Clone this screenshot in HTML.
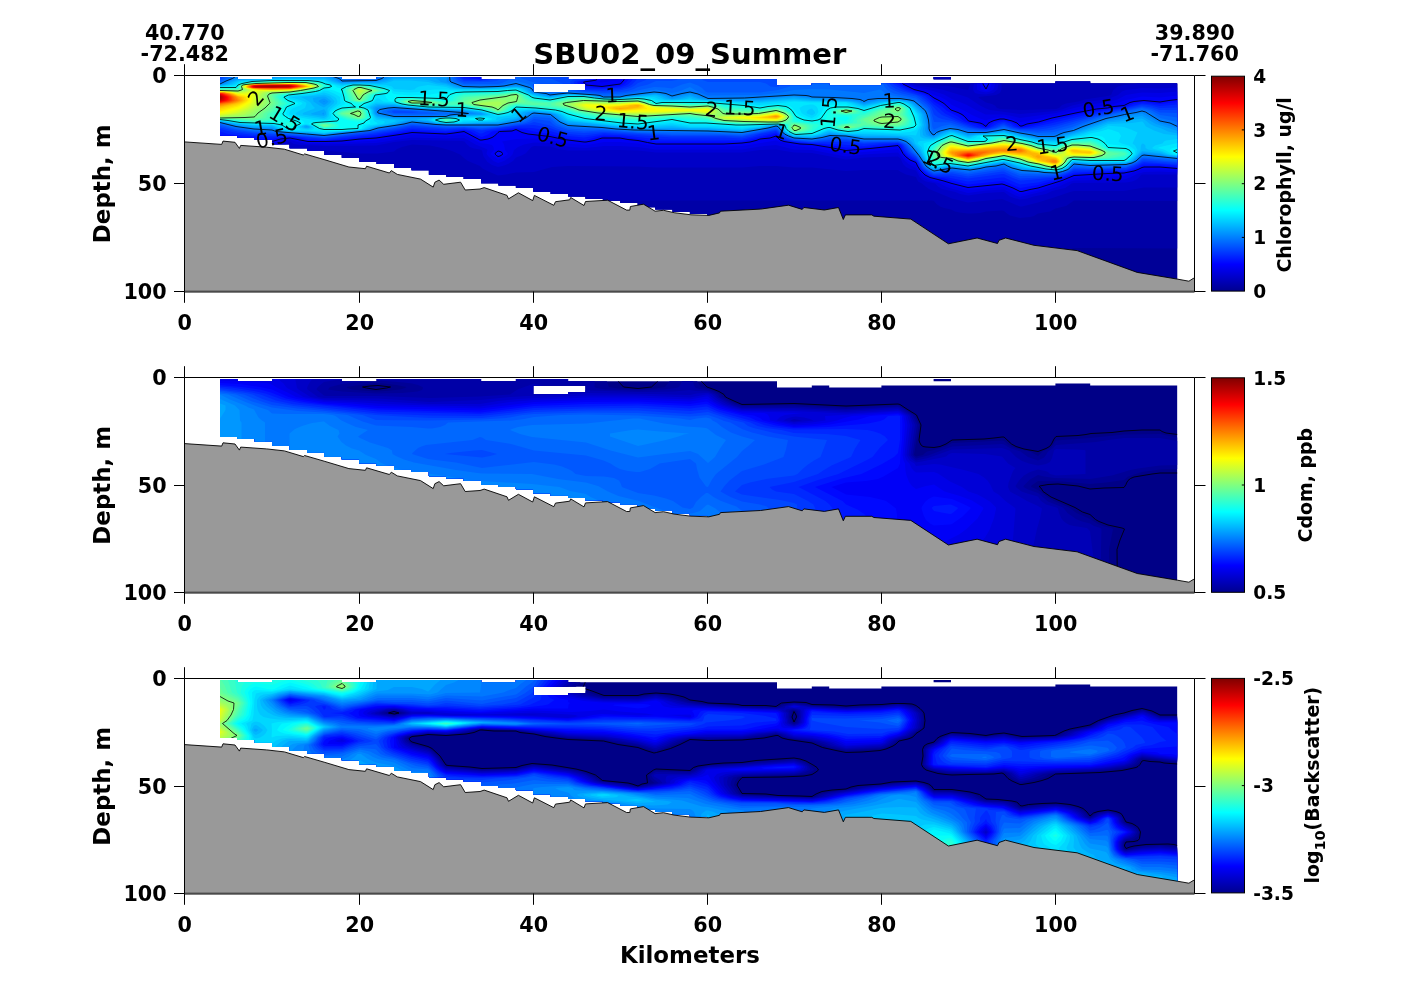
<!DOCTYPE html>
<html><head><meta charset="utf-8"><title>SBU02_09_Summer</title>
<style>
html,body{margin:0;padding:0;background:#fff}
svg{display:block}
text{font-family:'DejaVu Sans','Liberation Sans',sans-serif;font-weight:bold;fill:#000}
.t{font-size:20.7px}
.c{font-size:18.6px}
.cl{font-size:18.9px}
.l{font-size:22.9px}
.k{font-size:20px;font-weight:normal}
.ax{stroke:#000;stroke-width:1;fill:none}
</style></head><body>
<svg width="1422" height="1005" viewBox="0 0 1422 1005">
<defs>
<filter id="nf" filterUnits="userSpaceOnUse" x="0" y="0" width="1422" height="1005"><feOffset dx="0" dy="0"/></filter>
<linearGradient id="jet" x1="0" y1="1" x2="0" y2="0">
<stop offset="0" stop-color="rgb(0,0,143)"/>
<stop offset="0.125" stop-color="rgb(0,0,255)"/>
<stop offset="0.375" stop-color="rgb(0,255,255)"/>
<stop offset="0.625" stop-color="rgb(255,255,0)"/>
<stop offset="0.875" stop-color="rgb(255,0,0)"/>
<stop offset="1" stop-color="rgb(128,0,0)"/>
</linearGradient>
<clipPath id="cp0"><path clip-rule="evenodd" d="M220.0,77.0L237.4,77.0L237.4,79.3L254.8,79.3L254.8,79.3L272.2,79.3L272.2,77.0L289.6,77.0L289.6,77.0L307.0,77.0L307.0,77.0L324.4,77.0L324.4,77.0L341.8,77.0L341.8,79.3L359.2,79.3L359.2,79.3L376.6,79.3L376.6,77.0L394.1,77.0L394.1,77.0L411.5,77.0L411.5,77.0L428.9,77.0L428.9,77.0L446.3,77.0L446.3,77.0L463.7,77.0L463.7,77.0L481.1,77.0L481.1,79.3L498.5,79.3L498.5,79.3L515.9,79.3L515.9,77.0L533.3,77.0L533.3,77.0L550.7,77.0L550.7,77.0L568.1,77.0L568.1,79.3L585.5,79.3L585.5,79.3L602.9,79.3L602.9,79.3L620.3,79.3L620.3,79.3L637.7,79.3L637.7,79.3L655.1,79.3L655.1,79.3L672.5,79.3L672.5,79.3L689.9,79.3L689.9,79.3L707.3,79.3L707.3,79.3L724.7,79.3L724.7,79.3L742.2,79.3L742.2,79.3L759.6,79.3L759.6,79.3L777.0,79.3L777.0,85.6L794.4,85.6L794.4,85.6L811.8,85.6L811.8,83.6L829.2,83.6L829.2,85.6L846.6,85.6L846.6,85.6L864.0,85.6L864.0,85.6L881.4,85.6L881.4,83.6L898.8,83.6L898.8,83.6L916.2,83.6L916.2,83.6L933.6,83.6L933.6,83.6L951.0,83.6L951.0,83.6L968.4,83.6L968.4,83.6L985.8,83.6L985.8,83.6L1003.2,83.6L1003.2,83.6L1020.6,83.6L1020.6,83.6L1038.0,83.6L1038.0,83.6L1055.4,83.6L1055.4,81.4L1072.8,81.4L1072.8,81.4L1090.2,81.4L1090.2,83.6L1107.7,83.6L1107.7,83.6L1125.1,83.6L1125.1,83.6L1142.5,83.6L1142.5,83.6L1159.9,83.6L1159.9,83.6L1177.3,83.6L1177.3,279.7L1137.2,273.0L1077.1,251.2L1034.0,245.9L1005.6,238.6L999.0,240.9L997.5,244.1L977.1,238.6L948.4,244.4L910.8,219.7L873.9,216.8L871.8,215.5L845.4,215.5L843.3,220.1L838.5,208.1L824.3,210.6L803.9,208.1L802.2,210.0L788.5,205.8L760.6,209.7L720.5,211.8L719.5,213.5L708.9,216.0L707.3,216.0L707.3,214.0L689.9,214.0L689.9,212.0L672.5,212.0L672.5,209.4L655.1,209.4L655.1,207.3L637.7,207.3L637.7,203.1L620.3,203.1L620.3,200.9L602.9,200.9L602.9,198.8L585.5,198.8L585.5,196.6L568.1,196.6L568.1,193.9L550.7,193.9L550.7,191.8L533.3,191.8L533.3,187.7L515.9,187.7L515.9,185.4L498.5,185.4L498.5,183.2L481.1,183.2L481.1,179.1L463.7,179.1L463.7,176.8L446.3,176.8L446.3,174.7L428.9,174.7L428.9,170.3L411.5,170.3L411.5,168.1L394.1,168.1L394.1,163.9L376.6,163.9L376.6,161.7L359.2,161.7L359.2,157.7L341.8,157.7L341.8,155.1L324.4,155.1L324.4,150.9L307.0,150.9L307.0,148.2L289.6,148.2L289.6,144.3L272.2,144.3L272.2,139.9L254.8,139.9L254.8,137.4L237.4,137.4L237.4,135.4L220.0,135.4ZM533.3,83.8L533.3,92.2L568.1,92.2L568.1,90.0L585.5,90.0L585.5,83.8ZM933.6,77.0L951.0,77.0L951.0,79.3L933.6,79.3Z"/></clipPath>
<clipPath id="cp1"><path clip-rule="evenodd" d="M220.0,379.0L237.4,379.0L237.4,381.3L254.8,381.3L254.8,381.3L272.2,381.3L272.2,379.0L289.6,379.0L289.6,379.0L307.0,379.0L307.0,379.0L324.4,379.0L324.4,379.0L341.8,379.0L341.8,381.3L359.2,381.3L359.2,381.3L376.6,381.3L376.6,379.0L394.1,379.0L394.1,379.0L411.5,379.0L411.5,379.0L428.9,379.0L428.9,379.0L446.3,379.0L446.3,379.0L463.7,379.0L463.7,379.0L481.1,379.0L481.1,381.3L498.5,381.3L498.5,381.3L515.9,381.3L515.9,379.0L533.3,379.0L533.3,379.0L550.7,379.0L550.7,379.0L568.1,379.0L568.1,381.3L585.5,381.3L585.5,381.3L602.9,381.3L602.9,381.3L620.3,381.3L620.3,381.3L637.7,381.3L637.7,381.3L655.1,381.3L655.1,381.3L672.5,381.3L672.5,381.3L689.9,381.3L689.9,381.3L707.3,381.3L707.3,381.3L724.7,381.3L724.7,381.3L742.2,381.3L742.2,381.3L759.6,381.3L759.6,381.3L777.0,381.3L777.0,387.6L794.4,387.6L794.4,387.6L811.8,387.6L811.8,385.6L829.2,385.6L829.2,387.6L846.6,387.6L846.6,387.6L864.0,387.6L864.0,387.6L881.4,387.6L881.4,385.6L898.8,385.6L898.8,385.6L916.2,385.6L916.2,385.6L933.6,385.6L933.6,385.6L951.0,385.6L951.0,385.6L968.4,385.6L968.4,385.6L985.8,385.6L985.8,385.6L1003.2,385.6L1003.2,385.6L1020.6,385.6L1020.6,385.6L1038.0,385.6L1038.0,385.6L1055.4,385.6L1055.4,383.4L1072.8,383.4L1072.8,383.4L1090.2,383.4L1090.2,385.6L1107.7,385.6L1107.7,385.6L1125.1,385.6L1125.1,385.6L1142.5,385.6L1142.5,385.6L1159.9,385.6L1159.9,385.6L1177.3,385.6L1177.3,580.8L1137.2,574.1L1077.1,552.4L1034.0,547.2L1005.6,539.9L999.0,542.2L997.5,545.4L977.1,539.9L948.4,545.7L910.8,521.1L873.9,518.2L871.8,516.9L845.4,516.9L843.3,521.5L838.5,509.5L824.3,512.0L803.9,509.5L802.2,511.4L788.5,507.2L760.6,511.1L720.5,513.2L719.5,514.9L708.9,517.4L707.3,517.3L707.3,515.4L689.9,515.4L689.9,513.4L672.5,513.4L672.5,510.8L655.1,510.8L655.1,508.7L637.7,508.7L637.7,504.5L620.3,504.5L620.3,502.3L602.9,502.3L602.9,500.2L585.5,500.2L585.5,498.0L568.1,498.0L568.1,495.4L550.7,495.4L550.7,493.3L533.3,493.3L533.3,489.2L515.9,489.2L515.9,486.9L498.5,486.9L498.5,484.7L481.1,484.7L481.1,480.6L463.7,480.6L463.7,478.3L446.3,478.3L446.3,476.2L428.9,476.2L428.9,471.9L411.5,471.9L411.5,469.7L394.1,469.7L394.1,465.5L376.6,465.5L376.6,463.3L359.2,463.3L359.2,459.3L341.8,459.3L341.8,456.7L324.4,456.7L324.4,452.6L307.0,452.6L307.0,449.9L289.6,449.9L289.6,446.0L272.2,446.0L272.2,441.6L254.8,441.6L254.8,439.1L237.4,439.1L237.4,437.1L220.0,437.1ZM533.3,385.8L533.3,394.1L568.1,394.1L568.1,391.9L585.5,391.9L585.5,385.8ZM933.6,379.0L951.0,379.0L951.0,381.3L933.6,381.3Z"/></clipPath>
<clipPath id="cp2"><path clip-rule="evenodd" d="M220.0,680.0L237.4,680.0L237.4,682.3L254.8,682.3L254.8,682.3L272.2,682.3L272.2,680.0L289.6,680.0L289.6,680.0L307.0,680.0L307.0,680.0L324.4,680.0L324.4,680.0L341.8,680.0L341.8,682.3L359.2,682.3L359.2,682.3L376.6,682.3L376.6,680.0L394.1,680.0L394.1,680.0L411.5,680.0L411.5,680.0L428.9,680.0L428.9,680.0L446.3,680.0L446.3,680.0L463.7,680.0L463.7,680.0L481.1,680.0L481.1,682.3L498.5,682.3L498.5,682.3L515.9,682.3L515.9,680.0L533.3,680.0L533.3,680.0L550.7,680.0L550.7,680.0L568.1,680.0L568.1,682.3L585.5,682.3L585.5,682.3L602.9,682.3L602.9,682.3L620.3,682.3L620.3,682.3L637.7,682.3L637.7,682.3L655.1,682.3L655.1,682.3L672.5,682.3L672.5,682.3L689.9,682.3L689.9,682.3L707.3,682.3L707.3,682.3L724.7,682.3L724.7,682.3L742.2,682.3L742.2,682.3L759.6,682.3L759.6,682.3L777.0,682.3L777.0,688.6L794.4,688.6L794.4,688.6L811.8,688.6L811.8,686.6L829.2,686.6L829.2,688.6L846.6,688.6L846.6,688.6L864.0,688.6L864.0,688.6L881.4,688.6L881.4,686.6L898.8,686.6L898.8,686.6L916.2,686.6L916.2,686.6L933.6,686.6L933.6,686.6L951.0,686.6L951.0,686.6L968.4,686.6L968.4,686.6L985.8,686.6L985.8,686.6L1003.2,686.6L1003.2,686.6L1020.6,686.6L1020.6,686.6L1038.0,686.6L1038.0,686.6L1055.4,686.6L1055.4,684.4L1072.8,684.4L1072.8,684.4L1090.2,684.4L1090.2,686.6L1107.7,686.6L1107.7,686.6L1125.1,686.6L1125.1,686.6L1142.5,686.6L1142.5,686.6L1159.9,686.6L1159.9,686.6L1177.3,686.6L1177.3,881.8L1137.2,875.1L1077.1,853.4L1034.0,848.2L1005.6,840.9L999.0,843.2L997.5,846.4L977.1,840.9L948.4,846.7L910.8,822.1L873.9,819.2L871.8,817.9L845.4,817.9L843.3,822.5L838.5,810.5L824.3,813.0L803.9,810.5L802.2,812.4L788.5,808.2L760.6,812.1L720.5,814.2L719.5,815.9L708.9,818.4L707.3,818.3L707.3,816.4L689.9,816.4L689.9,814.4L672.5,814.4L672.5,811.8L655.1,811.8L655.1,809.7L637.7,809.7L637.7,805.5L620.3,805.5L620.3,803.3L602.9,803.3L602.9,801.2L585.5,801.2L585.5,799.0L568.1,799.0L568.1,796.4L550.7,796.4L550.7,794.3L533.3,794.3L533.3,790.2L515.9,790.2L515.9,787.9L498.5,787.9L498.5,785.7L481.1,785.7L481.1,781.6L463.7,781.6L463.7,779.3L446.3,779.3L446.3,777.2L428.9,777.2L428.9,772.9L411.5,772.9L411.5,770.7L394.1,770.7L394.1,766.5L376.6,766.5L376.6,764.3L359.2,764.3L359.2,760.3L341.8,760.3L341.8,757.7L324.4,757.7L324.4,753.6L307.0,753.6L307.0,750.9L289.6,750.9L289.6,747.0L272.2,747.0L272.2,742.6L254.8,742.6L254.8,740.1L237.4,740.1L237.4,738.1L220.0,738.1ZM533.3,686.8L533.3,695.1L568.1,695.1L568.1,692.9L585.5,692.9L585.5,686.8ZM933.6,680.0L951.0,680.0L951.0,682.3L933.6,682.3Z"/></clipPath>
</defs>
<rect width="1422" height="1005" fill="#fff"/>
<g id="panel0">
<g clip-path="url(#cp0)"><rect x="220.0" y="75.5" width="957.6" height="216.0" fill="rgb(0,0,135)"/>
<path fill="#000097" d="M220,75.5l957.5,0l0,216l-957.5,0z"/>
<path fill="#0000a7" d="M220,75.5l957.5,0l0,173l-103.5-0.5l-24,6.5l-18,3.5l-12,1.5l-18-5l-34,2.5l-18-3l-16-5.5l-2-0.5l-434,0l-18-2l-16-3.5l-18,0l-34-3l-36-5l-18-1l-32-4l-36-6l-18-1.5l-18-2.5l-34-3z"/>
<path fill="#0000b7" d="M220,75.5l957.5,0l0,125.5l-103.5-0.5l-8,5.5l-10.5,2.5l-5.5,3l-12,2l-4,2.5l-4,1l-10,1l-10-2.5l-3-2l-3-2.5l-2-0.5l-16,1l-6,1.5l-8,0.5l-4,0l-8.5-1l-4.5-1l-4-2l-7-1.5l-4-1.5l-3.5-2.5l-2.5-3l-2-0.5l-434,0l-18-3l-16-5.5l-18,0l-34-4.5l-18-3.5l-15-3.5l-21-2l-28-5l-21-5l-12-2.5l-7-2.5l-26-2.5l-6-1l-4-2.5l-12-0.5l-5-1.5l-11-0.5l-4-0.5l-2-1.5z"/>
<path fill="#0000c7" d="M220,75.5l694.5,0l0,7.5l1.5,1l32,2l20,4l2.5-6l0.5-8.5l30.5,0l0,14l-1.5,3.5l-2,1l-2,1l-17.5,2l0.5,1l7,4.5l6,1.5l3,1.5l2,2.5l3.5,1l21.5,1l34-1l3-1l3-3l4-1.5l12.5-2l6-2l23.5-3.5l3-1l2.5-5.5l4.5-3l6-1.5l11.5-1l2-1l0-7.5l40,0l0,112l-33.5,0l-20,3.5l-50,0l-4,1l-16,5.5l-16,5l-16,4l-2,0l-13-5.5l-5-2l-34,3.5l-16-4l-23-9.5l-3.5-2.5l-3.5-3l-4-2l-2-4.5l-10-2.5l-6-3l-2-1.5l-34,0l-18,1l-34-3.5l-18,0l-18-1.5l-16,0l-18,1.5l-86,0l-18-1l-70-0.5l-16,1l-18,5l-18,0.5l-10,2l-8,1l-9.5-4l-6-3l-2.5-2.5l-12-5l-3.5-2.5l-4.5-4l-8-3.5l-10-3l-12-2.5l-18-1l-10,2.5l-5,2l-3,2.5l-16,2l-18,0l-36-3l-16,4l-2,0l-16-4.5l-4,3.5l-4,1.5l-10,2l-14-2.5l-38-4.5z"/>
<path fill="#0000d7" d="M220,75.5l691.5,0l0,7.5l4.5,2.5l12,1.5l14,2.5l20,6l6,2l12,8l6,3l4,1.5l30,4l36-3l7.5-2l8.5-3.5l18-4l18-2.5l10-4l4-3.5l4-1.5l16-2l18,0.5l17.5-1l0,87l-35.5,0l-1,0.5l-2.5,3l-2.5,2l-4,1.5l-6,1l-52,0.5l-2.5,0.5l-2.5,2l-4,2.5l-13,3l-6,3l-12.5,2.5l-6,2l-7.5,1l-6-1.5l-4-1.5l-6-4.5l-2,0l-16,1l-18,2.5l-8-1.5l-4.5-2l-13.5-3l-4-2.5l-3-3l-9-2l-4-2l-2.5-2.5l-3.5-6.5l-6-1.5l-4-2l-3-3l-2.5-5.5l-2.5-2l-34,1l-18,2l-34-6.5l-18-0.5l-18-3l-16,0.5l-18,2.5l-86,0l-18-2l-18-0.5l-16,0l-18,0.5l-18,0l-10-1.5l-5.5-2l-2.5-0.5l-16-0.5l-2.5,1l-6,6.5l-4,2l-5.5,2l-3,3.5l-5,3l-4,1.5l-6,1.5l-6-2l-4.5-3l-4-5.5l-1.5-6l-2-1l-6-1l-4-1.5l-3-2.5l-2.5-3l-2.5-0.5l-50-1l-18,2l-18,3.5l-50,0.5l-26-1l-6-1l-4-2.5l-2,1l-4.5,4.5l-3.5,2.5l-8,3.5l-34-3.5l-18-2.5zM974,75.5l24.5,0l0,7.5l-1,6.5l-2.5,2l-2,1.5l-7,1.5l-7-0.5l-4-1l-1-1.5l-1-2l1-6.5z"/>
<path fill="#0000e7" d="M220,75.5l688.5,0l0,7.5l1.5,1.5l6,2.5l12,2.5l16,5l8,4.5l14,5.5l10,5.5l9.5,4.5l18.5,0l8,1.5l8,2l36-5l18-5l16-3.5l18-2.5l9.5-2.5l8.5-4.5l6-1l10-1.5l18,0.5l17.5-1.5l0,81l-17.5-1l-16,0.5l-7,2l-7,3.5l-6,2l-50,1l-6.5,2l-7.5,3.5l-19.5,6l-20.5,5l-4.5-1.5l-11.5-6l-18,1l-18,2.5l-20-5.5l-4.5-2l-3.5-2l-11-3l-6.5-3.5l-2-2l-4.5-7l-4-2l-3.5-2l-3.5-3l-7-8.5l-34,2l-18,2l-34-6.5l-18-0.5l-18-4.5l-16,1.5l-18,3l-86,0l-18-2.5l-18-1l-16,0l-18,2l-16-1l-20-4l-16-0.5l-10,2l-6,2.5l-4,3l-1.5,4.5l-3,3l-5.5,3.5l-6,2l-4.5-2l-5-4.5l-1.5-2l-0.5-1l1-3.5l-1-1l-11-4.5l-5-3l-6.5-3.5l-18,0.5l-34-1l-36,5.5l-50,1.5l-20-0.5l-16-4l-6,1.5l-12,7l-34-2l-18-2.5zM977,75.5l18.5,0l0,7.5l-2,6.5l-3.5,2l-4,1l-5-1l-4-2z"/>
<path fill="#0000f7" d="M220,75.5l380.5,0l0,4.5l-0.5,1l-1.5,1l3.5,0.5l16-2.5l1-1.5l0-3l286,0l0,7.5l1,1l10,4.5l12,3l6,3.5l6.5,2l5.5,3l6,5l12,5.5l8,4.5l8,3.5l6,2l2-1l6-1.5l10-1.5l10,3l6,2.5l2,0l40-8l12-3.5l40-6.5l12-4l16-3.5l18,1l17.5-2l0,75l-17.5-1l-16,0l-2,0l-18,6.5l-50,2l-18,6.5l-18,6l-18,4l-12-6l-4-1.5l-2,0l-34,3l-16-4l-9-3.5l-13-3.5l-4.5-2l-3-2l-4-5.5l-2.5-4.5l-8-4l-2-2l-3.5-3.5l-4.5-6.5l-52,4.5l-31-5.5l-21-2l-14-4l-4-1.5l-34,5.5l-18,0.5l-68,0l-18-3l-18-1.5l-16,0l-14,2.5l-6,0.5l-16-1.5l-18-3.5l-16-1.5l-18,0.5l-14,2.5l2,3l1,5.5l3,3.5l-0.5,1l-3.5,2.5l-4,2l-2,0.5l-7-5l0-1l3-3.5l-0.5-3l-1.5-2l-4-1l-8-1l-16-8.5l-18,1.5l-34-1.5l-36,6l-34,2l-18,0.5l-16,0l-18-4l-11.5,2.5l-6.5,3l-18,0l-16-1l-18-2.5zM980,75.5l12,0l0,7.5l-2.5,6.5l-3.5,1.5l-4.5-1.5l-1.5-6z"/>
<path fill="#0008ff" d="M220,75.5l377,0l-0.5,4.5l-2.5,0.5l-10.5,1.5l2.5,3l16,1.5l18.5-2.5l3.5-4l0.5-4.5l277.5,0l0,7.5l1,1l11,5.5l10,2.5l4.5,2l5.5,4l5,2.5l5,3l7,6.5l11,4.5l2.5,2l4,4.5l11.5,2l6,3.5l2-3l2.5-1.5l3.5-1.5l6-1.5l4,0l8,2l5,2l3,3l2,0l5-2l11.5-2l13.5-4l26-5.5l18.5-3.5l27.5-3.5l6-3l4-1l10-1l16,1.5l17.5-2.5l0,69l-17.5-1.5l-16,0l-2,0.5l-8,3.5l-10,2l-50,2.5l-12,5l-24,7.5l-16,3.5l-2,0l-7-3.5l-9-3.5l-12,0.5l-24,2.5l-16-4l-10-3l-12-3l-5-2.5l-5-5l-2.5-4l-1.5-3.5l-6-2.5l-4.5-3.5l-2.5-3l-3-5.5l-2-2.5l-28,3l-24,2l-16-3l-18-3l-12-0.5l-16-2.5l-4-1.5l-4-4l-6,2l-10,1l-10,3l-8,1l-16,1l-70,0l-18-3.5l-10-1l-8-1.5l-18,0l-8,2.5l-10,1.5l-20-2.5l-14-3l-22-2.5l-6-1.5l-6-3l-4,1.5l-12.5,0.5l-1.5,1l-3.5,3.5l-2.5,1.5l-4,1.5l-6,1l-2,0l-16-8.5l-18,2.5l-34-1.5l-34,5.5l-40,3l-14,0.5l-16,0l-18-3.5l-9.5,1l-8.5,2.5l-34-1l-18-2zM983,75.5l6,0l0,7.5l-3,6l-3-5zM498,151l2,0.5l2,1l0.5,1l0,1l-2.5,1.5l-2,0.5l-1.5-1l-1-1l-0.5-1z"/>
<path fill="#0018ff" d="M220,75.5l244,0l0,1l16,2l4.5-1l-1-2l110,0l0,3l-1,1.5l-12.5,2l2,3l4,2l16,1l18-2l2.5-1l2-1l4-4l0-4.5l270,0l0,7.5l3,2l8.5,4.5l12,3.5l4.5,2l3,2l4.5,4.5l8,5l5,4.5l11,5.5l6,4.5l4,1.5l8,1.5l8,3.5l2,0l3-1l5-4l8-2l2,0l6,1.5l4,2l3.5,2.5l2.5,0.5l2,0.5l6.5-1l53.5-13l20-3.5l24-3.5l8-3l5-1l5-0.5l16,2l17.5-2l0,65l-17.5-1.5l-16,0l-2,0l-8,4l-8,2l-52,2.5l-18,6.5l-9.5,2l-8.5,2.5l-18,3l-16-7l-2,0l-34,3.5l-24-6l-12-1.5l-4.5-2l-6.5-5.5l-2.5-3.5l-2.5-5l-5-2.5l-4-3l-3-3.5l-3.5-6.5l-2.5-1l-34,3l-18,0l-22-3l-20-1l-16-2l-6-2l-2-1.5l-2-2.5l-2-1.5l-34,7.5l-86,0l-32-4.5l-20-1l-6.5,1l-11.5,3l-18-1.5l-18-4.5l-16-2.5l-8-2l-10-1l-24,3l-4,3l-6,2.5l-2-0.5l-9.5-5l-6.5-1.5l-18,2.5l-34-2l-36,6l-34,3l-16,1l-18-0.5l-10-2l-8-1l-12.5,1l-5.5,1.5l-34-1.5l-18-2.5z"/>
<path fill="#0028ff" d="M220,75.5l241.5,0l0,1l2.5,1.5l16,1.5l6-1l2-1l-0.5-2l102.5,0l0,3l-1,1.5l-9,1l-3,1l1.5,3l7.5,3.5l16,0.5l18-1.5l6-2l2.5-1.5l4-4l0-4.5l263,0l0,7.5l1,1l9.5,5.5l14,4.5l5,2l4,3.5l5,5l5,3.5l3,3l3,2.5l17.5,8.5l16.5,5.5l5,0.5l2,0.5l4-1l8-4.5l6-1.5l6,2l4.5,3l5.5,1.5l10.5-0.5l17.5-3.5l48-11.5l30-5l16-4l10,1l8,1.5l17.5-1.5l0,61l-17.5-1.5l-16-0.5l-2,0.5l-8,4l-8,2.5l-52,2l-18,6.5l-10,1.5l-8,2l-18,2l-16-7l-2,0l-34,4l-20-4l-14-1l-2-0.5l-4-2l-6-5l-2.5-3l-1-3l-2.5-3l-4-2.5l-4-3l-3-3.5l-3-5.5l-1-1l-3-1l-14,0.5l-20,2l-32-2l-24-1l-14-1.5l-8-1.5l-4-2l-4-4l-2-1.5l-34,7.5l-78-0.5l-8-0.5l-32-3.5l-20-1l-20,3l-16-1.5l-18-5l-18-3l-16-0.5l-25.5,3l-4.5,1l-4,2l-2,0l-6.5-3l-9.5-1l-18,1.5l-34-2l-36,6l-36,3.5l-16,1.5l-16-1l-8-1.5l-10-1l-18,1l-28-2l-16-1.5l-8-2.5z"/>
<path fill="#0038ff" d="M220,75.5l239.5,0l0,1l1,1l3.5,2l16,1l5.5-0.5l5-1.5l1.5-1l-0.5-2l94.5,0l0,3.5l-2.5,1l-7.5,0.5l-2.5,1.5l1.5,3l5,3l4.5,1.5l17.5,1l18-1.5l9-2.5l3.5-2.5l4-4l0.5-4.5l255.5,0l0,7.5l1.5,2l10.5,5.5l17,5.5l7,5.5l9.5,10.5l4,3l22,9l10.5,3.5l9.5,1.5l2,0l6-1.5l8-3.5l4-1l10,4.5l6,1.5l12-0.5l10-1.5l12-2l44-11.5l28-5l16-4l8.5,1l9.5,2.5l17.5-0.5l0,57l-33.5-2.5l-2,0.5l-2.5,1.5l-5.5,2.5l-8,3l-18,0l-18,1l-16,0l-9.5,4.5l-8.5,2.5l-34,3l-2,0l-6-2l-10-4.5l-2,0l-34,4.5l-18-3l-16,0l-4-1.5l-7.5-5.5l-1.5-2.5l-2.5-4l-2.5-3.5l-4-2.5l-4-3.5l-5.5-8l-4.5-1.5l-16,0l-18,1l-18-2l-16,0l-18,0.5l-18-1.5l-6-1.5l-4-1.5l-8-7l-16,3l-8,2.5l-10,2l-18-1l-52,0l-68-4.5l-20,2.5l-16-1.5l-8.5-2.5l-9.5-3.5l-16-3l-18,1l-34,4.5l-18-2l-18,1l-34-2l-22,4l-18,2.5l-48,5l-32-3l-20,0l-18-1l-20-2.5l-14-3.5z"/>
<path fill="#0048ff" d="M222.5,75.5l235,0l0,1l1,1l5.5,3.5l16,0l8-0.5l6-1.5l1.5-1.5l0-2l75.5,0l0,1l2,2l-0.5,1.5l-2,1l-0.5,1l1,2l2,2.5l4,2l7,2l20,1l16-1l10-2.5l4-2l4-3l8-3l0.5-4.5l242.5,0l0,7.5l3,3.5l4,2.5l6.5,2.5l13.5,3.5l4,2l5.5,4.5l4.5,4l2,3.5l2,5.5l4,3l4,1.5l10,2l18,6.5l10,1.5l7.5,0.5l8.5-2l6-3l2,0l7,3l9,2l18,0l8.5-1l9.5-2l44-12l26-5l16-3.5l10,1.5l8,2.5l17.5,0l0,53l-33.5-2.5l-2,0.5l-2.5,2l-3.5,1.5l-10,3.5l-36,1.5l-16-0.5l-6,3.5l-12,4l-18,1l-18,1l-7-2.5l-9-4.5l-2,0l-34,5l-16-3l-18,1l-4-2l-6-4l-2-2.5l-2.5-4l-3.5-5l-6.5-5l-5.5-7l-4-2.5l-2-0.5l-16,0l-18,1l-18-2.5l-16,0l-18,1.5l-18-1.5l-4.5-1.5l-5.5-2l-4-3l-2-3l-2-1l-20,4l-14,3l-18-1l-52,0l-68-4l-20,1l-16-1l-10-3l-8-3.5l-16-3.5l-4,1.5l-6,1l-42,5l-18-2l-18,1l-34-2.5l-14,3l-30,4.5l-44,4.5l-20-1.5l-50-3l-16.5-2l-17.5-4l0-49.5l2.5-1.5z"/>
<path fill="#0058ff" d="M226,75.5l229.5,0l0.5,2l2,2l2.5,1.5l3.5,1.5l24-0.5l8-1l2-0.5l2.5-2l0-3l30.5,0l0,1l3,1.5l16,0.5l2,0.5l11.5,5l4.5,1.5l4.5,3l5,2l6.5,1l20,1.5l16-1l8-1l6-2l4-2l10-2.5l8-3.5l16,0l2-0.5l3-0.5l1-1.5l0-3l24,0l0,3l0.5,1.5l5.5,2l52,0l6,1.5l4.5,3l5.5,0.5l3-0.5l0-11l107,0l0,7.5l1,2l3.5,3.5l4,2l7.5,3l14,3l4,3l6.5,5l3,3.5l1,2l3.5,12l16,0.5l16,5l10,2l10,1l9.5-2l6.5-2.5l2-0.5l7,3l9,2l18,1l14-1.5l4-1l16-4.5l10-3.5l18-5l26-5.5l16-3.5l10,2l8,3.5l17.5,0.5l0,49l-33.5-3l-2,0.5l-6,4l-10,4l-36,1l-16-0.5l-6,3.5l-10,3.5l-4,0.5l-34,0.5l-16-6.5l-2,0l-34,5l-16-2.5l-18,1.5l-7.5-4l-2.5-2l-7.5-11l-5.5-4.5l-5.5-7.5l-4-2l-3.5-1l-34,0.5l-18-2.5l-16,0l-18,1.5l-18-1.5l-6-1.5l-4-2l-4-3.5l-2-2.5l-2-1l-34,7l-18-1l-52,0l-34-2l-36-2.5l-18,1l-16-1.5l-12-4l-3-2l-3-3l-16-2l-5,3l-5,1.5l-26,3.5l-18,1.5l-16-1.5l-18,0.5l-34-2.5l-16,3l-22,3.5l-50,6l-18-1.5l-52-3.5l-20-3l-14-3.5l0-46.5l6-3zM394,110.5l-1.5,0.5l-0.5,1l2,1l18,0l6.5-1l-6.5-0.5z"/>
<path fill="#0068ff" d="M229,75.5l120,0l0,1l5,2l6,0.5l7-0.5l0-3l86.5,0l0.5,2l3,3.5l7,3l18,0l16,0l4-1l9.5-4.5l0-3l8.5,0l0,1l1.5,2l12.5,4l10,2l8,2.5l16,2l3.5,1.5l5,1l27.5,3l18-1l12-2l8-2l12-2.5l10.5,0.5l7.5,1l10-4l8-2l8,3l4,2.5l3.5,3.5l2.5,1l52,0l18-2.5l12-3.5l0-11l92.5,0l0.5,8.5l2,3.5l3,3l6,3l22,5l10,8.5l2,2l2,4.5l1.5,6.5l1,7.5l1.5,2l8-3.5l8-1.5l18,5l10,1.5l8,0l18-4l6,2l10,2.5l18,1.5l16-1l18-5l10-4l20-6.5l40-8.5l8.5,2l9.5,5l17.5,2.5l0,43l-33.5-2.5l-2,0l-3,3l-3.5,2l-9.5,3.5l-36,1l-16-1l-4,3l-3.5,2l-12.5,3l-34-0.5l-16-6l-2-0.5l-34,5.5l-16-2.5l-18,2l-6-3l-4-3l-6.5-10l-5.5-5.5l-5-6.5l-5-2.5l-4-1.5l-34,0.5l-18-2.5l-16-0.5l-18,2.5l-18-1.5l-8.5-3l-4.5-3.5l-3-3.5l-2-1l-34,7l-34-1.5l-36,0l-34-1l-36-3l-18,0l-16-1l-6-2l-5.5-2.5l-6.5-6l-16-1l-8,4.5l-4,1l-24,4l-16,1l-18-1l-18,0l-34-2.5l-18,3.5l-22,3.5l-48,6l-42-3.5l-10-1l-18-1l-18-2.5l-16-4.5l0-43.5l7.5-3.5l1.5-1zM392,110l-4.5,1l-0.5,1l7,2l18,0.5l27-1l-27-3l-18-1z"/>
<path fill="#0078ff" d="M232,75.5l106.5,0l0,1l5.5,2l6,1l10,0.5l18-1.5l0.5-3l73,0l0.5,2.5l2,3.5l10,4l34,0l11.5-2.5l6.5-2l10,2.5l4,1.5l4,2.5l16,5.5l18-1.5l28,3l8,1.5l16-0.5l36-6l16,3.5l7-1.5l11-4.5l7.5,4.5l10.5,4l52-0.5l22-2.5l12-2.5l18-1l18,0.5l34,3.5l16-3.5l2,1l2.5,2.5l3.5,1.5l26,5.5l2,0.5l5.5,4l4.5,4.5l2.5,4.5l1.5,6.5l1,8.5l1,2l2,2l5-3l11-3l20,5l16,0.5l18-3.5l16,3.5l12,1.5l6,1.5l16-0.5l18-5.5l9-4l22.5-7.5l28.5-5.5l10-2.5l6.5,1.5l11.5,7l17.5,4l0,37.5l-33.5-3l-2,0.5l-6,5l-10,3.5l-36,1l-16-1.5l-5,4.5l-3,1.5l-12,3l-32-1.5l-12-3.5l-6-3l-2,0l-34,5.5l-16-2.5l-18,2.5l-6-3l-3-2.5l-7-10.5l-4.5-4.5l-5-6.5l-5.5-3l-5-1.5l-34,0l-18-3l-16-0.5l-8,2l-10,1l-18-1l-6-2l-4-2.5l-3-2.5l-3-3.5l-2-1l-34,7l-34-1.5l-36-0.5l-34-0.5l-36-3l-16-0.5l-16-1l-2,0l-8-3l-10-8l-16-1l-8,4.5l-5.5,2.5l-22.5,3.5l-16,0.5l-36-0.5l-34-2.5l-8,2l-26,4l-6,1.5l-46,5.5l-40-3l-10-1l-4-1l-18-0.5l-16-2.5l-10-2l-8-2.5l0-41l10.5-5l1.5-1zM390,109l-6,1.5l-1.5,0.5l-0.5,1l2.5,1.5l9.5,2l36,0l16-1l11-1l-47-4l-16-1z"/>
<path fill="#0087ff" d="M235.5,75.5l97.5,0l0,1l6,2l3,2.5l34-0.5l6-2l2.5-2l0-1l65,0l0.5,5.5l1,1l13,4.5l18,0.5l18-0.5l16-3l13.5,4l2,1l2.5,3.5l12,1.5l4,1.5l8-1l10-1l28,2l4,0.5l4,1.5l16.5,0l5.5-1.5l28-3.5l12,1.5l6,2.5l18-4l8,2l10,4.5l36.5-0.5l49.5-3l12,0.5l6,1.5l22,0.5l18,1l8,1l2.5,1l1.5,1l4-2l10-1l22,0l10,1.5l4,1l8.5,7l3,3l1.5,3.5l1.5,5.5l0.5,5l0,3.5l0.5,2l2.5,3.5l2,1l2.5-2.5l3.5-1.5l10-2.5l8,1l12,3l16,0l18-3l16,3.5l12,2l6,1.5l16,0l2-0.5l8-3.5l9.5-2l9.5-4l23-8l12-2.5l6.5-1.5l11.5-2l6-1.5l3.5,1l14.5,9l10,2l7.5,3.5l0,32l-33.5-3.5l-2,0.5l-6,5.5l-4,2l-6,1.5l-36,1l-16-1.5l-6,5.5l-5.5,2l-6.5,1.5l-12-0.5l-6-1l-16-1l-10-2.5l-8-4l-8,2l-10,1l-6,1.5l-10,1.5l-10-1l-8-1l-18,3l-4-2l-4-3l-7-10.5l-9-11l-4.5-3l-5.5-2l-36-0.5l-18-3l-16-0.5l-8,2l-10,1.5l-18-1l-5.5-2l-4-2l-2.5-2.5l-4-5l-2-0.5l-8,2l-26,4.5l-34-1.5l-70-0.5l-18-1l-18-2l-34-2l-8-3.5l-9.5-7.5l-16.5-1.5l-2,0.5l-6,4.5l-8,3.5l-20,3.5l-52,0l-34-3l-8,2l-26,4l-8,2.5l-28,2.5l-16,2.5l-42-3l-8-1l-4-1.5l-18-1l-16-2l-18-4.5l0-38.5l6-3l6.5-2.5l3-2zM388,108l-8,1.5l-2,1.5l-0.5,1l0.5,1l16,3.5l52,0l8-2l14.5-1l-6.5-1l-68-5z"/>
<path fill="#0097ff" d="M244,75.5l17.5,0l0,1l10.5,1l11-1l0-1l44.5,0l0,1l7.5,2l3.5,2.5l3.5,1l36-1l8-2.5l4.5-2l0-1l57,0l-1,5.5l0.5,1l15,5l18,0.5l11.5,0l19-1l5.5-1l12,2.5l1,0.5l2.5,3l2,1.5l8.5,1l8,2l8-1.5l10-0.5l26,1l4.5,1l3.5,1.5l18,0l12-2l24-2.5l8,1.5l8,3l18-4l6,1.5l6.5,3l5.5,1l34,0l16,0l36-3l18,2l40,2l6,1l6,2l8-2l6-1l24-0.5l6,1l4,1l2,1l8,7l3.5,5l2,10.5l-0.5,3.5l0.5,3l2,3.5l2.5,1l2,0l8-4.5l6-2l4,0l8,1.5l8,2.5l20-0.5l16-3l34,8l18-0.5l8-3.5l10.5-2.5l11.5-4.5l22-7.5l10-1.5l24-4.5l17.5,9.5l18,5.5l0,29l-33.5-4l-2,0.5l-7.5,7l-8.5,3l-36,0.5l-16-1.5l-2,1l-2,3l-3,2.5l-5,2l-6,1l-10-0.5l-24-2.5l-9-2l-9-4l-32,5.5l-8,0l-14-2l-16,3l-4-1.5l-3-2.5l-7.5-11.5l-10.5-12l-3.5-2l-5.5-2l-36-0.5l-11.5-2l-22.5-1.5l-10,2.5l-8,1.5l-18-1l-8.5-3.5l-3-2.5l-4-5l-2.5-1l-10,2.5l-24,4l-34-2l-52-0.5l-18,0l-18-1l-18-2l-34-2.5l-7-3l-8-6.5l-3-1l-16-1.5l-5,1.5l-5,4l-8,3.5l-18,3l-52,0.5l-12-1l-6-1l-16-1.5l-5.5,1l-6,2l-24.5,3.5l-6,2.5l-29.5,2.5l-14.5,2.5l-40-3l-8-1l-6-2.5l-18-0.5l-16-2l-18-4l0-37.5l3-0.5l5-2.5l10-4l6-1zM324,101l-1,0.5l1,0.5l1-0.5zM388,107l-10.5,1l-1.5,1l0,4.5l2,1l16,3l18,0l38-1l8-1.5l18.5-1.5l-14.5-2.5l-36-1.5l-32-3z"/>
<path fill="#00a7ff" d="M279,77.5l11-0.5l34,0l7.5,1.5l7,3.5l3.5,1l18-1l16,0l10-2l8-2.5l36,0.5l6,0.5l2,1l3,2.5l5,1l12,4l6,1l18,0l34-1.5l6,0.5l4.5,1.5l5.5,4.5l18,3.5l18-2.5l24,1.5l10,2l18,0l36-3.5l8,1.5l5,2.5l3,1l5.5-1l12.5-3l8,3l10,1.5l50,0.5l36-3l18,2l36.5,1.5l7.5,1l8,2.5l16-3.5l20-0.5l8,1l4,1.5l8.5,7.5l3,4.5l1,4l1.5,6.5l-1,5.5l1.5,4.5l3.5,1.5l4,0.5l10-5l6-2l2,0l16,5l24-2l12-2l34,7.5l18,0l10-3.5l12-3.5l30-10.5l12-1.5l22-3.5l14,8l21.5,7l0,26l-9.5-1l-8-2l-16-1.5l-2,0l-9,8.5l-7,2.5l-36,0.5l-16-1.5l-2,1l-3,4l-3,2l-4,1.5l-6,1l-8,0l-26-3l-6-2l-7.5-3l-4.5-1.5l-34,6l-20-2l-16,3l-6-3.5l-10-15.5l-8-9l-4-2.5l-6-1.5l-36-0.5l-8-1.5l-18-1l-8-1l-10,2.5l-8,1.5l-18-0.5l-8-3.5l-3.5-3l-3-4l-3.5-1.5l-12,2.5l-22,4l-34-2l-18,0l-18-1l-34,0.5l-18-1l-52-5l-6-3l-6.5-5.5l-1.5-0.5l-4-1l-16-1.5l-6,0.5l-2.5,1.5l-4.5,4l-5,2l-18,3.5l-52,1l-10-0.5l-8-2l-16-1.5l-8,1.5l-7,2.5l-21,3l-8,3l-31.5,2.5l-10.5,2l-38-2.5l-9-1.5l-7-3l-18,0l-16-2l-18-4l0-36.5l6-1l4-2.5l8-2zM306,126l0,0.5l1.5,0zM322,99l-3,1.5l-0.5,1l5.5,3.5l2-1l2.5-2.5l-2.5-2l-2-1zM392,105.5l-14,1l-2,0.5l-1.5,1l0,1l0.5,4.5l1,1.5l2,1l14,2l18,0.5l18-0.5l26-1.5l10-1.5l18.5-0.5l-0.5-1l-18-3l-40-1.5zM324,112.5l-2,1l1,1l1,0z"/>
<path fill="#00b7ff" d="M269,78.5l21-0.5l34,0l4,1l7.5,3l6.5,1.5l18-0.5l18,0l8-1.5l8-2.5l18,0l12,0.5l6,1l6,2l10,1.5l9.5,3.5l8,1l18.5,0l36-1.5l6,1.5l6,4.5l4,1l16,3l18-2.5l22,1l12,2.5l18,0l36-3.5l5,1.5l5,2.5l6,1l6,0l12-3l8,2.5l6,1l38,1l18,0l34-2.5l18,1.5l36,1l8,1.5l8,2.5l18-3.5l18-1l6,1l4,1l4,3l6.5,6.5l1.5,2.5l2,10.5l-1.5,5.5l0.5,4.5l1,1l2,1l6,1l2,0l10-5l6-2l4,0.5l14,4.5l8-1.5l16-1l12-1.5l34,7.5l18,0.5l14-5l12-3.5l26-9l16-1.5l18-2.5l4.5,2.5l3.5,3l4,2l7.5,2.5l6.5,3l9.5,2l0,23l-11.5-1.5l-6-2l-18-2l-10,10l-6,2l-36,0.5l-16-1.5l-2,0.5l-2.5,3.5l-3.5,3l-4,1.5l-6,1.5l-10-1l-21.5-2.5l-6.5-1.5l-8-3.5l-6-1.5l-34,6l-20-2l-16,3l-3.5-1.5l-2.5-2.5l-8.5-15l-6-6.5l-2.5-3l-3.5-2.5l-7.5-1.5l-18-0.5l-18,0l-24-2l-10-1.5l-10,3l-8,1.5l-18-0.5l-6-2.5l-3.5-2.5l-4.5-5.5l-1.5-1l-2.5,0l-34,5.5l-34-2l-18,0l-18-1l-34,1l-18-1.5l-34-4l-18-1.5l-4-2l-6.5-5l-3-1l-4.5-1l-16-1.5l-10.5,1l-2,1.5l-3.5,4l-2,1l-8,1.5l-8,2l-34,1.5l-24,0l-6-0.5l-8-2l-12-1.5l5.5-1l14.5-1l20-1l8-1l18-0.5l3-0.5l-1-1l-4-1.5l-16-2l-40-1.5l-22-2l-8-1.5l-16,0l-4,1.5l-1.5,1.5l1,2l0.5,3.5l2,2.5l2,1l10,1.5l18.5,1.5l-6.5,1.5l-6,2.5l-18,2.5l-10,3l-30,3l-12,1.5l-16-1.5l-20-1l-8-1.5l-8-3.5l-18,0l-16-2l-18-3.5l0-35.5l9-1.5l3-2l6-2zM304,126l0.5,1.5l1.5,0.5l3-0.5l0-1l-3-1zM318,97l-5,1l0.5,3.5l6,4l4.5,2l4.5-3l3-3l-2-2l-3.5-2.5l-2-0.5zM322,110l-11,3.5l1,1l12,1.5l2-1.5l0-2.5l-2-3z"/>
<path fill="#00c7ff" d="M284,78.5l40,0.5l3.5,1l6.5,2.5l8,2l18-1l20,0.5l6.5-1l7.5-2.5l16,0l18,1.5l10,2.5l8,1l8,2.5l8,1l30,0l24-1.5l5.5,1l7,4.5l5.5,2l16,3l18-3l20,0.5l14,2.5l18,0.5l34-3l3,0.5l7.5,3.5l7.5,0.5l12-0.5l6-1.5l3.5,1.5l8.5,0.5l40,1.5l18,0.5l34-2.5l18,1.5l34,0.5l7,1l11,3.5l20-4l16-1l7.5,1.5l4,2l2.5,2.5l6.5,7.5l2,10.5l-2.5,5.5l0,4.5l0.5,2l3.5,1.5l8,0.5l2,0l16-7l4,0.5l14,4.5l9.5-2l26.5-2.5l34,8l16,0.5l2,0l16-5.5l8-2l16.5-5l11.5-4.5l24-1l10-1.5l1,0.5l3,4.5l8,4l10,3.5l13.5,1.5l0,20.5l-9.5-1.5l-8-3l-12-2l-2.5-1.5l0-2.5l-1.5-1.5l-2-0.5l-1,2l-0.5,4.5l-3,4.5l-7,6.5l-3,1l-3.5,0.5l-34,0.5l-16-1.5l-2,0.5l-3.5,4l-3,2.5l-3.5,1.5l-6,1.5l-10-1l-20-2.5l-7-2l-8.5-3l-6.5-1.5l-34,6l-20-2l-16,2.5l-2-0.5l-3-2.5l-4-6.5l-4.5-9.5l-1.5-2l-4-3.5l-1.5-4.5l-3-2l-4.5-1l-24-1l-36-1l-16-2.5l-2,0l-8,3l-8,2l-18-0.5l-5-2l-3.5-2.5l-3-3l-1-2l-1.5-1l-4-1l-7,0.5l-8.5,2.5l-10.5,1l-8,1.5l-34-2l-18,0l-18-2l-34,1.5l-18-1l-52-6l-8-6l-3-1l-7-2l-16-1.5l-8,0.5l-6,1.5l-2,1.5l-2,3.5l-12,1.5l-8,3l-36,2l-16,0l-8-1l-8-2.5l-2.5,0l4.5-1.5l10-1l42-2l6-1l-2-1l-6-2l-16-2l-38-1.5l-22-2l-10-2l-16,0l-2,0l-5.5,3l0,1l2,2l0.5,3.5l3,4l2,1l4,0.5l12,1l3,1l-9.5,3l-14.5,2.5l-7.5,3l-31.5,2.5l-10,1.5l-16-2l-18,0l-8-1.5l-4-1.5l-3.5-2l-2.5-1l-18,0l-18-2l-16-2.5l0-35l12-2l3-2l5-1.5zM322,95l-21,2l6.5,3.5l3,2l2,3l2.5,2.5l-1.5,1l-9.5,3.5l-1.5,1l0.5,1l21,3.5l2.5-1.5l1-2l0-5.5l0.5-1l5.5-4.5l1-2l-1.5-2l-3-3l-6-2zM302,126l0.5,1.5l3.5,1l2,0l2.5-1l0-1l-2.5-1l-2-0.5z"/>
<path fill="#00d7ff" d="M267.5,80l22.5-1l34,1l8.5,3l9.5,2.5l6-1l12-0.5l26.5,1l5.5,1.5l2,2.5l16,1l4.5-0.5l1.5-1.5l3-1.5l9-1.5l18,2l4,1.5l4,0.5l10,0.5l34-0.5l18-1l3.5,0.5l7.5,4.5l7,2.5l16,3l18-3l18,0l18,3l16,0l18-1.5l16,0l6,2.5l10,1l20-1l10,1l60,2.5l34-2.5l18,1l34,0.5l3.5,0.5l8.5,3l6,1.5l20.5-4.5l15.5-1.5l5.5,1.5l2.5,1l5.5,4.5l5,6.5l2.5,10.5l-3,5.5l-2,5l-4-0.5l-30-1.5l-36,0l-16-3l-2,0l-8,3.5l-8,1.5l-16,0l-2,0l-6-3l-3-2l-3-4.5l-1-1l-3-0.5l-12,0.5l-6,1.5l-12,1.5l-6,1l-34-2l-18,0l-18-2.5l-34,2.5l-10-0.5l-8-1l-48-5.5l-4-1l-6-4.5l-6-2.5l-6-1l-18-1.5l-15,1.5l-3,3l-2.5,1.5l-15,2l0,1l-1,1.5l-3.5,0.5l-28,1.5l-4.5,1l-13.5,0.5l-5-0.5l-7-1.5l-4-1.5l2.5-1.5l11.5-1l18-0.5l24-1l3-0.5l1.5-1l-6-2.5l-4.5-1l-16-2l-36-1l-24-2l-10-2.5l-16-1l-2,0l-8,4.5l3.5,3l0.5,3.5l4,6l2,0.5l6.5,1l0,2l-2,1l-12.5,2l-6.5,3.5l-33.5,2.5l-6,1l-14-1.5l-20-0.5l-6.5-1.5l-3-1l-3.5-2l-5-1.5l-18,0l-16-1.5l-18-3l0-34l12-1.5l3-1l3-2l4-1zM324,92.5l-10.5,2.5l-23.5,2l12,3.5l4,2l0.5,1l-1.5,4.5l-8,4l-1.5,1.5l0.5,1l10,2.5l12,1.5l6,1l2.5-1l2-2l0.5-2l0-2.5l1-2.5l7-6l0.5-2l-1.5-3.5l-2-1.5l-5-2.5zM810,109l-2,1l-1.5,2l0.5,1.5l5,2l3-2l0-1.5l-3-3.5zM304,125l-4,1.5l0,1l4,1.5l4,0.5l3-1l1.5-1l-0.5-1l-4-1.5zM1107,126.5l1-1l4,0.5l12,1l7,2.5l6.5,3l-5,11l2.5,2l2.5,4.5l-1.5,4.5l-6,5l-2,1.5l-4,1l-34,0l-16-1l-2,0.5l-4,4.5l-2,1.5l-4,2l-6,1.5l-10-0.5l-18-3l-6-1.5l-9-3l-9-2l-34,6l-2,0l-18-2l-16,2.5l-2-1l-2-1.5l-4-6.5l-4.5-11.5l-4-3.5l1-2l1.5-0.5l14-1l14-6l4-1l16,5l2,0l4.5-2l3.5-0.5l26-2l34,8l18,0.5l16-5.5l10-2l8-3l10-2zM1177.5,139l0,16.5l-7.5-1l-8-3.5l-8-2l-2-1l3-2.5l7.5-2l1.5-2l2-1l4-0.5z"/>
<path fill="#00e7ff" d="M281,80l25-0.5l14,1l4,0.5l8,3l10,2.5l4-1.5l6-0.5l8,0l12,0.5l16,2.5l4,2l2,2l16,1l8-0.5l12-2l4-0.5l12,0l14,1l22,0l16-0.5l18-1.5l18,8l16,2.5l18-3.5l16,0.5l18,2.5l18,0.5l18-1.5l6,0.5l8,0.5l6,2l6,0.5l10,0l16-0.5l22,1l48,3.5l26-2.5l8-1l16,1l36,0l10,4l8,2l20-5l14-2l4,0.5l4,1.5l6.5,4.5l4.5,6.5l2.5,10.5l-3.5,5l-6,2l-7,0.5l-5,0.5l-34-1.5l-18,1.5l-10-2l-6-1.5l-2,0l-11,4.5l-5,1l-16,0l-2,0l-6-2.5l-2-2l-2-2l-0.5-2l-1.5-1.5l-4-0.5l-12,0.5l-6,1l-18,1.5l-34-2l-18,0l-18-2.5l-34,3l-16-1l-48-6l-6-2l-4-2.5l-4-2l-10-2l-16-1.5l-16,0.5l-2,0.5l-4,3l-2,1l-6,1.5l-6,0.5l-3.5-0.5l-1.5-1l-11-3.5l-18-2.5l-36-0.5l-24-2.5l-6-1.5l-4-1.5l-10.5-1l-5.5-3.5l-2,1l-2,3l-9,5l5.5,3l0.5,3.5l2,4l1,3.5l3.5,2l-0.5,1l-9,1.5l-6.5,4l-19.5,1.5l-18,0.5l-17.5-1l5.5-0.5l2-1.5l0-1l-1-1l-3-1.5l-4-1l-8,2.5l0,1l3,2l-1,0.5l-10,0.5l-7.5-2l-4.5-2.5l-6-1.5l-16,0l-18-1.5l-18-3l0-33.5l14-1l2-0.5l4-2.5l6-1zM324,90.5l-4,2l-6,1l-24,2.5l-2,1l2,2l8,2l3.5,1.5l1,1l-2.5,2l-6.5,2.5l-1.5,1l-2,2l-1,2.5l0.5,1l10.5,3l14,2.5l10,0l3.5,0l3-1.5l0.5-4l-1-1l0.5-1.5l1.5-2l8.5-6.5l-0.5-5.5l0-1l-1.5-1l-4.5-2.5l-6-2.5zM810,104.5l-6.5,1l-4,2.5l1.5,4l1,1.5l5.5,3l4.5,1.5l4-2.5l2.5-3.5l-1-4l-1.5-2l-3-1.5zM444.5,117.5l13.5,0.5l6,0.5l6-1l12-0.5l6,0.5l4.5,1l-1.5,1.5l-5,0.5l-8,0.5l-14-0.5l-3,1.5l-3,0.5l-12,0.5l-8-1l-6-2l3-1.5zM1107,129.5l1-0.5l4,1l7,2.5l2,3.5l-2.5,5.5l3,2l7.5,2l6,4.5l0,3.5l-0.5,1l-5.5,5l-1.5,1.5l-3.5,0.5l-34,0l-16-1l-2,0.5l-6.5,6.5l-3.5,1.5l-6,2l-10-1l-18-3l-12.5-4l-11.5-2.5l-36,6l-18-2l-16,2.5l-3-2l-4-6.5l-2.5-6.5l-1-7.5l0-1l2.5-1l8-1.5l16-7l2,0l16,5l2,0l4-0.5l2-1l1.5-1.5l2.5-0.5l24-1.5l34,8.5l16,1l2,0l6-3l10-3l12-2l6-2l10-2zM1175.5,143.5l2-0.5l0,12l-4.5-0.5l-9-5l-6-1.5l2-1z"/>
<path fill="#00f7ff" d="M256.5,81l33.5-1l24,0.5l8,1l6.5,2.5l5.5,1l3,2.5l3,0.5l2,0l2.5-1.5l5.5-1.5l10-0.5l8,0.5l18,3l5.5,2.5l0.5,2.5l2,1l16,1.5l20-1l20-3l48-1l18-1.5l18,8l16,2.5l18-3.5l16,0l12,2l8,1l16,0l18-1l8,0.5l6,1l4,2.5l50,0l14,0.5l27.5,2l12.5,2l16-2l6,0l8,1.5l2,1.5l5,6l3,2l6.5,3l5.5,1.5l4-1.5l2-1.5l4-5l2-4.5l4-2.5l18-0.5l5,2.5l9,1l4,1.5l17.5-5l16.5-2.5l3.5,0.5l3,1l6.5,4.5l4,6.5l2.5,10.5l-1.5,3l-1.5,0.5l-14.5,3l-36-1.5l-6,1.5l-12,0.5l-18-3.5l-16,6l-16,0l-2,0l-6-3l-3-3l-0.5-2l-1-1.5l-5.5-1l-12,0.5l-24,2l-34-2.5l-18,0l-18-3l-34,4l-16-1l-43-5.5l-11-3l-4-2.5l-6-2l-8-1l-16-1.5l-18,0l-4,3l-3.5,2l-10.5,1.5l-16-4.5l-18-2.5l-36-0.5l-24-2.5l-5.5-1.5l-4.5-2l-3,0l-2.5-1l-3-3.5l0.5-1l-2-1l-6,0l-2,0.5l-2,5l-1.5,1l-5.5,2l-4.5,3.5l7,3l0.5,3.5l2,4l0,1l-2.5,2.5l1,2l-1,1l-5.5,1l-1.5,1.5l-1,2l-3,1l-10.5,0.5l-6,0.5l-18,0l-6-1.5l-3.5-2.5l-5-2.5l-0.5-1l5-1.5l14-1l5-0.5l1.5-1.5l-3-5l1-1.5l2-2l4.5-2l3-2.5l2.5-1l1-1l-2.5-3l-1-5.5l-2-2l-6-2.5l-8-1.5l-2,0l-4,2.5l-4,1l-12,1.5l-14,1.5l-4,1.5l0.5,1l3.5,2l6,2l2.5,1.5l-2.5,1.5l-7,2l-1,1l-2,5.5l0.5,1l3.5,2.5l11.5,3l1.5,1l1.5,2l-1,1l-7.5,2.5l0,1l0.5,1l-0.5,0.5l-2,0.5l-4,0.5l-5.5-1.5l-3-2l-2.5-1.5l-7-1l-16-0.5l-18-1l-9-1.5l-9-1l0-33l16-0.5l2.5-2.5l3.5-1.5zM479,117.5l5,0.5l4.5,0.5l-1.5,1.5l-3,0l-12,0l-2,0l-0.5-1.5zM437.5,118.5l8.5-0.5l6,0l8,0.5l2,1.5l-2,1l-3,1l-11,1l-6-1l-6-2zM950.5,135l3.5,0.5l14,5l2,0l11.5-1.5l-1-1l-0.5-2l6-0.5l18-0.5l17.5,4l10.5,2l6,2.5l16,1l2,0l6.5-3l9.5-3l11.5-1.5l6.5-1.5l8,0.5l4,0.5l2,1.5l1,1l0.5,2.5l2.5,2.5l18,2.5l6,3.5l1.5,3.5l-6,6l-1.5,1.5l-2,0l-34,0l-16-1l-2,0.5l-4.5,4.5l-2.5,2.5l-5,2l-4,1l-10-1l-16-3l-12-3.5l-14-3l-36,6l-18-2l-16,2.5l-2-1.5l-4-6.5l-2-6.5l1.5-6.5l2.5-2l4-1.5l6-3zM1172.5,148l5-1l0,7.5l-1.5,0l-6-3.5l0.5-2z"/>
<path fill="#08fff7" d="M265.5,81l24.5-0.5l24,0.5l7,1l4.5,2l5,1l1,1.5l-2.5,1l-5,0.5l-4.5,2.5l-4,1l-13.5,2l-13.5,1.5l-4.5,2l0.5,1l3.5,2.5l7,3l-8.5,3.5l-0.5,1l-1.5,3l-1.5,2.5l0,1l5.5,4l8,2.5l4,2l-0.5,1l-6,2.5l-0.5,2l-3.5,0.5l-3-0.5l-5-3.5l-8-1.5l-34-1l-12-2l-8-1l0-32l16,0l4-3.5l4-1l10-1.5zM353,85l7,0l10,0.5l14,3l5.5,2l-1.5,2l-2,1l-11,1.5l-2.5,5.5l-2.5,1l-6,2l-5,3.5l5,1l4,2l2.5,7.5l-0.5,1l-4.5,2.5l-1.5,2l-6,2l0,3.5l-16,1l-18,0l-4.5-1l-8-4.5l1.5-1l3-0.5l21-1.5l1.5-1l0-1.5l-3-2l-2.5-3l2-2.5l7-3l13.5-1l-2.5-1.5l-1.5-2l-5.5-2l-1.5-1l-0.5-3.5l-2-7l-1-0.5l5.5-3zM507.5,90.5l8.5-0.5l12.5,5l5.5,3l16,2l18-3.5l16,0l10.5,1.5l9.5,1l16,0.5l18-1l6,0.5l7.5,1.5l4.5,3l6-1l10,0l18,0l18,0l36,3l16,2.5l8-1.5l10-1l8,1l3,1.5l3,2.5l4,6l4,2l4,1.5l8,1l6-1l3-1.5l6-8.5l3.5-2l5.5-1l12,0l10,1.5l6,2l16.5-5l17.5-3l6,1.5l6,4l4,9l2,8l-2,2l-4,1l-10,2l-36-1.5l-6,2l-10,1l-10-1.5l-8-2.5l-2,0l-4,1l-12,5l-16,1l-2-0.5l-5-2.5l-3-3l-1.5-3.5l-6.5-1l-42,1l-30-2l-16,0l-18-3.5l-34,4.5l-16-1l-37-4.5l-17-4.5l-6-2.5l-6.5-1.5l-19.5-2l-20-1l-4,3.5l-4,2l-4,1l-6,1l-16-4.5l-18-2.5l-36-0.5l-20-2l-11-2.5l-2-1l0-2l1-1.5l2-0.5l14,0l28,1l6,1l2.5-3.5l1.5-1.5l6-2l8-0.5l34-0.5zM440,118.5l6-0.5l4,0l6,0.5l3.5,1.5l-2,1l-3.5,1l-8,0.5l-6-1l-4.5-1.5zM475.5,118.5l4.5-0.5l4.5,0.5l-2,1.5l-2.5,0zM949.5,136l2.5-0.5l4,1.5l12,4.5l16,0l2-0.5l1.5-2l-4.5-3l21-0.5l16,4l12,2.5l6,2l16,1.5l2,0l8-3.5l8-2.5l18-2l2,0l6,1.5l3,1.5l4,3l3,4l18,1l4,2l2,3l-0.5,1l-5.5,5l-2,1l-34,0l-16-1l-2,0l-6,6.5l-4,2.5l-6,1.5l-10-1l-15.5-3l-10.5-3l-16-3.5l-36,6.5l-18-2.5l-16,2l-2-2l-3-5l-1.5-6.5l1.5-4l1.5-2.5l6.5-4zM1175.5,150l2-0.5l0,3.5l-4-2z"/>
<path fill="#18ffe7" d="M277.5,81l28.5,0l8,0.5l6,1l4,2l2.5,0.5l0.5,1.5l-9,3.5l-4,1.5l-28,3.5l-4,2l3.5,3.5l5.5,3l-6.5,3.5l-2.5,4l-2,2.5l0,1l2.5,3l3,2.5l8.5,2l2,1l0.5,1l-4.5,2.5l-1.5,2l-2.5-1l-4-2.5l-8-2.5l-28,0l-10-1l-11.5-1.5l-6.5-0.5l0-31.5l16,0l2-0.5l0.5-2.5l1.5-0.5l10-2zM356.5,85l5.5,0l8,1l12,2.5l5.5,2l-3.5,2l-8,1.5l-2.5,1l-3,5.5l-0.5,0l-10,3.5l-2,0l-8-2l-3.5-1.5l-3-11l2.5-2l2.5-1zM501.5,91.5l14.5-1l11,4.5l3,2l4,2l16,1.5l18-3.5l16,0l18,2l18,0.5l18-0.5l4,0l7.5,1.5l2.5,1l1.5,2l2.5,0.5l16-1l18,0.5l18-0.5l11,0.5l7,1.5l16,1l18,3l10-2l8-0.5l8,1.5l4,2.5l2.5,3l1.5,4l2,2.5l2.5,1l13.5,1.5l8-0.5l4-1.5l2-1.5l1-4.5l2.5-3.5l2.5-2l2-0.5l14-1l10,1.5l3,1l3,2l20-6.5l14-2.5l5.5,1.5l5,3.5l2,5.5l2.5,5l0.5,6.5l-5,2.5l-8.5,1.5l-18,0l-18-1l-8,2l-10,1l-12-2.5l-2.5-1l-1.5-3.5l-2,0l-5,3.5l-11,5l-6,1l-10,0.5l-2-0.5l-4.5-2l-3-3l-0.5-3.5l-4-1l-6-0.5l-36,1l-24-1.5l-10-1.5l-16-0.5l-8-1.5l-10-1l-34,4l-16-1l-35-4l-27-7.5l-26-2.5l-18-1.5l-2,1l-3.5,3l-2.5,1.5l-4,1.5l-6,1l-16-4.5l-18-2.5l-36-0.5l-20.5-2l-7.5-1.5l-3.5-1.5l0.5-1l3-1.5l12-1l26,1.5l8,1.5l2.5-0.5l2.5-3.5l3-2l6-1.5l4-0.5zM844,116.5l-6.5,1l-1,1l3.5,1.5l6,1l3-2.5l0-1l-3-1zM352,108l8-0.5l7,2.5l2,7.5l-1,1l-2,1l-8,2.5l-12-2l-8-3l-3.5-3.5l2.5-2.5l5-2zM442.5,118.5l7.5,0l7,1.5l-3,1l-8,1l-6-1l-2.5-1zM316.5,123l7.5-1l8,0.5l6,1l2,1.5l-1.5,2.5l-2.5,0.5l-12,1l-4-1l-5.5-3l-0.5-1zM948.5,137l3.5-0.5l14,5l4,0.5l16-0.5l1.5,0l2.5-2.5l0.5-2l1.5-1l12,0l16,4l10,2l8,2.5l16,2l2,0l8-4l8-2.5l18-1l4,0.5l4,1.5l4,2.5l4.5,4.5l1.5,0.5l16,1l4,1.5l2.5,2.5l-0.5,1l-4,3.5l-2,1.5l-14,0.5l-18,0l-18-1l-2,0.5l-7,6.5l-4,2.5l-5,1.5l-10-1l-14-3l-12-3.5l-16-3.5l-36,6.5l-18-2.5l-16,1.5l-4-6l-1.5-6.5l1-2l1.5-2l6-5.5z"/>
<path fill="#28ffd7" d="M257.5,82l16.5-1l34,0.5l7.5,0.5l4.5,1l4,2l0,1.5l-4,2.5l-8,2l-26,3.5l-3,0.5l-2,1l-1,1l0.5,1l7.5,5.5l-6,3.5l-2.5,4l-2.5,2.5l0.5,2l1.5,3l0,1.5l-3,0.5l-11,1.5l-9,0.5l-8.5-0.5l-17-2l-10.5-0.5l0-31l16,0l2-0.5l1.5-3l2.5-1l8-1.5zM350.5,86.5l7.5-1l8,0.5l14,3l5.5,1.5l-3.5,1.5l-6,1.5l-4,1.5l-3,5.5l-1,0.5l-8,1.5l-2,0l-6-1l-3.5-1l-3.5-11l3-2zM509,91.5l7,0l9.5,3.5l4.5,3l4,1.5l16,1.5l18-3l16-1l20,2.5l16,0.5l18-1l4,0.5l6,1l2,1l2.5,2l3.5,1l16-1.5l18,1l18-0.5l10,1l8,2l16,1l10.5,1.5l7.5,0.5l14-2.5l4,0l7.5,2l5,3l2.5,4.5l0.5,4.5l0.5,0.5l22,2.5l3.5,1l-4.5,4.5l-5,2l-6,1.5l-10,0.5l-5-3l-1.5-2l-0.5-3.5l-5-1l-44,0l-20-1.5l-12-2l-32-3l-36,3.5l-16-1l-32-3l-18-4.5l-7.5-2.5l-6.5-1l-42-3.5l-4,1.5l-3,3l-2,1l-5,2l-4,0.5l-15.5-4.5l-18.5-3l-34,0l-18-1l-8-1.5l-6-2l2-1.5l4-1l8-0.5l6,0.5l18,1l10,1.5l6-1l2.5-3.5l2-1l7.5-2l34-1zM892.5,104.5l5.5-1l2,0.5l7.5,4l0.5,1l0.5,4.5l3,6.5l-1,5l-2.5,1.5l-10,2l-18-0.5l-16-0.5l-10,2l-8,1l-8-1.5l-4.5-1.5l-0.5-1l1-1.5l1.5-1l10.5-1l3.5-1l3-4.5l-1-2l-15.5-1l-4-0.5l-0.5-0.5l-0.5-2.5l3-1.5l8-1.5l8,0.5l9,1.5l2.5,1l0.5,1l2,1.5l8-3.5zM347,109l11-1l6,1l2,1l1.5,7.5l-3.5,2l-6,1l-10-1l-8-3l-4-3l4-3zM445,118.5l3.5,0l6.5,1.5l-2.5,1l-6.5,1l-6.5-2zM285.5,123l4.5-0.5l3.5,1.5l-3.5,2.5l-4.5-2.5zM320,123l4-0.5l6,0.5l4,0.5l4,1.5l-1,1.5l-3,1l-10,1l-8-3.5l0-1zM998,137l6,0l14.5,3.5l9.5,1.5l10,3l16,2.5l2,0l8-4l8-2.5l18-1l4,1l4,1.5l7,5.5l3,1l16,1.5l2,0.5l3,2.5l-0.5,1l-2.5,2.5l-2,1l-6,1l-26,0.5l-18-1l-2,0.5l-1.5,0.5l-6,6.5l-8.5,3.5l-14-2l-12-2.5l-10-3l-16-3.5l-6,0.5l-30,6l-18-3l-16,1l-3-4.5l-1-5l0.5-2.5l5.5-6.5l2-1.5l10-5l4-0.5l11.5,4l4.5,1l2,0l16-0.5l3.5-0.5l4.5-3.5z"/>
<path fill="#38ffc7" d="M263,82l25-0.5l20,0l10,1.5l5,2l0,1.5l-3.5,2l-9.5,2.5l-24.5,3l-5,1l-2.5,2l2,2.5l5,4l-5.5,3.5l-2.5,4l-3,2.5l0.5,5l-1.5,1.5l-6.5,1l-13,1l-19.5-2.5l-14-0.5l0-30.5l18,0l2-3.5l2-0.5l12-2zM353,86.5l7-1l6,0.5l17.5,4.5l-13,4.5l-3,5.5l-7.5,1.5l-4,0l-6-1.5l-4-10l0.5-1l1.5-1zM504.5,93l11.5-1l8.5,3l3.5,3l4,2l18,2l18-3.5l16-1l20,2.5l16,0l20-0.5l8,1.5l3.5,2.5l4.5,1.5l16-1.5l18,1l18-0.5l10,1l8,3l16,0.5l16,1.5l20-2.5l6,2l6,3.5l2.5,3.5l-0.5,4.5l0.5,1l13.5,1.5l7,1.5l-1,4.5l-2.5,1l-5.5,1.5l-10,1l-4-2.5l-2-2l0-3.5l-1.5-1l-2.5-0.5l-42,0l-16-1l-12-1l-8-2.5l-16-1.5l-16-0.5l-36,2.5l-12-0.5l-24-1.5l-8-1l-18-4l-8-2.5l-4.5-1l-13.5-1.5l-34-2.5l-5.5,2l-3.5,3l-2,1l-7,2l-14-4l-20-3.5l-34,0l-18-1l-8-1.5l-4-1.5l2-1.5l4-0.5l6-0.5l20,1l8,1l6,1.5l9-2l3-3.5l6-2l34-1.5zM896,104.5l4,0l6,3.5l0.5,1l0,5.5l3,5.5l-1,4l-1,1l-1.5,1l-8,1.5l-16,0.5l-18-1l-12,2.5l-6,0.5l-11-2.5l0.5-1l2.5-1.5l13.5-2l1.5-1l1-2l3-3.5l3-1.5l4-0.5l11.5-4.5l12.5-3.5zM351,109l9-0.5l5,1.5l1,3.5l0.5,4l-4.5,2l-6,0l-8-1l-8-3l-3-2l1.5-1.5l3.5-1.5zM839.5,109l6.5-0.5l6,0.5l8,2l0,1l-0.5,1.5l-1.5,0.5l-12,0.5l-8-0.5l-2.5-0.5l-2.5-2.5l3-1.5zM441,120l5-1l6.5,1l-2.5,1l-4,0.5zM323.5,123l6.5,0.5l5.5,1.5l-1,1.5l-2.5,0.5l-8,1l-6.5-3l1-1zM950,138l2,0l16,5l18-0.5l5-1l6.5-3.5l6.5-0.5l12,3l12,2l10,3l16,2.5l2,0l6-3l10-3.5l18-0.5l6,2l7.5,5l4.5,2l16,1.5l3.5,2l-0.5,1l-3,2l-11.5,2l-22.5,1l-18-1l-2,1l-6,6.5l-8,3.5l-12-2l-24-6l-16-3.5l-8,1l-28,5.5l-18-3l-16,0l-1.5-2l-0.5-1l-0.5-6.5l4.5-6l4.5-3.5z"/>
<path fill="#48ffb7" d="M269,82l39,0l10,1.5l3.5,1.5l0.5,1.5l-4,2l-10,2.5l-26,3l-4.5,1l-1,1l-0.5,1l6,6.5l-4.5,3.5l-3,4l-4,2.5l-0.5,4l-0.5,1l-1.5,1l-8,1.5l-6,0.5l-14-1.5l-20-1l0-30l18,0l1-0.5l1.5-3.5l1.5-0.5l12-1.5zM355,86.5l5-0.5l4,0.5l17.5,4l-7.5,2.5l-5,2l-3,5.5l-6,1.5l-2-0.5l-6-1l-4.5-10l0.5-1l3-2zM510,93l6-0.5l7,2.5l3,3.5l4,2l4,0.5l10,1l8,0l16-3l18-0.5l18,1.5l16,0.5l18-1l8,1.5l7,3.5l3,0.5l16-1l18,1l18-0.5l10,1.5l8,3.5l16,0l18,1l18-2l8,2.5l4,3l1.5,2.5l-1.5,5.5l2,0.5l10,1l7,1.5l1,3.5l-1,1l-5,2l-10,1l-3-2l-2-2l-0.5-1l1-2.5l-0.5-1l-3-0.5l-44,0l-18-1.5l-9.5-1l-6.5-2.5l-18-2l-18-0.5l-34,3l-30-2l-10-1l-18-3.5l-8-2l-4-1.5l-20-2.5l-32-2.5l-7.5,3l-3,3l-2,1l-5.5,1.5l-12-4l-22-4l-18,0l-16,0.5l-18-1l-8-1.5l-2.5-1l6.5-2l4,0l20,1l6.5,1l7.5,2l2-0.5l8-1.5l2.5-1l3-3.5l2.5-0.5l34-2zM894,105.5l4-0.5l2,0.5l5,2.5l0.5,1l-1,5.5l2.5,3l1,2.5l-1.5,3l-1.5,2l-7,2l-11.5,0.5l-22.5-1l-18,3l-9-2l1-1.5l4-1.5l14.5-1.5l0.5-1l0-2l5-3.5l6.5-2l7-3.5zM355.5,109l4.5,0l3.5,1l1.5,3.5l0,4l-3,1.5l-4,0.5l-8-1.5l-8-2.5l-3.5-2l3.5-2l5-1.5zM843,109l6.5,0l9,2l-2.5,2l-2,0.5l-8,0.5l-6-0.5l-4-1.5l-1.5-1l3.5-1zM443,120l3-1l4.5,1l-4.5,1zM320.5,124l5.5-0.5l7.5,1.5l-3.5,1.5l-6,1l-5.5-2.5zM1001.5,138l2.5,0l9.5,2.5l10.5,1.5l14,4l16,3l2,0l6-3l10-3.5l18-0.5l4.5,1.5l13.5,7.5l13,1l4.5,1.5l-0.5,1l-1,0.5l-10.5,2.5l-5.5,1l-18,0.5l-18-1l-3,1.5l-5,6l-3.5,2l-4.5,1.5l-12-2l-24-6l-16-3.5l-10,1l-16,4l-10,1.5l-10-1.5l-8-2l-16-0.5l-1-1.5l-0.5-5l0.5-1.5l3.5-5l2-2.5l3.5-2l8-3.5l2,0l7,2.5l9,2l20-1l4.5-1l5.5-2.5z"/>
<path fill="#58ffa7" d="M282,82l28,0.5l6,1l4.5,1.5l1,1.5l-1.5,0.5l-4,1.5l-10,2.5l-28,3l-3,1l-1,1l0.5,1l1.5,3l2.5,2.5l0,1l-3.5,3.5l-3,4l-4.5,2.5l-1,3l-0.5,1l-2,1l-10,2l-10-1l-24-0.5l0-29.5l18,0l2-1l0-2l1-1.5l9-1.5zM357,86.5l5,0l17.5,4l-7.5,2.5l-4.5,2l-3.5,5.5l-4,1l-2,0l-4-1l-5-10l0.5-1l3.5-2zM506,94l10-1l5.5,2l2.5,3.5l4,2.5l6,1.5l13.5,1l0.5,1l-14,0.5l-18-1.5l-7,2l-2,1.5l-3,3l-2.5,1l-3.5,1l-10-3.5l-16-2.5l-8-2l-6-0.5l-1-1l4.5-2l2.5-2.5l4-1l30-2zM575.5,99.5l10.5-0.5l16,1.5l18,0l18-0.5l6,1l8,3.5l4,0.5l18-0.5l16,1l18-0.5l10,2l8,3.5l34,1l16-2.5l2,0l8.5,3l3,2.5l1.5,2l-1.5,3.5l-2,2l-1.5,0.5l-28,0.5l-16,0l-18-1l-8-1.5l-10-3l-16-2l-18,0l-34,2.5l-34-2l-28-5l-8-3l-16.5-2.5l-0.5-2l3-1l14-2.5zM406.5,100.5l5.5-1l18,1.5l10,1.5l2,1l-12,1l-18-0.5l-7-1.5l-2-1zM897,105.5l3,0.5l3.5,2l0.5,1l-1.5,5.5l2.5,3l1.5,2.5l-2.5,3.5l-2,1.5l-4,1l-16,0.5l-18-1.5l-7.5,2.5l-10.5,1.5l-7-1.5l1-1.5l6-1.5l14.5-0.5l1-1l-1.5-3l2-1.5l8-3l8.5-4.5l9.5-3zM350,110l8-1l4.5,1l1.5,3.5l-0.5,4l-3.5,1.5l-4-0.5l-5-1l-9.5-3l-1.5-1l2-1.5zM839.5,110l6.5-1l6,1l4.5,1l-1.5,1l-3,1l-6,0.5l-6-1l-4-1.5zM445,120l3,0l-2,0.5zM323,124l3,0l5.5,1l-2.5,1.5l-5,0.5l-4-2zM791,124l3-0.5l2,0l9.5,1.5l2,2.5l0,1l-1,1l-2.5,1l-4.5,1l-5.5,0.5l-2.5-1.5l-1.5-2l-0.5-1zM1000,139l4-0.5l22,4.5l12,3.5l18,3.5l5.5-3l10.5-4l18,0l18,8.5l11.5,2l-2,1l-5.5,1l-4.5,2l-3.5,0.5l-14,0.5l-18-0.5l-2.5,0.5l-1,1l-1.5,2.5l-3,3l-4,2.5l-4,1l-12-1.5l-18-4.5l-6-2l-16-3.5l-12.5,1.5l-13.5,3.5l-10,1.5l-10-1.5l-8-2l-14.5-1.5l-1.5-1.5l0-5l3.5-5l2.5-2.5l10-5l2,0l16,4.5l20.5-1.5l6-1z"/>
<path fill="#68ff97" d="M258,83l16-0.5l32-0.5l8,1.5l5.5,1.5l1,1.5l-4.5,1.5l-12,3l-30,3l-1.5,1l-0.5,1l3.5,6.5l0,1l-6,6.5l-5.5,3.5l-1,3l-3,2l-6,1l-34-1l0-28.5l18,0l2-0.5l0.5-1l0-2l1.5-1.5l8-1.5zM354.5,87.5l5.5-1l17.5,4l-7.5,2.5l-4,2l-3.5,5.5l-4.5,0.5l-2.5-0.5l-5.5-10l1-1zM510.5,94l5.5-0.5l4,1.5l2.5,4.5l3,2l-0.5,1l-9,0.5l-6,1.5l-5,2.5l-3,3l-2.5,1l-2,0l-9.5-3l-16-2.5l-10-3l6-3l6-1.5l24-2zM583.5,99.5l20.5,1l16,0.5l18-0.5l6,1l7,3l5,1l16-0.5l18,1l18-0.5l10,2l3,1.5l3,2l2,0.5l32,0.5l18-2.5l2,0l8,3l2.5,2l1.5,2l-2,3.5l-2,1.5l-2,1l-6,0l-18,0l-18,0l-18-1l-8-1.5l-8-3l-18-2l-18,0l-34,2.5l-32-2.5l-30-4.5l-8-3l-11.5-2l-1-1l0-1l2.5-1l10-2zM408.5,100.5l3.5-0.5l16,1l9.5,1.5l-2,1l-5.5,0.5l-18-0.5l-5.5-1l-2-1zM895,107l3-1l2,0.5l2.5,1.5l0.5,1l-2.5,4.5l-0.5,1l4,4l0.5,1.5l-2.5,3l-2,1.5l-2,1l-16,0.5l-8-1l-6-1.5l-4-2.5l-1-1l1.5-1.5l9.5-3l6-3.5l6-1.5l5-2.5zM353,110l5-0.5l3.5,0.5l1.5,3.5l-0.5,2l-0.5,2l-2,1l-6.5-1l-4.5-2l-7.5-2zM842,110l6-0.5l7,1.5l-3,1.5l-6,0.5l-5.5-1l-2.5-1zM793.5,124l8.5,1l3.5,2.5l-0.5,1l-4,2l-7,1l-1.5-1l-2-3l1-2.5zM321.5,125l2.5-0.5l5,0.5l-2.5,1.5l-2.5,0zM842,126.5l6-1.5l8,1.5l-2,1l-8,1l-5.5-1zM999,140.5l5-1l18,3l16,5l8,1l10,2.5l6-4l10-3.5l18,0.5l19.5,9.5l-1.5,0.5l-2.5,2.5l-4,1l-11.5,1l-18.5-1l-3.5,2l-1.5,2.5l-3.5,3l-7,3.5l-10-1.5l-8-2.5l-12-2.5l-6-2l-16-3.5l-15.5,2l-10.5,3l-10,2l-10-2l-8-2.5l-10-0.5l-4-1.5l-1-0.5l0-4.5l3.5-5l2.5-2.5l9-4l2,0l16,4l22.5-2z"/>
<path fill="#78ff87" d="M262,83l22-0.5l22,0l8,1.5l4.5,1l1,1.5l-5.5,2l-12,2.5l-12,1l-14,1l-5,1l-1.5,2l3.5,6.5l-0.5,1l-5.5,5.5l-6,4.5l-2,3l-1.5,1l-3.5,1l-34-0.5l0-28l18,0.5l3-1l0-3l1-1.5l10-1.5zM356,87.5l4-0.5l15,3.5l-5,1.5l-4,2l-1.5,1l-3.5,5.5l-3,0l-2-2.5l-4.5-7.5l1-1zM516,94l3,1l2,6.5l-9,1.5l-4,1.5l-4.5,2.5l-3,3l-2.5,0.5l-6.5-2.5l-19.5-3.5l-5-2l5-2l8-2l20-2zM412,100.5l17,1l6,1l-7,1l-16-0.5l-3.5-0.5l-2.5-1zM577,100.5l9-1l16,1.5l18,0l18-0.5l6,1.5l6,2.5l4,1l18,0l18,1l18-0.5l10,2l6,4.5l2,0.5l32-0.5l18-2.5l2,0.5l8,3l3.5,3l-2.5,3.5l-3,1.5l-8,1l-32-0.5l-20-1l-8-1.5l-8-3l-18-2.5l-18,0.5l-34,2.5l-4-0.5l-28-2l-14-2l-15-2.5l-9-3l-6.5-1.5l-2-1l0-1l2.5-1l6-1zM893.5,108l4.5-1l3,1l0.5,1l-1.5,2.5l-2,1.5l-6-0.5l-1.5-0.5l0-1l1.5-2zM356,110l4,0l1,1l1,2.5l-1.5,4l-0.5,0.5l-3.5-0.5l-4.5-2.5l-7-1.5l7-1.5zM844,110l4,0l5.5,1l-3.5,1.5l-4,0.5l-6.5-2zM881,114.5l1-1l16,1.5l2.5,1.5l2,2l0.5,1.5l-3,3l-2,1l-16,1l-6-1l-5-2l-3-2l9-3.5zM323,125l1,0l3,0l-3,1zM793,125l1-0.5l4.5,0.5l4.5,2.5l0,1l-4.5,2l-4.5,0.5l-2.5-2.5l-0.5-1zM844.5,126.5l1.5-0.5l4,0l1.5,0.5l0,1l-5.5,0.5l-3.5-0.5zM1001,140.5l3-0.5l18,3l10,2.5l6,2.5l10,1.5l8,2.5l6-4l10-3.5l18,0.5l12.5,5l4,2l0,1.5l-2.5,2l-6,2l-8,0.5l-16-1l-3.5,0.5l-2.5,1l-2,3.5l-3.5,3l-6.5,3l-10-1.5l-8-2.5l-11-2l-7-2.5l-16-3.5l-18,2.5l-6,2.5l-8,1.5l-6,0l-8-1l-7.5-3l-8.5-0.5l-5.5-1.5l-0.5-4.5l3.5-5l3-2.5l7.5-3l2-0.5l16,4.5l24.5-3z"/>
<path fill="#87ff78" d="M266.5,83l23.5-0.5l16,0l8,1.5l3,1l1.5,1.5l-4.5,1.5l-13.5,2.5l-10.5,1.5l-18,1l-3,1l-1.5,2l2.5,6.5l-0.5,1l-4.5,4.5l-7,5l-3,3.5l-1,0.5l-9,0.5l-25,0.5l0-27.5l18,0.5l4.5-1.5l-1-3l1-1.5l1.5,0l10-1.5zM358,87.5l3,0l11,3l-4,1.5l-3.5,2l-1.5,1l-3,4.5l-2-0.5l-5-8.5l1-1zM511,95l5-0.5l1.5,0.5l0.5,1l-0.5,2l-1,3.5l-8.5,1.5l-5,2.5l-5,4.5l-2-1.5l-4-1.5l-18-2.5l-1.5-1l-0.5-1l8-2.5l26-3.5zM583.5,100.5l36.5,1l18-0.5l6,1.5l5.5,2l4.5,1l18,0.5l18,1l18-1l10,3l5,4.5l3,0.5l16,0l16.5-0.5l17.5-3l2,0.5l6,2l4.5,3.5l-2.5,3.5l-4,1.5l-4,0.5l-10,0l-24-0.5l-20-1l-8-2l-6-2.5l-20-2.5l-52,3l-22-2l-37-4.5l-15-5l-1-1.5l3.5-1zM408,101.5l4-1l20,2l-4,0.5l-16,0l-2-0.5zM896.5,108l1.5-0.5l2,0.5l0.5,1l-2.5,2l-3-2zM357.5,111l0.5,0l2,0.5l1,2l-1,2.5l-1.5,0.5l-8-3zM841,111l5-1l6,1l-6,1.5zM879.5,117.5l2.5-0.5l16-0.5l2,1.5l1,2l-3,2l-16,1.5l-3-0.5l-5-2l0-1zM793,126.5l1-1.5l2,0.5l4.5,2l0,1l-4.5,2l-2,0l-1.5-2l-0.5-1zM844.5,127.5l1.5-1l2,0l1.5,1l-3.5,0zM999.5,141.5l4.5-1l18,3l9,2l7,2.5l10,2l8,2.5l6-4l10-3.5l18,1l11,4l4,2l0,1.5l-3,2l-8,2l-4,0l-16-0.5l-4,0.5l-3,1l-2,3.5l-3,3l-6,3l-10-2l-7-2l-11-2l-8-3l-16-3.5l-18,3l-8,2.5l-10,1.5l-10-1.5l-6-2.5l-14-2l-1-4.5l3-4l2-2.5l8-3.5l2,0l16,4l24-3z"/>
<path fill="#97ff68" d="M271,83l19-0.5l16,0.5l8,1.5l3.5,2l-5.5,1.5l-14,2.5l-29,2.5l-2.5,1l-1.5,2l2,6.5l-1,1l-4.5,4.5l-9,6.5l-7.5,2l-25,1l0-27l20,0.5l4-1.5l-2-2l0-1l2-1.5l10-1.5zM357.5,88.5l2.5-0.5l9.5,2.5l-5.5,2.5l-2.5,2l-1.5,2.5l-2-0.5l-3.5-6.5zM515.5,95l0.5,0l0.5,1l-0.5,1.5l-1.5-0.5l-1-1zM491,100.5l9-1l5.5,1l2,1l-9.5,6.5l-6-1.5l-15.5-2l-1-1l2.5-1.5l4-1zM409.5,101.5l2.5-0.5l6.5,0.5l1.5,1l9,0l-17,0zM579,101.5l7-0.5l16,0.5l18,0.5l18-1l10.5,3.5l5.5,1l36,2l18-1l8.5,2.5l1.5,1l2,3.5l2,1l20,0l16-0.5l18-3l4,1l3.5,1.5l4.5,3l-3,3.5l-5,1.5l-4,0.5l-8,0l-44-2l-9-2.5l-0.5-2l-12.5-1l-12-1.5l-52,2.5l-22-1.5l-35-4l-11-4.5l-2.5-1l-0.5-1zM843,111l3-0.5l4,0.5l-4,1zM356,113.5l2-1l1.5,1l-1.5,0.5zM890,118.5l8,0l1,1.5l-1,0.5l-16,1l-2.5-0.5l0-1l2.5-1zM794,126.5l2,0l2.5,1l-0.5,1l-2,1l-2,0l-1-2zM1001.5,141.5l2.5-0.5l18,2.5l8,2.5l8,2.5l10,2l8,3l2.5-1.5l2-2l3.5-2l6-2l4-0.5l16,1l12,4.5l2,1l0,1.5l-4,2l-8,1.5l-18-0.5l-6,1l-2,1l-1.5,3.5l-3.5,3l-5,2.5l-8.5-1.5l-7-2l-11-2l-9-3.5l-16.5-3l-8,1.5l-10,1l-9.5,3l-8.5,1.5l-8.5-1.5l-7.5-2.5l-13-2l-1-3l0-1.5l4-5l2-1.5l6-3l2,0l16,3.5l26-3z"/>
<path fill="#a7ff58" d="M278.5,83l27.5,0l6,1.5l5,2l-7,2l-14,2l-6,1l-18,0l-5.5,1.5l-2,1l-1.5,2l0.5,6.5l-0.5,1l-5,4.5l-8.5,5.5l-5.5,1.5l-6,1l-18,1l0-26l20,0.5l4.5-1l1-1l-3-2l-0.5-1l2-1.5l12-1.5zM356.5,89.5l3.5-1l6.5,2l-4,2.5l-2.5,2.5l-2-1l-2-3l-0.5-1zM411.5,101.5l1.5,0zM585.5,101.5l16.5,1l18,0l18-1l9.5,3l8.5,1.5l34,2l18-1l7,2l1.5,1l1,2l-0.5,1.5l-1,0.5l-8,0.5l-18-2l-52,2.5l-22-1.5l-33-3.5l-11-4.5l-1.5-1l0.5-1zM484.5,102.5l13.5-1l2,0.5l1.5,1.5l-3.5,3l-4-1l-15-1l0-1l1-0.5zM844.5,111l4,0l-2.5,0.5zM771,112l7-0.5l6,2.5l3,2.5l-3,3l-6,2l-20,0l-32-1.5l-9-2.5l1-1l4-1l20-0.5l16-1zM794,127.5l2,0l-1,1l-1,0zM998.5,142.5l5.5-1l18,2.5l16,5l8,1.5l7,3l3,0.5l2-0.5l3.5-3.5l2.5-1.5l6-2l4-0.5l16,1l10.5,4l2,1l0,1.5l-4.5,2l-6,1l-18,0l-6,0.5l-3,1.5l-1,3.5l-3.5,3l-4.5,2l-6-0.5l-8-2.5l-11.5-2l-8.5-3.5l-18-3.5l-3.5,0.5l-6.5,1.5l-8,1l-10,2.5l-8,1.5l-8-1.5l-8-2.5l-11.5-1.5l-1.5-3l0-1.5l3-4l2.5-2.5l5.5-2.5l2,0l16,3.5z"/>
<path fill="#b7ff48" d="M288,83l18,0.5l6,1l4,2l-6,1.5l-16,2.5l-24,1l-6,1l-2,1.5l-1.5,2l0,6.5l-0.5,0.5l-4,4l-5,3l-6.5,3.5l-4.5,1l-20,2l0-25.5l18,1l4-0.5l5-1l0-1l-3-1.5l-1-0.5l-0.5-1l1.5-1.5l2,0l14-1.5zM358.5,89.5l1.5,0l4,1l-4,3l-2-1l-1-2zM581.5,102.5l4.5-0.5l16,1l18,0l18-1l8.5,2.5l9.5,2l34,2l18-1l5.5,1.5l1.5,1l0,2l-1,1.5l-6,0.5l-18-2l-36,2l-16,0l-18-0.5l-34.5-3.5l-11-4.5l-1-1l1.5-1zM773.5,112l2.5,0l4,0.5l3.5,2l3,2l-2.5,2.5l-6,2l-18,0l-34-1.5l-7-2l2-1l3-0.5l34-1.5zM1000.5,142.5l3.5-0.5l18,2.5l16,5l8,1.5l5.5,2.5l4.5,0.5l4-0.5l2.5-3.5l2.5-1l5.5-2l3.5-1l16,1.5l10,4l1.5,0.5l-0.5,1.5l-5,2l-6,1l-16-0.5l-6,0.5l-2,0.5l-2,1.5l-0.5,3.5l-3.5,3l-4,2l-5.5-1l-8.5-2l-10-2l-10-3.5l-13.5-3l-4.5-0.5l-18.5,2.5l-9.5,3l-8,1l-8-1.5l-8-2.5l-10.5-1l-1.5-3l0-1.5l3-4l3-2.5l4-2l2,0l16,3.5z"/>
<path fill="#c7ff38" d="M253,84l19-0.5l28,0l8,0.5l7,2.5l-9,2l-16,2.5l-26,1l-4.5,2l-2,3l0,5.5l-4.5,4.5l-3.5,2l-7,3l-4.5,1.5l-18,2.5l0-25l10,0.5l8,1l8-1l3-1l-0.5-1l-4.5-1.5l-1-1.5l3-1.5zM358.5,90.5l1.5-0.5l1,0.5l-1,1zM630.5,102.5l7.5-0.5l7.5,2.5l10.5,2.5l34,1.5l18-0.5l4,1l1,1l0,2l-2,1.5l-3,0l-18-2l-36,2l-32,0l-32.5-3.5l-3.5-0.5l-9-4l-1-1l4-1l6-1l18,1l16,0zM769.5,113.5l6.5-1l2,0l4.5,2l3,2l-3.5,3l-6,1.5l-50-2l-5-1.5l5-1l32-1.5zM1003.5,142.5l18.5,2.5l16,5l18,4.5l6-1l2-3.5l6-2.5l4-1l16,1.5l10,4l0,1.5l-2.5,1l-7.5,1.5l-18,0l-6,0.5l-2.5,2l-0.5,3.5l-3.5,3l-3.5,1.5l-4-0.5l-10-2.5l-8.5-1.5l-11.5-4l-11.5-2.5l-6.5-0.5l-19.5,2.5l-10.5,3l-6,1l-6-1l-9-3l-10-1l-2-3l0-1.5l3-4l3-2.5l3-1l2-0.5l16,3.5z"/>
<path fill="#d7ff28" d="M254.5,84l17.5-0.5l26,0l9,0.5l7,2.5l-10,2l-14,2l-22,0.5l-7.5,0.5l-3,2.5l-2,3l-1,5.5l-3,3l-3.5,2.5l-10,4.5l-8,1.5l-10,1l0-24l10,0.5l8,1.5l10-1l3.5-1.5l-1.5-1l-6-2l-0.5-1l2.5-1.5zM637.5,102.5l7,2l11.5,2.5l34,2l18-0.5l2.5,0.5l1,1l-0.5,2l-3,1l-18-1.5l-36,1.5l-34,0l-6.5-1l-19-2l-8.5-1.5l-6.5-3l-0.5-1l7-1l18,0.5l16,0zM772,113.5l6-0.5l4,1.5l3,2l-3,2.5l-6,1.5l-45.5-2l-8-1l3.5-0.5l34-2zM999.5,143.5l4.5-0.5l18,2l14,4.5l10,2.5l4,2l6,1l6-1l2-0.5l1-3.5l7-3l2,0l16,1.5l9,3.5l-1,1.5l-8,2l-20,0l-6,0.5l-1.5,2.5l0,2.5l0,1l-4,3l-2.5,1.5l-2.5-0.5l-9.5-2.5l-9.5-1.5l-8-3.5l-4.5-1l-9.5-2l-8.5-1l-21,3l-15,3.5l-14-3.5l-9.5-1l-2.5-3l0-1.5l3.5-4l2.5-2l2-1l2-0.5l16,3z"/>
<path fill="#e7ff18" d="M256,84l16-0.5l24,0l10,0.5l7,2.5l-9,2l-14,2l-32,0.5l-1.5,0.5l-2.5,3.5l-1.5,7.5l-5.5,4.5l-11,4.5l-7.5,2l-8.5,1l0-23l12,0.5l6,1.5l12-0.5l2-0.5l1.5-1l0.5-1l-2.5-1l-5.5-1.5l-1.5-0.5l-0.5-1l2-1.5zM626.5,103.5l11.5-0.5l13,4l5,0.5l34,2l16-1l3,0.5l1,1l-1.5,2l-0.5,0.5l-18-1.5l-34,1l-36,0.5l-21-2.5l-13-2.5l-4-2l0-1l4-0.5l18,0.5zM774.5,113.5l3.5,0l6,3l-2.5,2l-5.5,2l-18-0.5l-32.5-2.5l34.5-2zM1002,143.5l20,2l12,4l10.5,2.5l5.5,2.5l10,1.5l1,0.5l1,4.5l-0.5,1l-3.5,3l-2,1l-2,0l-10-2.5l-8-1.5l-12-4.5l-16-3l-6,0l-6,0.5l-5,1.5l-9,1l-14,3.5l-13-3.5l-9.5-1l-2.5-3l0-1.5l4.5-5l2.5-1.5l2-0.5l16,3zM1071.5,148l2.5-0.5l16,1.5l7.5,3l-0.5,1.5l-1,0l-6,2l-24-0.5l-1.5-0.5l1.5-1l-0.5-2.5l0.5-1z"/>
<path fill="#f7ff08" d="M258,84l14-0.5l22,0l12,1l6.5,2l-9.5,2l-13,1.5l-34,0.5l-10-2.5l-1-0.5l-0.5-1l1.5-1.5l2,0zM220,91.5l10,0.5l8,2l10,0.5l2.5,1.5l0.5,1l0.5,3.5l-1,2l-1.5,1l-9.5,5.5l-11.5,3l-8,1.5zM631,103.5l7-0.5l9.5,2.5l2.5,1.5l8,1.5l24,1l24-0.5l2.5,1l-0.5,0.5l-2,0.5l-22-0.5l-28,1l-18,0l-18,0.5l-16-2l-18-4l-1-0.5l0-1l19,0.5l16-0.5zM770,114.5l6-1l2,0l5.5,3l-3.5,2.5l-4,1l-20-0.5l-20-2l24-1.5zM998,144.5l6-0.5l18,2l14,4.5l7,1.5l5.5,2.5l10.5,2l1,1l1.5,3.5l-0.5,1l-3.5,3l-1.5,1l-2-0.5l-10-2.5l-7-1l-7.5-3.5l-5.5-1.5l-14-2.5l-6-0.5l-8,1l-6.5,1.5l-8.5,1l-13,3l-12-3l-9-1l-3-3l0-1.5l3.5-4l2.5-2l2,0l8,1.5l8,1zM1069.5,149l4.5-1l16,1.5l6.5,2.5l-0.5,1.5l-6,1.5l-20-0.5l-2,0l-1.5-3.5l0.5-1z"/>
<path fill="#fff700" d="M260,84l34-0.5l10,1l7.5,2l-9.5,2l-12,1.5l-30,0l-10-1l-4-1.5l-1-1l3-1.5zM220,91.5l10,1l8,1.5l8,1.5l3,1.5l1,3.5l-2,2l-10,5.5l-18,4.5zM635.5,103.5l2.5,0l8,2l2,1.5l7.5,2l0,1l-1.5,0.5l-16,0l-18,1l-12-1.5l-13.5-3l3.5-1l22-1zM772.5,114.5l3.5-0.5l2,0l4.5,2.5l-3,2l-3.5,1l-20-0.5l-11-1.5l15-1zM1001.5,144.5l2.5,0l16,1.5l4,1l10,3.5l7.5,1.5l6.5,3l10,2l2,2l1,2l-0.5,1l-3.5,3l-3,0.5l-8.5-2.5l-7.5-1l-12-5l-10-2l-12-1l-12,1.5l-4,1l-8,1l-12,3l-10.5-3l-9-1l-3.5-3l0-1.5l5-5.5l2,0l7.5,1.5l8.5,0.5zM1071,149l3-0.5l16,1.5l5,2l-0.5,1.5l-4.5,1l-18.5,0l-3.5-3.5l0.5-1z"/>
<path fill="#ffe700" d="M262,84l32,0l10,0.5l6.5,2l-10,2l-10.5,1l-26,0.5l-12-1l-6-1.5l-0.5-1l2-1.5l2.5,0zM220,91.5l12,1.5l6,1.5l6,1l3,1.5l1.5,3.5l-2.5,2l-8,4l-18,5zM627.5,104.5l10.5-0.5l6.5,1.5l0.5,1.5l2,1l0,1l-5,0.5l-22,1.5l-10-1.5l-10-2.5l20-1.5zM775,114.5l3,0l4,2l-3.5,2l-2.5,0.5l-16-0.5l-9.5-1l9.5-0.5zM996.5,145.5l7.5-0.5l18,1.5l12,4.5l5.5,1l6.5,3l10,2l2.5,1.5l1.5,2.5l0,1l-4,3l-2,0l-7-2l-9-1.5l-6-3l-6-2l-10-1.5l-12-1.5l-12,1.5l-5.5,1.5l-8,1l-10.5,2.5l-9.5-2.5l-9-1l-3.5-3l0-1.5l4-4.5l2-0.5l6,1l10,1zM1072.5,149l17.5,1.5l4,1.5l-1,1.5l-3,0.5l-16,0l-2.5-0.5l-2.5-2.5l0.5-1z"/>
<path fill="#ffd700" d="M264,84l28,0l10,0.5l7.5,2l-9.5,2l-10,1l-18,0.5l-16-0.5l-8-1.5l-1.5-0.5l-0.5-1l2-1.5l2,0zM220,93l0-1l2,0l8,0.5l4,1l4,2l7.5,1.5l1.5,3.5l-3,2l-7,3l-17,4.5zM631,104.5l7-0.5l5.5,1.5l0,2.5l-3.5,1l-10,1l-10,0.5l-4-0.5l-5.5-1l-2.5-1l-0.5-1l12.5-1zM770.5,115.5l5.5-1l2,0.5l3,1.5l-3,2l-2,0.5l-20-1.5zM1000.5,145.5l3.5,0l18,1.5l11,4l5,1l7.5,3.5l10.5,2l3,2l0.5,1.5l0,1l-3.5,2.5l-2,0l-5.5-1.5l-10.5-2l-4-2.5l-8-2.5l-22-2.5l-12,1l-7,2l-7.5,1l-9.5,2.5l-8.5-2.5l-8.5-1l-4-3l0-1.5l3-3.5l2-0.5l6,1l10,0.5zM1070.5,150l3.5-0.5l16,1.5l2.5,1l-1,1.5l-1.5,0l-16-0.5l-2.5-1l-1-1z"/>
<path fill="#ffc700" d="M266,84l26,0l10,0.5l6.5,2l-8.5,1.5l-10,1.5l-18,0.5l-16-1l-9-1.5l-0.5-1l1.5-1l6-1zM220,93l0-1l4,0l10,2l4,2l5.5,1l1.5,3.5l-3,2l-4,1.5l-18,4.5zM635,104.5l3,0l4,1l-0.5,1.5l-2,1l-7,1l-12.5,1l-6.5-1l-2-1l2.5-1zM773,115.5l3-0.5l2.5,0.5l2,1l-2.5,1.5l-2,0.5l-14.5-1zM996.5,147l7.5-1l16,1l12,4.5l6,1.5l6,2.5l12,2.5l3,3l0,1l-3,2l-2,0l-14-3l-12-5.5l-24-2.5l-14,1.5l-6,2l-16,3l-7.5-2l-8-1l-4.5-3l0-1.5l2-2l2-1l16,0.5l18-2zM1071.5,150l5.5,0l5,1.5l8,0l1.5,0.5l-1.5,1.5l-16-1.5l-2.5-1z"/>
<path fill="#ffb700" d="M268,84l24,0l10,1l5.5,1.5l-7.5,1.5l-10,1l-18,0.5l-16-0.5l-8.5-1.5l-1-1l2.5-1.5zM220,93l0-1l4,0.5l9,1.5l5,2.5l3.5,0.5l2,3.5l-1.5,1l-4,1.5l-18,4.5zM630,105.5l8-0.5l2.5,0.5l-2.5,2l-11,1.5l-7,0.5l-3.5-0.5l-1.5-1l12.5-1zM775,115.5l3,0l1.5,1l-1.5,1l-2,0.5l-7.5-0.5l0-1zM1003,147l18.5,1l6,2l4.5,2.5l6,1l3,2l5,1.5l10,1.5l2.5,2.5l-0.5,1l-2,1.5l-2,0l-7.5-1.5l-3.5-1l-2-1.5l-3-0.5l-5-2.5l-1-1l-2-1l-26-2l-14,2l-7.5,2l-14.5,2.5l-6-1.5l-8-1l-4.5-3l-0.5-1.5l3-2l18,0l16-2z"/>
<path fill="#ffa700" d="M270,84l24,0.5l8,0.5l5,1.5l-7,1.5l-10,1l-18,0.5l-16-0.5l-8-1.5l-1-1l2.5-1.5zM220,93l0-1l4,0.5l8,1.5l7.5,3l1,1l1.5,2.5l-2,1l-4,1.5l-16,3.5zM633.5,105.5l4.5,0l1,0l-1,1zM618.5,108l6.5,0l-5,1zM771,116.5l5-1l3,1l-3,1zM998.5,148l21.5,0l6,2l1.5,2l-1.5,1l-6,0.5l-18-1.5l-14,2.5l-7,2l-13,2.5l-12.5-2.5l-2.5-1l-2.5-2l-0.5-1.5l2-1l20-1l14-1.5zM1036.5,155.5l1.5-0.5l3.5,1.5l0.5,1l-4,0.5l-2.5-1.5zM1047,159.5l5-0.5l4,0.5l1.5,1.5l0,1l-1.5,1l-2,0l-8.5-2z"/>
<path fill="#ff9700" d="M273,84l21,0.5l8,0.5l4,1.5l-8,1.5l-8,1l-18,0.5l-16-0.5l-7.5-1.5l-1-1l2.5-1.5zM220,93l0-0.5l4,0l7,1.5l6.5,3l3,3.5l-4.5,2l-16,3.5zM773,116.5l3-0.5l2,0.5l-2,0.5zM992.5,149l27.5-0.5l5,1.5l0.5,1l-1.5,1l-4,1l-16-1.5l-4,0l-14,3l-6.5,2l-11.5,2l-12-2.5l-4-2.5l-0.5-1.5l6.5-0.5l18-1zM1038,156.5zM1052.5,159.5l3.5,0.5l1,1l0,1l-1,1l-2,0l-4-1l-1.5-1z"/>
<path fill="#ff8700" d="M250.5,85l21.5-1l18,0l10,1l5,1.5l-15,2.5l-18,0l-20-1l-3-0.5l-1-1zM220,93l0-0.5l4,0l6,1.5l6.5,3l2.5,3.5l-5.5,2l-13.5,2.5zM775.5,116.5l1,0zM989,150l31-1l3.5,1l0,1l-1.5,1l-2,0l-20-1l-4,0.5l-12,3l-6,2l-10,2l-10-2l-2.5-1l-1-2l1.5-1.5l4-0.5zM1051.5,161l2.5-1l2,0.5l0.5,1.5l-2.5,0.5l-2-0.5z"/>
<path fill="#ff7800" d="M251,85l21-0.5l18,0l10,0.5l3.5,1.5l-13.5,2l-18,0.5l-20-1l-2.5-0.5l-1-1zM220,93l3,0l6,1l6.5,3l2,3.5l-5.5,2l-12,2zM1008,150l12-0.5l2,0.5l-0.5,1l-1.5,0.5zM961,152l25-1l4,1l-6,1.5l-6,2.5l-10,2l-11-2.5l0-2z"/>
<path fill="#ff6800" d="M251.5,85l20.5-0.5l18,0l9,0.5l3.5,1.5l-12.5,2l-18,0.5l-18-1l-4-0.5l-1-1zM220,93l8,1l2.5,1l3.5,2l1.5,3.5l-5.5,2l-10,1.5zM966,152l20.5,0l-4.5,1.5l-3,2l-11,2l-10-2l0.5-1l1-1z"/>
<path fill="#ff5800" d="M252,85l20-0.5l18,0l8,0.5l3.5,1.5l-11.5,2l-18,0l-18-0.5l-3.5-0.5l-1-1zM220,93l7,1l2.5,1l3.5,2l1,3.5l-4,1.5l-10,1.5zM962.5,153.5l5.5-1l10.5,1l-0.5,2l-10,2l-8.5-2l0.5-1z"/>
<path fill="#ff4800" d="M252.5,85l37.5-0.5l7,0.5l3.5,1.5l-10.5,2l-34-0.5l-5-0.5l-1-1zM220,94l0-1l6,1l2.5,1l3.5,2l0.5,3.5l-4.5,1.5l-8,1zM965,153.5l3-0.5l6,0.5l2,0.5l0.5,1.5l-8.5,1.5l-7.5-1.5l1.5-1.5z"/>
<path fill="#ff3800" d="M253,85l37-0.5l6,0.5l3.5,1.5l-9.5,1.5l-34,0l-4.5-0.5l-1-1zM220,94l0-1l5,1l4.5,2l1.5,1l0.5,2.5l-0.5,1l-3,1l-8,1.5zM967.5,153.5l4.5,0l2.5,1l0.5,1l-7,1.5l-4-1l-2-0.5l2-1.5z"/>
<path fill="#ff2800" d="M253.5,85l36.5,0l5,0l3.5,1.5l-8.5,1.5l-34,0l-4-0.5l-1.5-1zM220,94l0-1l4,1l6,3l0.5,2.5l-1,1l-3,1l-6.5,1zM965,154.5l3-1l2,0l2.5,1l1.5,1l-6,1l-5-1z"/>
<path fill="#ff1800" d="M254.5,85l35.5,0l4,0l3.5,1.5l-7.5,1.5l-34,0l-3.5-0.5l-1.5-1zM220,94l0-0.5l3,0.5l4.5,2l1.5,1l0,2.5l-1,1l-2,0.5l-6,1.5zM966.5,154.5l3.5-0.5l2.5,1.5l-4.5,1l-3.5-1z"/>
<path fill="#ff0800" d="M255.5,85l34.5,0l6.5,1.5l-8.5,1.5l-32,0l-3-0.5l-1.5-1zM220,94l2,0l6,3l0,2.5l-1.5,1l-6.5,1.5zM965.5,155.5l2.5-1l3.5,1l-3.5,0.5z"/>
<path fill="#f70000" d="M259.5,85l30.5,0l5.5,1.5l-7.5,1l-32,0l-2.5,0l-1.5-1l2-1zM220,94l3.5,1l3.5,2l-0.5,2.5l-1.5,1l-5,1zM967,155.5l1-0.5l2,0.5z"/>
<path fill="#e70000" d="M264.5,85l25.5,0l4.5,1.5l-6.5,1l-32,0l-2,0l-1.5-1l1.5-0.5zM220,94l6,3l-1,2.5l-1.5,1l-3.5,1z"/>
<path fill="#d70000" d="M269.5,85l20,0l4,1.5l-5.5,1l-32,0l-3-1l1-0.5zM220,95l0-1l1.5,1l3,2l-0.5,2.5l-4,1.5z"/>
<path fill="#c70000" d="M253.5,86.5l2.5-0.5l16-0.5l16,0l4.5,1l-4.5,0.5l-16,0.5l-16,0zM220,95l0.5,0l3,2l-1,2.5l-2.5,1z"/>
<path fill="#b70000" d="M254,86.5l18-1l16,0l3.5,1l-19.5,1l-16-0.5zM220,96l0-1l2.5,2l-1,2.5l-1.5,0.5z"/>
<path fill="#a70000" d="M255,86.5l17-0.5l18.5,0.5l-18.5,0.5zM220,96l1.5,1l-1.5,2.5z"/>
<path fill="#970000" d="M256,86.5l29.5,0zM220,97l0-0.5l0.5,0.5l-0.5,1z"/><path d="M597,75.5l-0.5,4.5l-2.5,0.5l-10.5,1.5l2.5,3l16,1.5l18.5-2.5l3.5-4l0.5-4.5M902,75.5l0,7.5l1,1l11,5.5l10,2.5l4.5,2l5.5,4l5,2.5l5,3l7,6.5l7,2.5l4,2l2.5,2l4,4.5l11.5,2l2.5,1l3.5,2.5l2-3l2.5-1.5l3.5-1.5l6-1.5l4,0l8,2l5,2l3,3l2,0l5-2l11.5-2l13.5-4l26-5.5l18.5-3.5l11-1l6.5-1.5l10-1l6-3l4-1l10-1l16,1.5l9-1.5l8.5-1M989,75.5l0,7.5l-3,6l-3-5l0-8.5M498,151l2,0.5l2,1l0.5,1l0,1l-2.5,1.5l-2,0.5l-1.5-1l-1-1l-0.5-1zM1177.5,168.5l-17.5-1.5l-16,0l-2,0.5l-4,2l-4,1.5l-10,2l-16,0.5l-34,2l-12,5l-24,7.5l-8,1.5l-8,2l-2,0l-7-3.5l-9-3.5l-2-0.5l-10,1l-24,2.5l-16-4l-10-3l-12-3l-5-2.5l-5-5l-2.5-4l-1.5-3.5l-6-2.5l-4.5-3.5l-2.5-3l-3-5.5l-2-2.5l-28,3l-24,2l-16-3l-18-3l-12-0.5l-16-2.5l-4-1.5l-4-4l-6,2l-10,1l-4,1.5l-6,1.5l-8,1l-18,1l-68,0l-8.5-1.5l-9.5-2l-10-1l-8-1.5l-18,0l-8,2.5l-8,1.5l-2,0l-20-2.5l-14-3l-22-2.5l-6-1.5l-6-3l-4,1.5l-12.5,0.5l-1.5,1l-3.5,3.5l-2.5,1.5l-4,1.5l-6,1l-2,0l-16-8.5l-10,1.5l-8,1l-34-1.5l-12,2l-24,3.5l-16,1l-18,2l-16,0.5l-18,0l-18-3.5l-9.5,1l-8.5,2.5l-34-1l-18-2M333,75.5l0,1l6,2l3,2.5l34-0.5l6-2l2.5-2l0-1M449.5,75.5l0.5,5.5l1,1l12,4.5l17,0.5l18-0.5l6-0.5l12-2.5l13.5,4l2,1l2.5,3.5l12,1.5l4,1.5l8-1l10-1l28,2l4,0.5l3.5,1.5l16.5,0l6-1.5l28-3.5l6,0.5l6,1l6,2.5l10-2.5l8-1.5l8,2l9,4l1,0.5l36.5-0.5l49.5-3l12,0.5l3,0.5l3,1l22,0.5l18,1l8,1l2.5,1l1.5,1l2-1l2-1l10-1l22,0l10,1.5l4,1l8.5,7l3,3l1.5,3.5l1.5,5.5l0.5,5l0,3.5l0.5,2l2.5,3.5l2,1l2.5-2.5l3.5-1.5l10-2.5l8,1l10,3l2,0l16,0l18-3l16,3.5l12,2l6,1.5l16,0l2-0.5l4-2l4-1.5l9.5-2l9.5-4l23-8l12-2.5l6.5-1.5l11.5-2l6-1.5l3.5,1l14.5,9l10,2l7.5,3.5M220,84l6-3l6.5-2.5l3-2l0-1M388,108l-8,1.5l-2,1.5l-0.5,1l0.5,1l16,3.5l52,0l4-1.5l4-0.5l14.5-1l-6.5-1l-68-5zM1177.5,158.5l-33.5-3.5l-2,0.5l-6,5.5l-4,2l-6,1.5l-36,1l-16-1.5l-6,5.5l-5.5,2l-6.5,1.5l-12-0.5l-6-1l-16-1l-10-2.5l-4.5-2l-3.5-2l-2,0.5l-6,1.5l-10,1l-6,1.5l-10,1.5l-10-1l-8-1l-18,3l-4-2l-4-3l-7-10.5l-8-10l-5-4l-4-1.5l-4-1l-34,0l-18-3l-16-0.5l-8,2l-10,1.5l-18-1l-5.5-2l-4-2l-2.5-2.5l-4-5l-2-0.5l-8,2l-26,4.5l-34-1.5l-74-1l-18-1l-14-1.5l-34-2l-8-3.5l-9.5-7.5l-16.5-1.5l-2,0.5l-6,4.5l-8,3.5l-20,3.5l-52,0l-10-0.5l-24-2.5l-8,2l-26,4l-8,2.5l-46,5l-17.5-1.5l-24.5-2l-6-0.5l-4-1.5l-18-1l-18-2.5l-16-4M353,85l7,0l10,0.5l14,3l5.5,2l-1.5,2l-2,1l-11,1.5l-2.5,5.5l-2.5,1l-6,2l-4,3l-1,0.5l5,1l4,2l2.5,7.5l-0.5,1l-4.5,2.5l-1.5,2l-6,2l0,3.5l-10,0.5l-6,0.5l-18,0l-4.5-1l-8-4.5l1.5-1l3-0.5l21-1.5l1.5-1l0-1.5l-3-2l-2.5-3l2-2.5l3-1.5l4-1.5l13.5-1l-2.5-1.5l-1.5-2l-5.5-2l-1.5-1l-0.5-3.5l-2-7l-1-0.5l5.5-3zM220,87.5l16,0l2-2.5l4-1.5l10-2l20-1l18,0l18,0l10,1l4,1l3.5,1.5l5,1l1,1.5l-2.5,1l-5,0.5l-4.5,2.5l-4,1l-13.5,2l-13.5,1.5l-4.5,2l0.5,1l3.5,2.5l5.5,2l1.5,1l-8.5,3.5l-0.5,1l-1.5,3l-1.5,2.5l0,1l2.5,2l3,2l8,2.5l4,2l-0.5,1l-6,2.5l-0.5,2l-1.5,0.5l-2,0l-2,0l-6-4l-8-1.5l-34-1l-12-2l-8-1M507.5,90.5l8.5-0.5l12.5,5l3,2l2.5,1l16,2l18-3.5l16,0l10.5,1.5l9.5,1l16,0.5l18-1l6,0.5l7.5,1.5l4.5,3l6-1l10,0l18,0l18,0l36,3l16,2.5l8-1.5l10-1l8,1l3,1.5l3,2.5l4,6l4,2l4,1.5l8,1l6-1l3-1.5l6-8.5l3.5-2l5.5-1l12,0l10,1.5l6,2l16.5-5l17.5-3l2,0l4,1.5l6,4l4,9l2,8l-2,2l-4,1l-10,2l-26-1l-10-0.5l-6,2l-10,1l-10-1.5l-8-2.5l-2,0l-4,1l-12,5l-16,1l-2-0.5l-5-2.5l-3-3l-0.5-2l-1-1.5l-6.5-1l-34,1l-8,0l-30-2l-16,0l-18-3.5l-34,4.5l-16-1l-37-4.5l-17-4.5l-6-2.5l-6.5-1.5l-19.5-2l-20-1l-4,3.5l-4,2l-4,1l-6,1l-16-4.5l-18-2.5l-36-0.5l-20-2l-6-1l-5-1.5l-2-1l0-2l1-1.5l2-0.5l14,0l28,1l6,1l2.5-3.5l1.5-1.5l6-2l8-0.5l34-0.5zM440,118.5l6-0.5l4,0l6,0.5l3.5,1.5l-2,1l-3.5,1l-8,0.5l-6-1l-4.5-1.5zM475.5,118.5l4.5-0.5l4.5,0.5l-2,1.5l-2.5,0l-1.5,0zM949.5,136l2.5-0.5l4,1.5l12,4.5l16,0l2-0.5l1.5-2l-4.5-3l21-0.5l16,4l12,2.5l6,2l16,1.5l2,0l8-3.5l8-2.5l18-2l2,0l6,1.5l3,1.5l4,3l3,4l18,1l4,2l2,3l-0.5,1l-5.5,5l-2,1l-34,0l-16-1l-2,0l-6,6.5l-4,2.5l-6,1.5l-10-1l-15.5-3l-10.5-3l-16-3.5l-2,0l-24,4.5l-10,2l-18-2.5l-10,1l-6,1l-2-2l-3-5l-1.5-6.5l1.5-4l1.5-2.5l6.5-4zM1177.5,153l-4-2l4-1.5M358,87.5l3,0l11,3l-4,1.5l-3.5,2l-1.5,1l-3,4.5l-2-0.5l-5-8.5l1-1zM220,90.5l18,0.5l2-0.5l2.5-1l-1-3l1-1.5l3.5-0.5l10-1l32-1l18,0l8,1.5l3,1l1.5,1.5l-4.5,1.5l-13.5,2.5l-10.5,1.5l-18,1l-3,1l-1.5,2l2.5,6.5l-0.5,1l-4.5,4.5l-7,5l-3,3.5l-1,0.5l-9,0.5l-25,0.5M511,95l5-0.5l1.5,0.5l0.5,1l-0.5,2l-1,3.5l-8.5,1.5l-5,2.5l-5,4.5l-2-1.5l-4-1.5l-18-2.5l-1.5-1l-0.5-1l8-2.5l26-3.5zM583.5,100.5l36.5,1l18-0.5l6,1.5l5.5,2l4.5,1l18,0.5l18,1l18-1l6,1.5l4,1.5l5,4.5l3,0.5l16,0l16.5-0.5l17.5-3l2,0.5l6,2l2.5,1.5l2,2l-0.5,1.5l-2,2l-4,1.5l-4,0.5l-10,0l-24-0.5l-20-1l-8-2l-6-2.5l-14-1.5l-6-1l-52,3l-22-2l-18-1.5l-19-3l-5-2l-10-3l-1-1.5l3.5-1zM408,101.5l4-1l12,1l8,1l-4,0.5l-16,0l-2-0.5zM896.5,108l1.5-0.5l2,0.5l0.5,1l-2.5,2l-2-1l-1-1zM357.5,111l0.5,0l2,0.5l1,2l-1,2.5l-1.5,0.5l-0.5,0l-4-2l-3.5-1zM841,111l5-1l6,1l-6,1.5zM879.5,117.5l2.5-0.5l16-0.5l2,1.5l1,0.5l0,1.5l-3,2l-16,1.5l-3-0.5l-5-2l0-1zM793,126.5l1-1.5l2,0.5l4.5,2l0,1l-4.5,2l-2,0l-1.5-2l-0.5-1zM844.5,127.5l1.5-1l2,0l1.5,1l-3.5,0zM999.5,141.5l4.5-1l18,3l9,2l7,2.5l10,2l8,2.5l6-4l10-3.5l6,0l12,1l11,4l4,2l0,1.5l-3,2l-8,2l-4,0l-16-0.5l-4,0.5l-3,1l-2,3.5l-3,3l-6,3l-10-2l-7-2l-11-2l-8-3l-16-3.5l-8,1.5l-10,1.5l-8,2.5l-10,1.5l-10-1.5l-6-2.5l-10-1l-4-1l-1-3l0-1.5l3-4l2-2.5l4-2l4-1.5l2,0l16,4l24-3z" fill="none" stroke="#000" stroke-width="0.8" stroke-linejoin="round"/></g>
<path d="M184.5,141.9L221.7,144.4L223.0,141.1L235.0,142.3L239.4,148.4L240.7,145.4L266.6,147.2L284.4,149.2L303.3,155.0L304.6,153.9L324.9,159.8L348.9,167.0L365.4,168.7L366.6,166.2L389.4,173.0L391.3,170.6L397.3,174.4L420.5,179.1L433.2,187.1L434.9,182.2L439.1,180.1L443.7,184.3L460.6,182.2L465.2,190.0L480.0,189.0L484.2,187.6L507.0,195.4L508.5,198.9L518.4,192.8L532.7,200.6L534.4,195.4L553.8,205.3L555.5,201.7L569.7,199.8L570.7,197.5L584.0,205.5L585.5,201.5L607.6,200.2L626.6,210.1L629.8,210.1L630.4,206.5L643.5,204.2L655.1,211.2L663.5,210.3L674.1,212.7L691.0,214.8L708.9,215.4L719.5,212.9L720.5,211.2L760.6,209.1L788.5,205.2L802.2,209.4L803.9,207.5L824.3,210.0L838.5,207.5L843.3,219.5L845.4,214.9L871.8,214.9L873.9,216.2L910.8,219.1L948.4,243.8L977.1,238.0L997.5,243.5L999.0,240.3L1005.6,238.0L1034.0,245.3L1077.1,250.6L1137.2,272.4L1177.3,279.1L1188.9,281.2L1193.1,278.5L1194.5,278.0L1194.5,291.5L184.5,291.5Z" fill="#999" stroke="#000" stroke-width="0.9" stroke-linejoin="round"/>
<rect x="184.5" y="290.6" width="1010.0" height="2.1" fill="#4a4a4a"/>
<path class="ax" d="M184.5,291.5V75.5H1194.5V291.5M184.5,291.5v11.3M184.5,75.5v-11.3M359.5,291.5v11.3M359.5,75.5v-11.3M533.5,291.5v11.3M533.5,75.5v-11.3M707.5,291.5v11.3M707.5,75.5v-11.3M881.5,291.5v11.3M881.5,75.5v-11.3M1055.5,291.5v11.3M1055.5,75.5v-11.3M184.5,75.5h-10.5M1194.5,75.5h11M184.5,183.5h-10.5M1194.5,183.5h11M184.5,291.5h-10.5M1194.5,291.5h11"/>
<rect x="1211.5" y="76.2" width="33" height="214.9" fill="url(#jet)" stroke="#000" stroke-width="1"/>
<path class="ax" d="M1244.8,237.4h-3M1244.8,183.7h-3M1244.8,129.9h-3"/>
</g>
<g id="panel1">
<g clip-path="url(#cp1)"><rect x="220.0" y="377.5" width="957.6" height="215.0" fill="rgb(0,0,135)"/>
<path fill="#000097" d="M220,377.5l385.5,0l1,3l2.5,6.5l9,1.5l20,1l18-1l9-1.5l6-7.5l1-2l24,0l1.5,4.5l3.5,5l8.5,2.5l5.5,2l5,2.5l2.5,3l5.5,3l7.5,3.5l6.5,2l52-0.5l52,2.5l52-2.5l1,0.5l15.5,9.5l4.5,10l-5,30l2,1.5l7-1.5l2-2l2-1.5l7-1.5l11.5-3.5l6.5-3.5l50-2.5l2,0.5l3.5,3l4.5,3l6,2l12,2.5l8,4.5l4.5-4.5l8.5-4l2-2.5l3-4.5l34-2.5l34-3.5l36-0.5l17.5,3.5l0,31.5l-17.5,0.5l-18,2.5l-14,4.5l-4,3.5l-18,2.5l-16,1.5l-28-2.5l-24-0.5l-7,5l0.5,1l6.5,3l10.5,8l5.5,3l15,6.5l7.5,5.5l13.5,6l8,5l6,2.5l7.5,1.5l1.5,1l-4,20.5l0.5,43l-889.5,0zM368,384l-12,1.5l-9.5,1.5l1,1l4.5,1.5l10,1l14,1l10-0.5l14-1.5l5-1.5l1.5-1l-10-2l-12.5-1.5l-8-0.5z"/>
<path fill="#0000a7" d="M220,377.5l261.5,0l0,1l0.5,0l0-1l113,0l-0.5,9.5l2,1l9.5,1.5l32,1l26-1l11.5-1.5l3.5-1l4-7.5l0.5-2l8.5,0l2,7.5l1,2l1,1l4,1l8,1.5l4,1l6,3l1.5,2.5l7.5,4l7.5,3.5l7.5,2l52,0l52,2.5l52-2.5l2,0.5l12.5,8l4.5,10l-4.5,30l3.5,3.5l12-3l24-9l50-2.5l2,0.5l6,3.5l10.5,3.5l7.5,5.5l10,3.5l6-3l2-2.5l2-3.5l4.5-3l3.5-3.5l40-3l12.5-2l15.5-2l36,0l17.5,3l0,24l-17.5,0.5l-22,3l-7.5,1.5l-18.5,5.5l-22,3.5l-36-1l-10-1.5l-6-1.5l-8,4.5l-6.5,6.5l0,1l4.5,2.5l10,3.5l10,8.5l15,6l4.5,5.5l8.5,6l6,2.5l8,2l4,2.5l6.5,2l1,1l-0.5,20.5l0,4.5l0,38.5l-881,0zM360,382l-18,2l-12,3l-2,2.5l14,2l34,2l26-0.5l15.5-1.5l4.5-1.5l1-2l-0.5-1l-4.5-2l-6-1.5l-8-1l-26-2z"/>
<path fill="#0000b7" d="M220,377.5l141,0l0,1l-25,1.5l-12,2l-5,4l-2,2l-0.5,1.5l7.5,6l2,0.5l52,0l52,2l50-1.5l30-2l7.5-5l16.5-6l8,2l5.5,2.5l3.5,1.5l7,0l80,2.5l36-0.5l16-1.5l6,1l12,0.5l7,3l3,3l8,4.5l6,3l10,3l52,0l52,2.5l52-3l12.5,7.5l4.5,10l-4.5,30l2.5,3l3,2.5l12-2.5l24-8.5l50-1.5l7.5,2.5l6.5,6.5l6,4l7,2.5l9,2l8-1.5l4-2l2-4l2-7.5l2-1.5l20,0.5l8,0.5l1.5,0.5l0,23.5l-29.5,1.5l-6-1.5l-2-2l-2.5-1l-7.5-1.5l-8,2.5l-6,3.5l-5,5l-3.5,5.5l0.5,1l1,1l4.5,3.5l6,2l10.5,3l3,4.5l5,3.5l10.5,3l1.5,1l1,4.5l2.5,5.5l1.5,2l3,2.5l3.5,2l4.5,1l13,2l3,3l3,23l0,38.5l-873,0z"/>
<path fill="#0000c7" d="M220,377.5l93,0l0,1l-3,3.5l-2,3.5l-1,2.5l0.5,1.5l10.5,7.5l6,1l54,0.5l52,3.5l50-2l30-3l74-4l68,1l38,1l6.5-1.5l9.5-0.5l2,0l4,1.5l6,5l9,5l15,4.5l52,0.5l52,2.5l52-3l10.5,6l1,1l3,9l-4,30l3,4l4.5,3.5l6-1l12-2.5l8-1.5l4-1l3-2.5l3-1l33,1l17,2.5l6,7l7.5,4.5l-2.5,3l-4.5,12l-0.5,4l2,4.5l3.5,2l5,2.5l8.5,5l11,5l4,2.5l-2,10l-3,10.5l-3.5,16l0,47.5l-813.5,0zM794,419l-4,1.5l4,1l8-1z"/>
<path fill="#0000d7" d="M220,377.5l75,0l2,10.5l1.5,1.5l12,7.5l13.5,2.5l42,1l62,3.5l52,0l18-3l20-2l66-3.5l54,0l52,2l16-3l2.5,0l7,5.5l7.5,4.5l9,3l10,2.5l52,1l52,2.5l52-3l2,0.5l7.5,5l2.5,9l-3.5,30l3,5.5l5,3l1.5,2.5l18-2l6,0.5l24,5.5l14.5,4l5.5,3.5l3.5,3l3,4.5l3,6.5l5,3l7.5,7l8.5,6l1,1l-3,36.5l0,47.5l-792.5,0zM792,417l-5,1.5l-3.5,2l10.5,2l19.5-2l-3.5-1.5l-6-1.5l-8-1z"/>
<path fill="#0000e7" d="M220,377.5l57,0l0,1l6,4.5l4,5l9,4.5l7.5,4.5l20.5,3.5l30,1.5l30,2l44,1.5l52,1l30-4.5l24-2l52-2.5l50,0l54,2l16-3l2,0l6,5l8,4l9,3l11,2.5l60.5,2l-17.5,2l-5,2l-2.5,2.5l-1,1l17.5,3.5l17-1.5l14.5-2l-0.5-4.5l1,0l72-4.5l2,1l5.5,3.5l2,9l-3,30l2,5.5l3,3l2,4.5l2.5,3l2,1.5l18-0.5l4,1.5l12,8l12,5.5l6.5,4.5l9,3l6.5,3.5l6.5,4l5.5,5.5l0,1.5l-2,9l-4.5,12l-4.5,7.5l-5,5.5l0,49.5l-760,0z"/>
<path fill="#0000f7" d="M220,380.5l26,1l20,1.5l6,1.5l5.5,3.5l10,4.5l8.5,4.5l8,1.5l20,3.5l28,1.5l26,2.5l102,2.5l54-6.5l52-2l50-0.5l54,2l16-2.5l2,0.5l10,6l10,3.5l14,3.5l22,0.5l3,1l1,1l1.5,2.5l0.5,3l24,5l18-1l16-2l9-2l5.5-2l9.5-2.5l46-3l2,0.5l3.5,2.5l1.5,9l-1,15l-1.5,15l1,5.5l1.5,3l0.5,7.5l1,4.5l2.5,6.5l3,4l4,3l10-3l8-1.5l10.5,7l15.5,4.5l12,4.5l8,5l3,2l0.5,1l-6,10l-11,10.5l-7.5,5.5l-11,5.5l-3.5,3l0,49.5l-724.5,0z"/>
<path fill="#0008ff" d="M220,383l20,1l20,3l12,2.5l16.5,7.5l8.5,2l11.5,2l15.5,2.5l22,1.5l32,3l102,2.5l54-6.5l52-2l52-0.5l52,2.5l16-2.5l2,0.5l4,2.5l6,3l8,2.5l16,4l12,1.5l6,2.5l3,2.5l17,4l14,2.5l20-1l16-1.5l28.5-5l11.5-3.5l28-2l4,2l0.5,9l-0.5,15l-1.5,15l-0.5,8.5l-2,4.5l-14.5,8.5l-5.5,2.5l-12,2l-20,1.5l-14.5,4.5l14.5,7.5l24,2.5l13,3l3,1l3.5,2.5l6.5,5l1,6.5l0,77.5l-677,0zM932.5,497l1.5-0.5l18,2.5l12.5,5.5l6,3l0,1l-8.5,8.5l-10,7l-2,0.5l-16,1l-4-2l-4-3.5l-2.5-5l-2-6.5l0.5-2l3-4.5l3.5-3z"/>
<path fill="#0018ff" d="M220,385l22,2l18,2.5l11,3l15,6l18,3.5l20,2.5l54,5l102,3l54-6.5l52-2l52-0.5l52,2.5l16-2l2,0.5l6,3l6,2.5l30,7.5l6.5,3l19.5,5l18,2.5l34-1l40-3.5l12-2.5l4-1.5l4-3.5l10-0.5l2,0.5l0,24l-2,13l-4,4l-12,7l-20.5,10l-19.5,4.5l-27,8.5l27.5,14l3.5,3.5l11.5,5l8,5.5l0,77.5l-645.5,0zM939.5,505.5l10.5-1l2,0.5l5.5,2.5l0.5,1l-6,5l-2,0.5l-6-1l-10-2l-2-2.5l0-1l2-1.5z"/>
<path fill="#0028ff" d="M220,387l0-0.5l12,1l22,3.5l11.5,2.5l16.5,6l18,3.5l78,8.5l102,2.5l54-6l52-1.5l52-1l52,3l16-2l2,0.5l10,4.5l39.5,11l6.5,2.5l8.5,2l21.5,2.5l52-0.5l21.5,1l6.5,1.5l6,2l5,3l3,3.5l-8,7.5l-7.5,9.5l-6.5,3.5l-27.5,13.5l-20.5,6l-19.5,7l27,14l4,3.5l4.5,6l4.5,4.5l0,77.5l-618.5,0z"/>
<path fill="#0038ff" d="M220,388l16,2l16,2.5l8.5,2l15.5,6l16,3.5l22,2.5l64,7l52,2l50,0.5l54-6l50-1.5l54-0.5l52,3l16-1.5l2,0l6,2.5l14,4.5l22.5,6l7,3.5l8.5,2l15.5,2l12.5,3l32,1l20,2l14.5,4l-5.5,8.5l-4,8.5l-19.5,8.5l-7.5,4.5l-6,4l-24,8l-24.5,5l2.5,2.5l4,2l18,2.5l14,7l5.5,3.5l4.5,10.5l0,77.5l-598,0z"/>
<path fill="#0048ff" d="M220,390.5l0-1l26,3.5l6.5,1.5l10,4.5l9.5,3l22,4l82,9l34,2l20,1l52,0l52-6l52-1.5l52,0l52,3.5l18-2l24,8l11.5,2.5l4.5,3.5l5.5,2l20.5,5l20,3.5l33,3.5l-6.5,17l-6.5,3.5l-6,4l-5.5,4.5l-5,5l-3.5,1.5l-28,3.5l-16,3.5l-8,2.5l-7,6.5l7,3l38,5.5l14,3l3,1.5l0.5,10.5l0,77.5l-577.5,0z"/>
<path fill="#0058ff" d="M220,391.5l0-1l4,0.5l20,3.5l16,6.5l12,4l4,0.5l21.5,3l28.5,2.5l36.5,4l13.5,5l2,0l50,0.5l54-1l24-1.5l16.5-3l11.5-1l52-1.5l52,0.5l52,3.5l18-1.5l10.5,3.5l5.5,2.5l6.5,1.5l11.5,6.5l10,3.5l16,4l20,3.5l-2,9.5l-2.5,7.5l-19.5,7.5l-22,6.5l-12.5,9.5l-5,5.5l-4,5.5l10,5.5l11.5,4.5l18,3l7,2l4.5,6.5l0,79.5l-551.5,0zM474,450.5l-23.5,2.5l-5.5,1l37,3.5l8-1.5l7-2l-15-4z"/>
<path fill="#0068ff" d="M220,392.5l0-0.5l16,2.5l16,7l20,6l26,3.5l26,1.5l23.5,2.5l15,6.5l13.5,4l36,1.5l16,1.5l4,0l8-1.5l5-2l3-2.5l64-2l12-1.5l10-2l27.5-2l24.5-0.5l52,1l42,3l10,1.5l6.5-1.5l9.5-1l4.5,1l2,2l4,2l5.5,4.5l9,5.5l11,4l13,3.5l-5.5,5l-7.5,6l-5,6l-21,17l-4,5.5l-4,7.5l-2-0.5l-6.5-9l-2.5-8.5l-1-5.5l-6-4.5l-30.5,4.5l-5,3l-4.5,2.5l-10,3l-4,0l-8-1l-8-2l-5-2.5l-4.5-3l-7-3l-17.5-5l-52-5l-23-6.5l-25-4l-4-2.5l-2-0.5l-7.5,3l-46.5,5l-4.5,1.5l-3.5,1.5l-5.5,5l-0.5,1l16,5l28,3.5l26,5.5l12.5-1.5l39.5-4.5l20,2.5l8,2l6,2.5l4,2l3.5,3l10.5,2l18,0.5l10,1.5l5,2.5l1.5,2.5l1.5,4l2.5,1l13.5,5l16,2.5l12,3l7,2.5l9.5,6.5l7.5,1.5l3-1.5l3-5.5l5-5l5-4l2,0l5.5,4l6.5,3.5l8,3l8.5,3l8,6.5l0,79.5l-524.5,0z"/>
<path fill="#0078ff" d="M220,393.5l8,1l17.5,7.5l14.5,5.5l8,2.5l4,3.5l12,0.5l40,0l8.5,1l3,1l6,4.5l6.5,3l8,3.5l12,3l-10,6.5l2,1.5l10,4.5l18,5.5l4,2.5l0.5,3.5l3.5,2l8,3.5l10,3l42,7.5l21.5,3l4.5,0.5l50,0.5l26,5l28,3.5l12,3.5l10,5.5l10.5,4.5l20.5,5l21.5,8.5l11.5,2.5l16,1.5l4,0l8-2.5l6-5.5l2-1l7.5,4l5,4.5l1.5,2l0,77.5l-502,0zM633,418.5l6.5,0l24.5,5l22,3l16,1l4,0.5l2,1l8,6l10,5l-6,8.5l-5,8.5l-7,6l-10-9l-8-3l-26,3l-26,3.5l-27.5-7l-24.5-8l-54-5.5l-12-3l-10-4l2-1l6-2l14-2l54-1.5z"/>
<path fill="#0087ff" d="M220,396l0-1.5l10,5l15,6l3.5,2l5.5,2l4.5,8l3.5,3l3,2l0,170l-45,0zM323,421.5l1,0l6,4.5l8.5,4l1,3.5l-2,3l4,5.5l4.5,3.5l6,3l7,2l7,4.5l10,4l4.5,3.5l4,2l15.5,5l10,2l18,2l21,3l13,2.5l10,1.5l60,3.5l27.5,3l10.5,4l16,3l4.5,3l7,3l6.5,5.5l7.5,3l0,84l-322,0l0-159l5.5-4.5l7-3l10-3zM631.5,430l6.5-0.5l22,2l29.5,2l-5.5,1l-5.5,2l-12.5,3.5l-28,6l-28-9.5l0-3z"/>
<path fill="#0097ff" d="M220,399l15,6.5l4.5,4.5l0.5,10.5l1.5,2l0,170l-21.5,0z"/>
<path fill="#00a7ff" d="M220,403.5l5.5,2l0,4.5l-2.5,4l-3,4.5z"/><path d="M616.5,377.5l0,1l1.5,2.5l5.5,6l14.5,1.5l13.5-1.5l8-7.5l0.5-1l0-1M700,377.5l0.5,2l1.5,2.5l5,5l7,2.5l5,2l5,3l1.5,2.5l2,1l6.5,3l8,3.5l52-1l52,2.5l52-2l2,0.5l6,4l10.5,6.5l4.5,10l-2,15l0.5,2l1.5,3l2,1.5l3,0.5l8,0.5l6-1l6-2.5l6-4l32-1l10-1l8-1l2,0l7.5,7l4.5,2.5l8,2.5l14,2.5l8-3l3.5-2l2-2.5l2.5-5l2-2.5l22-1l8-1l5-1l21-1l12-1.5l18-1l18,0l2,1.5l4,1.5l11.5,1.5M370,386l-7.5,1l4,1l9.5,1.5l10.5-1.5l4-1l-12.5-1.5zM1177.5,473l-17.5,0l-8,1l-18,3l-3.5,1.5l-2.5,2l-1.5,2.5l-0.5,1.5l-2,3l-20,0.5l-14,1l-6-1.5l-6-1.5l-20-2l-10,0.5l-8.5,1.5l0,1l1.5,1l2,3.5l8,5.5l24,10.5l7.5,4.5l7.5,2.5l5.5,5l3.5,2l9,3.5l14,3l2.5,1l-4.5,11l-3,9.5l0.5,43" fill="none" stroke="#000" stroke-width="0.8" stroke-linejoin="round"/></g>
<path d="M184.5,443.6L221.7,446.1L223.0,442.8L235.0,444.0L239.4,450.1L240.7,447.1L266.6,448.9L284.4,450.9L303.3,456.6L304.6,455.5L324.9,461.4L348.9,468.6L365.4,470.3L366.6,467.8L389.4,474.5L391.3,472.2L397.3,475.9L420.5,480.6L433.2,488.6L434.9,483.7L439.1,481.6L443.7,485.8L460.6,483.7L465.2,491.5L480.0,490.5L484.2,489.1L507.0,496.8L508.5,500.3L518.4,494.3L532.7,502.0L534.4,496.8L553.8,506.7L555.5,503.1L569.7,501.2L570.7,498.9L584.0,506.9L585.5,502.9L607.6,501.6L626.6,511.5L629.8,511.5L630.4,507.9L643.5,505.6L655.1,512.6L663.5,511.7L674.1,514.1L691.0,516.2L708.9,516.8L719.5,514.3L720.5,512.6L760.6,510.5L788.5,506.6L802.2,510.8L803.9,508.9L824.3,511.4L838.5,508.9L843.3,520.8L845.4,516.3L871.8,516.3L873.9,517.5L910.8,520.4L948.4,545.0L977.1,539.2L997.5,544.7L999.0,541.5L1005.6,539.2L1034.0,546.5L1077.1,551.8L1137.2,573.5L1177.3,580.2L1188.9,582.2L1193.1,579.6L1194.5,579.1L1194.5,592.5L184.5,592.5Z" fill="#999" stroke="#000" stroke-width="0.9" stroke-linejoin="round"/>
<rect x="184.5" y="591.6" width="1010.0" height="2.1" fill="#4a4a4a"/>
<path class="ax" d="M184.5,592.5V377.5H1194.5V592.5M184.5,592.5v11.3M184.5,377.5v-11.3M359.5,592.5v11.3M359.5,377.5v-11.3M533.5,592.5v11.3M533.5,377.5v-11.3M707.5,592.5v11.3M707.5,377.5v-11.3M881.5,592.5v11.3M881.5,377.5v-11.3M1055.5,592.5v11.3M1055.5,377.5v-11.3M184.5,377.5h-10.5M1194.5,377.5h11M184.5,485.5h-10.5M1194.5,485.5h11M184.5,592.5h-10.5M1194.5,592.5h11"/>
<rect x="1211.5" y="377.8" width="33" height="214.5" fill="url(#jet)" stroke="#000" stroke-width="1"/>
<path class="ax" d="M1244.8,485.0h-3"/>
</g>
<g id="panel2">
<g clip-path="url(#cp2)"><rect x="220.0" y="678.5" width="957.6" height="215.0" fill="rgb(0,0,135)"/>
<path fill="#000097" d="M220,678.5l362,0l-0.5,2l-1.5,2.5l-5.5,5l11.5,3.5l11,4l5,1l36,0l18-2.5l18,2.5l13.5,4.5l14.5,2.5l40,2.5l34,1l3.5-0.5l4.5-2.5l10-1l8,0.5l10,2l34,1.5l36-1.5l16-1.5l10,1l8,2.5l3,2l3,3.5l1,7.5l-1,7.5l-8,5.5l-2,2l-2,1.5l-4,1.5l-8,1.5l-1.5,1l-2.5,2.5l-4,2.5l-6,2.5l-4,0.5l-34,2l-18-3.5l-14.5-5.5l-25-3.5l-4.5-1l-6-3l-2-0.5l-18,3.5l-16,1.5l-34,0.5l-18-0.5l-4.5,1l-9,4l-10.5,4l-10,3.5l-2,0l-16-5.5l-14-2l-20-4l-36-2l-15-1.5l-35-5.5l-36-1.5l-5,0.5l-9,3l-10,1l-12,1l-18-1l-16,2l-2.5,0.5l-2.5,2l2.5,3.5l2.5,1.5l18,5l8.5,7.5l7.5,10l36,3.5l34-1l10-3l6-1l14,1l24,3.5l12,2.5l10,4l3.5,2l4,3l2.5,1l20,1.5l16,3.5l8-2l8.5-1.5l-2.5-2l-1.5-1.5l-1.5-4.5l5-4l2-0.5l34,1l7-4l9-2l36-2.5l22-2l30-2l8,2l6,2.5l5.5,5.5l0.5,1l-1.5,1l-4.5,2.5l-10,1.5l-56,1.5l-4.5,1l-2.5,4l-1,3.5l5,8.5l3,1l70,3l3-0.5l5-3l6-1.5l25-3.5l5-1.5l6-1.5l34-3l20-1l6,1l5.5,2l6.5,6l18,0l14,1.5l8,2l4,2l4,2.5l4,1l18,1l7,1l5,2.5l2,2l2,1l2.5,0l13.5-2.5l10-0.5l10-0.5l10,1l8,1.5l6,2.5l4.5,3l4.5,5l1,0.5l1.5-0.5l3.5-3l3-1.5l8-1.5l6,0.5l5,1.5l3,1.5l2,2.5l2.5,5.5l9.5,4l3,2.5l2,3l-1.5,4.5l-2.5,2l-3,1.5l-6,1l-2,1l-0.5,4l0.5,2.5l1,1l1,0.5l2.5-0.5l7-2l6.5-1.5l18-1l17.5,2l0,46.5l-957.5,0zM390,711.5l-5,1.5l9,2l8-2l-8-2zM792,710.5l-0.5,0.5l0,2l-1,4l2,5.5l1.5,1l2-1l1.5-6.5l-1.5-5l-2-1zM1140.5,709.5l3.5,0l4,1.5l12,5l17.5,0l0,46.5l-35.5-4l-1,0.5l-2,3.5l-3,2.5l-3.5,1.5l-4,1l-16.5,3l-12,1l-46,2l-5,0.5l-5,3l-7.5,2.5l-14.5,3l-2,0l-6-2.5l-4-3l-4-4l-2-0.5l-18,1l-38,0l-19.5-3.5l-3.5-2.5l-2-3l1-8.5l0-6.5l1.5-2l2.5-2.5l6-2l4-3.5l4-2.5l8-3l10,0l26,2.5l18-2.5l18,3.5l34-1.5l3-0.5l6-3.5l7-2l18-3.5l8-4.5l6-2.5l14-4.5z"/>
<path fill="#0000a7" d="M220,678.5l358.5,0l-1,2l-2,2.5l-3,2l-4.5,2l-1,1l15,4.5l8.5,3l11.5,2l36,0l18-2.5l14,2.5l18,5l12,1.5l42,3l34,1l4-0.5l8-3l6-1l18,2.5l34,2l34-1.5l18-2l8,1l8,2.5l6,5l1,7.5l-1,7.5l-12,8.5l-11.5,3.5l-2.5,1l-2,2l-4,2.5l-4.5,2l-3.5,0.5l-34,2l-16-3.5l-11.5-4.5l-6.5-1.5l-19-2l-7-1.5l-5-2.5l-5-1l-34,4.5l-34,0.5l-18-0.5l-8.5,2l-15.5,6.5l-10,3.5l-2-0.5l-16-5l-34-5.5l-36-1.5l-50-7l-36-1.5l-8.5,1l-9.5,2.5l-10,1.5l-8,0.5l-18-1l-16,2l-4.5,1l-2.5,2l1.5,2.5l2.5,2l3,1.5l16,4.5l2,1l6.5,6l7.5,9.5l2,1.5l36,3.5l34-1l12-3l6-1l8,0.5l26,3.5l11.5,2.5l10.5,4l4,2l3,2.5l2.5,1l20.5,2.5l16,3l3.5,0l19-4l-5.5-4.5l-2-3.5l3-2l2-1l34,0.5l4-1.5l3.5-2l2.5-1l8-2l34-2l52-4l10,3l2.5,1.5l2.5,2l1,2.5l0,1l-6,2.5l-10,2l-52,1l-9,2l-2,4l-0.5,3.5l6,8.5l5.5,2l70,2.5l6.5-1.5l4.5-2l7-2l25.5-3.5l10.5-2l32-3.5l18-1l6,1.5l4,1.5l2.5,1.5l3,3.5l2.5,1l18,0.5l11.5,1.5l8.5,2l6.5,3.5l7.5,2l16,1l6,0.5l4.5,2l3,2l4.5,2l30-3.5l6,0l6,0.5l10,2l6,2l5,3.5l3.5,4l3.5,1.5l3-1.5l3-2l4-2l6-1l4,0l4,1l4.5,2l3,3l1.5,4.5l3,2l6,2.5l3,2l2,3l-1,2.5l-2,2.5l-3.5,1.5l-4.5,1l-3,2.5l-0.5,4l0.5,2.5l1,1.5l2,0.5l16-3l18-1.5l17.5,2l0,45.5l-957.5,0zM392,710.5l-10.5,2.5l6.5,1.5l6,1l11-2.5l-11-3zM792,709.5l-3.5,1.5l1,2l-0.5,4l1.5,5.5l3.5,2l2-1l1.5-1l1.5-6.5l-1-5l-4-1.5zM1140.5,711l1.5-0.5l4,1l14,5.5l17.5,0l0,44.5l-35.5-4l-3.5,1.5l-2.5,3.5l-2,1.5l-3.5,1.5l-4.5,1.5l-18,2.5l-14,1.5l-40,1.5l-10.5,1.5l-9.5,4l-12,3l-2,0l-2.5-1.5l-5-3l-3.5-3.5l-5-1.5l-18,1l-36,0l-16-2l-4-1l-4-2.5l-2-2.5l1.5-8.5l0-6.5l0.5-1l4-3l6-2.5l6-5l8-3.5l2,0l34,2.5l18-2l16,3l36-1.5l6.5-1l6-3.5l5.5-1.5l17-3.5l9-5l6-2z"/>
<path fill="#0000b7" d="M220,678.5l354.5,0l0,1l-0.5,1l-6,4l-4,3.5l4,2.5l16.5,5l17.5,3l36,0.5l18-3l12,2.5l18,4.5l10,1.5l42,3l38,1l8,0l1-1l0-1l1-0.5l8-2l18,3l34,1.5l34-1.5l18-1.5l6,0.5l8,2.5l6,4.5l1.5,7.5l-1.5,7.5l-11,7.5l-13,4.5l-2,1l-4,3l-5,2l-3,1l-34,2l-14-3.5l-5.5-2.5l-6.5-2l-8-1.5l-18-1.5l-5.5-1.5l-4.5-2l-8-2l-14,1.5l-20,3l-52,0.5l-13,2.5l-13,5.5l-8,2.5l-2,0l-16-4.5l-19.5-3.5l-14.5-2l-36-1.5l-21-3l-29-3.5l-36-1.5l-6,0.5l-14,3l-10,1.5l-6,0.5l-18-1l-18,2.5l-4.5,1l-2,2l1.5,3.5l3,2l4,2l16,4.5l2,1l6,5.5l6.5,8.5l3.5,2.5l36,3l34-1l16-3.5l4,0l34.5,4.5l7.5,2l7.5,2l4.5,2.5l4.5,3l2.5,1l5,1l16,2l18,3l7-0.5l19.5-4l-3-3.5l-5.5-3l-0.5-1.5l2.5-1l34,0l6-2.5l4-2.5l8-2l34-2l52-4l8,2.5l5,3l0.5,2.5l-1,1l-6.5,2.5l-6,1l-52,1l-8,1l-6,2l-1,4l0.5,3.5l6,8.5l8.5,2.5l70,2.5l9.5-1.5l5.5-2.5l7-1.5l26-4l10-2l28-2.5l18-1.5l6,1.5l3,1.5l9,6.5l16,0l10,1.5l8,2l10,4l8,2l16,0.5l4,1l14,6l30-3.5l8,0l9.5,1.5l7,2l6,3.5l4,4l5.5,2l5-2l5-3l8-1.5l6,1.5l4,2l2,2l1,3.5l1,1.5l2,1.5l8,4l3.5,3.5l-1.5,2.5l-2,2l-8,3l-2,2.5l-0.5,4l1,3.5l1.5,1l2,0.5l16-2.5l18-1l17.5,1.5l0,44.5l-957.5,0zM392,709.5l-8,1.5l-5.5,2l3.5,1.5l12,2l14-3.5l-12-3.5zM786,709.5l-0.5,1.5l2.5,2l-0.5,4l1,5.5l1.5,1.5l4,1l4-1.5l1-1l1.5-5.5l-0.5-6l-2-1.5l-4-1l-6,0.5zM1140,712l2-0.5l2,0l16,6.5l17.5,0l0,42.5l-35.5-4l-5.5,2.5l-2,2.5l-2.5,2l-8,2.5l-16,2.5l-16,1.5l-40,1.5l-14.5,2.5l-7.5,3l-8,2l-2,0l-2-1l-6.5-5l-7.5-2.5l-18,1.5l-36-0.5l-18-2.5l-4-2l-2.5-2.5l1-15l3.5-3l7.5-3.5l5.5-4.5l7-3l2,0l34,2.5l18-2l16,3l36-1.5l10-2l8-4l18-4l9.5-5l6.5-2.5z"/>
<path fill="#0000c7" d="M220,678.5l351,0l0,1l-1,1l-6,4.5l-3,3l7,4.5l14,4l22,3l34,0.5l18-2.5l10,2l16,4.5l8,1l38,2.5l52,2l2,1l4,2.5l0,4l1,3.5l0,2l0.5,1l6.5,2.5l4-1.5l2.5-2l1-6.5l0-5l-1.5-2l-10-1.5l-2-1l6-1.5l14,2l38,2l34-1l18-2l6,1l7.5,2.5l4.5,3.5l1.5,7.5l-1.5,7.5l-11.5,7.5l-12.5,4l-2.5,1.5l-3.5,2.5l-4,2l-2,0l-34,2.5l-10.5-3l-5.5-2.5l-8-2l-10-2l-18-1.5l-10-3.5l-8-1.5l-18,1.5l-16,2.5l-54,1l-14,2.5l-13.5,5.5l-4.5,1.5l-2,0l-16-4.5l-16-3l-18-2l-36-1.5l-18-2.5l-32-3.5l-36-1.5l-8.5,1l-15.5,3l-10,1l-20-0.5l-18,2l-6.5,2l-2,2l1.5,3.5l3,3l5.5,2.5l16.5,4.5l2,1l5.5,5l5.5,7.5l5,3.5l36,3l34-1l18-4l34,4.5l8,2l8,2.5l10,5.5l8,2l34,4.5l10.5-1l20-4l-1-2.5l0.5-3l0.5-1l1.5-1l22-0.5l6.5-2l6.5-4l5-1.5l34-1.5l52-4l7.5,2.5l3.5,2l0,1l-1.5,2.5l-7,2l-2.5,0.5l-52,1l-12,1.5l-6.5,2.5l0,4l0.5,3.5l6.5,8.5l3.5,1.5l8,2l70,2l13-2l11-3.5l38-6l42-3.5l8,2.5l10,7l16,0l7,1l9,2.5l9,3l11,2.5l18,1.5l16,6.5l36-4l8,1l8,2.5l6,3l4.5,4l7.5,3l12-5.5l6-1.5l4,1l4,2l2.5,2l1,3.5l2,2l2.5,2l6.5,3.5l3.5,3l-3.5,3.5l-6.5,3l-3,3.5l-0.5,3l0.5,3.5l0.5,1l2.5,2l2,0.5l16-2.5l18-1l17.5,1.5l0,43.5l-957.5,0zM386,709.5l-11.5,3.5l1.5,1l2,0.5l14,2.5l2,0l14.5-3l2.5-1l-9-3l-8-1.5zM1140,713l2-0.5l2,0l16,6.5l17.5,0l0,41l-35.5-4.5l-6,2.5l-6,5l-6,2l-16,2.5l-16,1.5l-36,1.5l-7,0.5l-13,2l-14,4l-2,0l-8-5l-8-2l-18,1.5l-34-0.5l-18-2l-4-1.5l-3.5-3l1.5-15l2.5-2l9-4.5l4.5-4l6-2.5l2-0.5l34,2.5l18-1.5l16,2.5l36-1.5l13.5-2.5l6-3.5l18.5-4.5l8-4l6-2.5z"/>
<path fill="#0000d7" d="M220,678.5l347.5,0l0,1l-7.5,6l-2,2.5l4,3.5l4,2l12,3.5l12,2l14,1.5l34,0.5l18-2.5l12,2.5l10,3.5l10,1.5l90,4l6,3l0,3l1.5,4.5l-0.5,2l0.5,1l2.5,2l6,1l5.5-2l2.5-2l1-6.5l0.5-5l0.5-1.5l2-1l6-0.5l36,2l32-1.5l18-1.5l4,0.5l7,2l4.5,3.5l2.5,7.5l-2,7.5l-12,7.5l-12,4l-3,1.5l-2,2l-5,1.5l-34,2l-6-1.5l-7-3l-8-2l-13-2.5l-18-1.5l-8-3l-10-2l-20,2l-14,2l-34,0l-22,1.5l-14,2l-14,6l-2,0.5l-2,0l-18-4.5l-32-4.5l-36-1.5l-16.5-2.5l-31.5-2.5l-38-1.5l-11.5,1l-22.5,3.5l-20-0.5l-20,2.5l-6.5,2l-2,2l2,4.5l3.5,3l5,2.5l18,5l2,1l4,3.5l5.5,7.5l6.5,4.5l36,3l34-1.5l18-3.5l36,5l11.5,3.5l8.5,4.5l6,2l28.5,4l13.5,1.5l10-1l18.5-3.5l3.5-1l0.5-2.5l3.5-2l4-1.5l12-1l6-1l4-2l3.5-3l4.5-1.5l34-1.5l34-3l18-1l7,2.5l2,1l0,1l-3,2.5l-6,1.5l-56,1l-12,1.5l-6,2.5l-1,1l0.5,4l1.5,3.5l7,8.5l4,1.5l10,2.5l70,2l16-2.5l12-3.5l36-5.5l40-3.5l7.5,2.5l10.5,7.5l16,0l4,0.5l30,8l20,2l16,6l36-4l8,1.5l7,2l6,3.5l3.5,3l9.5,3.5l12.5-5.5l5.5-1.5l4,1.5l4,2l1.5,1l1.5,4.5l1,1.5l4,3l6,3l2.5,2l-2.5,2.5l-6,3l-4.5,4.5l0,4l1,3.5l3.5,2.5l2,0.5l16-2l18-1l17.5,1.5l0,42.5l-957.5,0zM388,708.5l-10,2l-7,2.5l0.5,1l4,1l18.5,3l18-4l18,0l5.5-1l-7.5-1l-16,0l-8.5-2.5l-7.5-1zM446,715l7.5,0zM510,715l32,0l-10-0.5zM986,831l-1.5,1l1.5,1.5l1-1.5zM790.5,706.5l3.5-1l6.5,1l-6.5,1zM1139.5,714l2.5-0.5l2,0.5l10,4l6,2l17.5,0l0,39l-35.5-4.5l-8,3.5l-6,4.5l-4,1.5l-4,0.5l-14,2.5l-16,1.5l-34,1l-10,1l-12,1.5l-12,3l-2,0.5l-5-3.5l-2.5-1l-8.5-2l-18,1.5l-34-0.5l-18-2l-3.5-1.5l-2.5-2l0.5-10.5l1-4.5l2.5-2l8-4l5-3.5l5-2.5l2-0.5l34,2.5l18-1.5l16,2.5l36-1.5l17-3.5l6.5-3.5l16-4l6.5-3.5l6-2.5z"/>
<path fill="#0000e7" d="M220,678.5l343.5,0l0,1l-9,8.5l3.5,3.5l4,2.5l4.5,1.5l7.5,2l18,3l12,1l34,0.5l18-2.5l7,1.5l6,3.5l3,1l10,1.5l94,3.5l4,1l2.5,1.5l0,4l1,3.5l-0.5,2l1,2l1.5,1.5l2.5,0.5l6,1l5.5-1.5l3-2.5l1-1l1.5-11.5l1.5-1.5l3.5-0.5l38,1.5l32-1l20-2l6.5,2l4.5,3.5l3,7.5l-2.5,7.5l-11.5,7.5l-10,2.5l-4,2l-3.5,3l-2.5,0.5l-34,2l-10-4.5l-9.5-2.5l-14.5-2.5l-18-1l-8-3l-10-1.5l-20,1.5l-14,2l-34,0l-24,1.5l-14,2.5l-14,5.5l-2,0l-16-4l-30-4.5l-40-1.5l-14-2l-34-2.5l-38-1.5l-14.5,1.5l-21.5,3l-18-0.5l-16,2l-6,1l-6.5,2l-1.5,1l-0.5,1l2,5.5l3,3.5l15.5,4.5l10,2.5l4.5,3.5l5.5,7.5l8,5.5l36,2.5l34-1l18-3.5l34,4l13,4.5l7.5,4l7.5,2l25,3.5l17,2l12-1.5l20.5-3.5l3.5-1l1.5-2.5l4.5-1.5l16-2.5l4.5-1.5l3.5-2l2-3l2-0.5l34-2l34-3l18-1l7,3l0,1l-1.5,1.5l-5.5,1.5l-62,1l-10,1l-5,1.5l-3,3.5l1,3l3,4.5l7,8.5l7,2.5l10,2.5l70,2l19.5-3.5l10.5-3l36-5.5l38-3.5l7.5,3l10.5,7.5l18.5,0l31.5,8.5l20,2l16,6l36-4l8,1.5l6,2l6,3l2.5,2.5l11.5,4.5l3.5-1l10.5-5l4-1l4.5,1.5l3.5,2l1.5,4.5l2,2l11.5,7.5l-8.5,5.5l-4,4.5l0,4l1,3.5l4.5,3.5l2,0.5l16-2l18-1l17.5,1.5l0,41.5l-957.5,0zM342,740.5l-1.5,0.5l1.5,0l1,0zM394,707.5l-16,1.5l-7.5,2l-3.5,2l0.5,1l4.5,1.5l22,3l14-3l6-1l16,0l16,1l36-0.5l50,1l36,2l6.5-1l3.5-1l-3-1l-5-0.5l-36-2l-52,2l-30-1l-22-2l-18-0.5l-8-2zM986,829l-3.5,3l3.5,3l2.5-3zM793.5,706.5l2.5,0zM1139,715l3-0.5l2,0.5l8,3.5l8,2l17.5,0l0,37.5l-35.5-4.5l-8,3l-4,2.5l-0.5,1l-3.5,2l-14,3l-22,2.5l-34,1l-12,1l-12.5,1.5l-9.5,2.5l-2,0l-4-2.5l-3-1l-9-1.5l-18,1.5l-34-1l-18-1.5l-5-3l0.5-10.5l1.5-4.5l9-4.5l3-2l2-2l5-3l2,0l34,2.5l18-1.5l16,2.5l36-2l12-2l8-2l7-3.5l15-4l5.5-3.5l4.5-1.5z"/>
<path fill="#0000f7" d="M220,678.5l340,0l0,1l-8.5,8.5l2.5,3.5l4,3l5,2.5l7,1.5l14,2.5l18,1.5l36,0.5l18-2.5l4,1.5l2,3l2,1.5l8,1.5l36,0.5l68,3l4.5,1.5l1.5,7.5l-1,3l0.5,3.5l2.5,1l2,0l10,0l4-1.5l3-2l1.5-2l0.5-4l2-7.5l3-1.5l2-0.5l36,2l32-1l18-2l2,0.5l4.5,1l4.5,3.5l2.5,4l1,3.5l-3,7.5l-2.5,2l-7,4l-11.5,3.5l-6.5,4l-2,0.5l-34,1.5l-8-3.5l-8-2l-16-2.5l-20-2l-6-2l-8-1.5l-0.5-1l-1.5-0.5l-36,4l-34,0l-28,3l-14,2l-10,4.5l-2,0l-14-3.5l-18-3l-18-2l-36-1l-12-1.5l-34-2.5l-40-1.5l-17.5,2l-18.5,2.5l-18-0.5l-16,1.5l-8,2l-6,1.5l-2,1.5l0.5,5.5l2,4.5l15.5,5l14,3.5l3,2l7,8.5l6,4.5l2,1l2,0l34,2.5l34-1l18-4l34,4.5l10.5,3.5l7.5,4l8,2l23,3.5l21,2.5l12-1.5l20-3l7.5-2l1-1.5l3.5-1.5l8-1.5l12-1.5l6-2.5l4,7l10,12l8.5,3.5l13.5,2l68,2l10-1.5l22-5l36-5.5l36-3l6,2l5,3.5l3.5,3l3.5,2l18,0l29,8l23,2l16,6.5l36-4.5l12,3.5l6,3l2.5,2l13.5,5.5l4-1.5l10-5l4-1l6.5,3l1.5,4.5l2,2.5l4,3l7,4l-8,5.5l-3.5,4.5l0,4l1,3.5l5.5,4l2,0.5l16-1.5l18-1l17.5,1.5l0,40.5l-957.5,0zM290,699.5l-1.5,0.5l1.5,0.5l2.5-0.5zM340,739.5l-5.5,1.5l3.5,1l4,0.5l4.5-1.5l-4.5-2zM382,707.5l-14.5,2l-3.5,2l-1,1.5l0.5,1l2.5,1.5l2,1l26,3l18-4l12-0.5l22,1l36,0l40,0.5l46,2l16-1.5l9-2l9-1l36,1.5l16-0.5l-8-1.5l-26-2l-16-2l-14,1.5l-18,1l-38-1.5l-54,2.5l-68-3.5l-8-1.5l-10-1zM662,715l12,0.5l16,2l1.5-1.5l-1.5-1.5zM986,827l-2.5,2l-3,3l5.5,4.5l4-4.5zM1138.5,716l3.5-0.5l2,0l6,4l8,2l19.5,0l0,35.5l-35.5-4.5l-6,1.5l-4,2l-6,5l-20,3.5l-16,2.5l-48,1.5l-12,1l-8,1.5l-2,0l-6-2l-10-1.5l-18,2l-30-1l-22-2l-3.5-2l0.5-10.5l1.5-4.5l9-4.5l3-2l2-2l3.5-2l2-0.5l34,2.5l18-1l16,2l39-2l11-2l8-2l8.5-4l12-3l9.5-5l8-2l8-2.5l10-1.5zM775.5,765.5l18.5-1l5,2l-0.5,1l-4.5,2l-52,1l-17.5-0.5z"/>
<path fill="#0008ff" d="M220,678.5l336.5,0l0,1l-8,8.5l2,4.5l3.5,3l6,3l8,1.5l0,2l2,1l-1.5,1.5l-0.5,4l-34,0l-18,1.5l-36,2l-68-3.5l-18-2.5l-16,0.5l-17.5,3l-1.5,1.5l-0.5,2l1,3l3.5,1l31,3l18-4l16-0.5l82,1.5l58,2.5l18-1.5l18-2.5l34,1.5l18-0.5l34,2l4-1.5l0.5-1l-1-3l-1.5-2l2-1l6-0.5l48,1.5l30,1.5l0.5,0.5l2,7.5l-2,4l-2.5,1.5l-15.5,3l-18.5,2l-36,0l-14,2.5l-24,2l-7.5,2l-4.5,2.5l-2,0l-8-2.5l-14-2l-28-3.5l-36-1l-20-1.5l-50-2l-18-0.5l-34,4l-18-0.5l-20,2.5l-10,2.5l-4,2l0,10l18,6.5l16,3.5l2,1.5l6.5,7.5l4,3.5l5.5,3l36,2.5l34-1.5l18-3.5l34,4.5l7.5,2.5l7.5,4l11,3l24,3l20,2.5l12-1l20-3l8.5-2l5.5-3l6-1.5l12,0.5l4,0.5l2,1.5l11.5,11.5l1.5,1l10,3.5l13,2l68,1.5l12-1.5l22-5l34-5.5l36-3l6,2.5l3.5,2.5l4.5,3.5l4,2.5l18,0l26,7l8,1.5l16,1.5l18,6.5l36-4.5l12,3.5l4,2l2.5,2l1.5,1l14,5l5.5-1.5l5.5-3.5l7-2.5l5.5,2.5l1.5,4.5l3.5,4.5l9,5l-7,4.5l-2,2l-2,3.5l0,4l1,3.5l5,4l3.5,1.5l34-2.5l17.5,1.5l0,39.5l-957.5,0zM288,699.5l-1.5,0.5l3.5,2l7-2l-7-1zM336,738.5l-7,2.5l-1,2.5l-2,0.5l16,0.5l8.5-3.5l-8.5-3.5zM986,825l-4,3l-3.5,4l7.5,6l5.5-6l-2.5-4zM614.5,704.5l29.5-0.5l4.5,0.5l2.5,1l-5,2l-8,1l-25-3zM890.5,709.5l7.5-0.5l4,0.5l4.5,3.5l3,4l1.5,3.5l-3.5,7.5l-2.5,2l-7,4l-10,2.5l-8,3.5l-34,1l-8-2.5l-10-2.5l-14-2l-18-1.5l-10.5-2.5l12.5-1.5l6-2.5l2-3.5l0.5-4l2.5-7.5l3-1l34,2l34-1.5zM1141,717l1-0.5l6,4l6,1.5l6,0.5l17.5,0l0,33.5l-2-1l-3.5-1l-12,0l-2.5-1.5l-3.5-0.5l-12-0.5l-10,3l-3,1.5l-5,4.5l-24,4l-10,1.5l-48,1l-20,2l-8-1.5l-10-1l-18,2l-28.5-1l-23.5-1.5l-2.5-1.5l0.5-10.5l2-4.5l8-3.5l8-6l2-0.5l34,2.5l18-1l16,2l42-3l12-1.5l8-2.5l8.5-4l5.5-1l5.5-2l6.5-4.5l10-1.5l7-2.5l11-1.5zM773.5,766.5l20.5-1l2.5,1l0,1l-2.5,1l-18,0.5l-12,0l-3-1.5z"/>
<path fill="#0018ff" d="M220,678.5l333,0l0,1l-8,8.5l1.5,4.5l1.5,3.5l2,2l4.5,2l-6.5,4.5l-5,1l-27,3l-34,2l-36-2l-24-0.5l-28-2.5l-18,0.5l-20.5,3.5l-3.5,2.5l-3.5,1l7,4l2.5,1l32,2.5l4,0.5l18-4.5l16-0.5l78,1.5l62,3l18-1.5l18-2l52,0.5l34,2l4-1l3-1.5l3-5l1.5-1l2.5-0.5l38,1l34,1.5l2,4l1,3.5l-1,1.5l-2,1.5l-14,2l-15.5,3.5l-4.5,0.5l-36,0l-40,5l-12,3l-24-4l-26-3l-122-4l-36,4l-18-0.5l-13.5,1l-8.5,1.5l-8,2l-7,3l-1,3.5l1,6.5l3,1.5l18,6.5l16,3.5l2,1.5l6,7l6,4.5l4,2l36,2l34-1l18-3.5l34,4.5l7,2.5l5.5,3l11.5,3l30,4l16,2l14-1.5l20-2.5l8-1.5l6.5-3.5l4-1l8,1l8,2.5l3,2l7,7.5l5.5,3l8,2l12,2l70,1.5l14-2l20-4.5l34-5l36-3.5l8.5,4.5l4.5,4l5,2.5l18,0.5l24,7l10,1.5l16,1l18,7l36-5l10,3l4,2l2.5,2l3.5,2l14,5l6-1.5l6.5-4.5l5.5-1.5l4,2l0.5,1l1,3l3,4.5l3.5,2.5l6,2.5l-4.5,2.5l-3,2l-3,5.5l0,4l1,3.5l2,2l3.5,3l4,1l34-2l17.5,1.5l0,38.5l-957.5,0zM288,698.5l-3.5,1.5l5.5,3.5l6-1.5l5.5-2l-11.5-2zM340,736.5l-9.5,1l-4.5,1.5l-2,2l-1.5,3l1.5,1.5l2,0.5l16,0l10-4l2.5-1l-2.5-1.5l-9-3zM986,823.5l-5.5,3.5l-4,5l9.5,7.5l4-3.5l3-4l-2.5-5zM897,709.5l3,0.5l4,3l5,6.5l0,1l-3,6.5l-3,3l-3,2l-10,2.5l-10,3.5l-34,1l-8-2.5l-10-2l-32-3.5l-5-1l11-1.5l4-2.5l1.5-2.5l0-5l2-4.5l1.5-3l1-0.5l18,1.5l18,0.5l34-1zM1135,721.5l7-1l4,1.5l8,2l14.5,3l4.5,4l4.5,3l0,12.5l-35.5,2.5l-6,2.5l-6,2l-7.5,4.5l-23,5.5l-9.5,1.5l-36,0.5l-32,1l-18-1.5l-18,3l-34-1.5l-18-1.5l-1-0.5l0-9.5l1-3l3-2.5l8.5-4.5l4.5-4l2-0.5l34,3l18-1l18,2.5l14.5-2l29.5-2.5l11-2l7-1.5l11.5-5l6.5-1.5l6-3.5l18-5zM791,766.5l3.5,0l-0.5,1l-1.5,0l-14.5,0.5l-7-0.5z"/>
<path fill="#0028ff" d="M220,678.5l329,0l0,1l-7,8.5l-0.5,7.5l-1,4.5l-10,4.5l-4,1l-10.5,1.5l-36,2l-34-2l-18,0.5l-30-2.5l-22-0.5l-22,4.5l-12,3.5l-12,0.5l12,1l8,3l6,2l14,1l24,1.5l18-4.5l16-0.5l74,1.5l66,3l36-2.5l50,0.5l36,1.5l8-1.5l2-1l4-5l4-1.5l34,1.5l23.5,3l10.5,2.5l0.5,2l-0.5,0.5l-20.5,1.5l-7.5,1.5l-6,1.5l-34,1l-5,1.5l-29,3.5l-18,3l-54-5.5l-120-3l-36,4l-18-0.5l-14,1l-8,1.5l-10,2l-8,3.5l-1.5,3.5l1.5,6.5l6,3.5l16,5.5l18,4.5l8,8l4.5,3l5.5,3l14,1.5l22,0.5l34-1l18-3.5l34,4.5l4,1.5l6,3.5l12,3l30,4l18,1.5l14-0.5l20-2l10-2.5l8-3.5l16,4.5l2,1l7,7l5,2.5l10,2.5l12,1.5l34,0.5l36,1l14-1.5l20-4.5l34-5.5l36-3.5l7,4l5,4.5l6,3l18,0.5l9.5,2.5l6.5,2.5l6,1.5l30,3.5l6,2.5l4,2.5l6,1.5l36-5l10,3l4.5,3l6.5,3.5l13,4l8-2l6-4.5l4-1l2.5,1l1,1.5l1,4l3,4.5l3,2l5,2l-3.5,2l-2,1.5l-2,2.5l-1.5,4l0,4l1,3.5l2.5,3l3.5,2.5l4.5,1.5l34-1.5l17.5,1l0,37.5l-191,0l0-52.5l5-4.5l3-4.5l-2.5-6l-5-4.5l-1-2.5l-1.5,2.5l-6.5,5l-3.5,5.5l10.5,9l0,52.5l-765,0zM290,697.5l-7,2.5l4,3l3,1.5l10-2l6-2.5zM322,706.5l2,3.5l1.5-1.5l0.5-2l-2-0.5zM338,735.5l-14,2l-3.5,6.5l0.5,1l3,2.5l18,0l16.5-6.5l-6.5-3.5l-6-1.5l-4-1zM888,712l10-1l2,0.5l5,4.5l2.5,4.5l-3.5,6.5l-3,3l-3,1.5l-8,1.5l-8,3l-34,0.5l-20-3.5l-29.5-3l6-1l3-2l1.5-3.5l0-5l3-6.5l34,2l34-1zM1123.5,724.5l18.5,0l10.5,2.5l8.5,9.5l5.5,4.5l-6.5,1l-8,3l-10,1.5l-24,10.5l-28,6.5l-68,0.5l-18-1l-18,4l-34-1.5l-14-1l-1.5-2l-1-4.5l-0.5-3l0.5-1l5-4.5l5.5-3.5l4-3l2-1l34,3.5l18-2l8.5,1.5l7.5,2.5l2,0l16-2.5l42-6l14-4.5l10-3.5l4-2z"/>
<path fill="#0038ff" d="M220,678.5l325.5,0l0,1l-6,7.5l-2.5,6.5l-2.5,3.5l-9.5,5l-5,2.5l-4,0.5l-36,2.5l-34-2l-18,1l-22-2l-30-1l-24,4.5l-10,3l-8-1.5l-2-1l-2-2l-6-2l-6.5,1l-2.5,1l3.5,3l5.5,7.5l2,0l16-1l8,3l10,2l34,1.5l18-5l18-0.5l72,1.5l66,3.5l36-2l36,0l54,1.5l8,0l1-1l1.5-4.5l3.5-2l34,2l3.5,1l-3.5,1.5l-14,2l-22,2l-1.5,1l-2.5,1l-8.5,2.5l-37.5,4l-18-0.5l-36-3l-34-1l-52,0l-34-1l-36,4.5l-22-0.5l-12,0.5l-10,1.5l-12,3.5l-5,2.5l-2.5,3.5l2,6.5l3.5,2.5l4,2l18,6.5l18,4l10.5,9.5l7.5,5l34,1l36-1.5l18-3.5l20,3.5l14,1.5l8,4l12,3.5l32,4l18,1.5l34-2l10-2l8-2.5l16,5l2,1l4,4l7,3.5l9,2l14,2l72,1l14-1.5l18-4.5l34-5l36-3.5l6,3l2.5,3l3.5,3l6,2.5l18,0.5l6,1.5l6,3l6,1.5l17.5,2l0.5,1l2,0.5l14,0.5l3.5,1.5l4.5,3l8,2l36-5.5l9.5,3.5l2.5,2l8,4l14,4.5l6-1l4-1.5l2.5-1.5l3.5-3.5l2-0.5l2,2l1,4l2.5,4.5l2.5,2l4,2l-2,1.5l-2,2l-2,3l-0.5,3.5l1,7.5l2.5,3l3,2.5l6,2l34-1l17.5,1l0,36.5l-188.5,0l0-52.5l4-4.5l3-4.5l-1.5-6l-3.5-4.5l-1-5.5l-3-5.5l-1,0l-4,4.5l-2,3l0,3.5l-5,5.5l-2,5l10,9l0,52.5l-763,0zM288,697.5l-7,2.5l5,4l4,2l8-1l6-1.5l4-1.5l2-2l-20-3zM338,734l-12,1.5l-2,0.5l-1.5,1.5l-4,6.5l0,1l1,1l4.5,3.5l18-0.5l18-7l5-1l-17-6.5l-6-1zM894.5,713l3.5-0.5l2,1l4,3.5l2,3.5l-2,3.5l-3,4l-2.5,2l-10.5,1.5l-6,2l-34,0.5l-14-2.5l-24.5-1.5l1-3l0-8.5l1.5-3.5l36,1l32-1zM1123.5,727l2.5-0.5l4.5,0.5l11.5,10.5l2.5,3.5l0.5,2l-9,2l-3,2.5l-17,7.5l-26,7l-36,0.5l-50-1.5l-18,4l-34-0.5l-3,0l-5-2l-3-2.5l-2.5-4l1-2l4-4.5l6.5-5l2-0.5l34,3.5l18-2.5l9.5,2.5l6.5,2.5l2,0l61-10l13-3.5l12-5.5l8-0.5l4-1l2-1z"/>
<path fill="#0048ff" d="M220,678.5l322,0l0,1l-5,6.5l-3,5.5l-4,3l-6,3.5l-8,4l-14,2.5l-22,1.5l-34-3l-7,1.5l-11,1l-16-1.5l-18-0.5l-18-1l-24,4.5l-10,2.5l-4-1l-4-2l-8-2.5l-9-2l-3-2l-24-4l-6,2l-5,2l3.5,3l5.5,3.5l2,0.5l16-1l2,0.5l4,2.5l4.5,4l2,1l3.5,3l2,1l18,0.5l6,1.5l8,1.5l16,1l22,0.5l18-4.5l18-1l30,0.5l40,1l16,1l18,1.5l34,1.5l36-1.5l34-0.5l52,2l6.5,0.5l-6.5,2l-38,3l-14,0l-34-2.5l-36-1l-52,1l-34-0.5l-36,4l-18-0.5l-16,0.5l-10,1.5l-10,2.5l-6.5,2l-3.5,2l-3.5,3.5l3,6.5l4.5,3.5l6,3l20,7l16,3.5l9.5,8.5l8.5,5.5l36,1.5l13.5-1.5l24.5-1.5l5-0.5l9-2.5l14,3l20,2.5l8,3.5l10,2.5l46,5.5l10,0.5l26-1l14-2l8-2l14.5,5l7.5,5l6,2.5l10,2l14,1.5l34,0l20,1.5l22-0.5l14-1.5l6-1.5l8-2.5l34-5.5l36-3.5l4.5,2.5l5.5,6l6,3l2,0.5l16.5,0l3.5,1l3,2.5l5,2l14,2l-1.5,9.5l0.5,3.5l-2.5,5.5l-1.5,5l10,9l0,52.5l-761,0zM342,732l-18,3l-3,2.5l-4.5,6.5l-0.5,1l3,3.5l5,2.5l18-0.5l16-6l10-2l5-1.5l-19-6.5zM893,715l5-0.5l1.5,0.5l3.5,3.5l1,2l-4,6.5l-2,1l-18,1l-34-2l-26-4.5l-8-2l0-1l0-1.5l34,0.5l34-1.5zM707.5,717l2.5,0zM1106.5,734.5l1.5-1l4,0.5l2,0.5l4,2l4,3l2.5,3.5l1.5,4.5l-8,4.5l-10,3.5l-18,4.5l-34,1l-20-1.5l-6-1.5l-0.5-1l0-5.5l1-1l37.5-6l22-5l8-1l5.5-2zM951,746l1,0l34,3.5l6-1l4-1l8-1l4,1l3.5,3l0.5,1l0,5.5l-1.5,1l-8.5,1.5l-16,4l-34-1l-5.5-2.5l-4-4l1-2l3.5-4.5zM996,812l8-0.5l1,0.5l3,3l2,1l10,2l23.5-4l12.5-1.5l7.5,2.5l2.5,2l8,4l14,5l2,1.5l12-3.5l2-1.5l2-3l2-1l1,1l0.5,4l2,4.5l2,2l3,2l-2.5,3l-1.5,5l0,5l1,4.5l2.5,3.5l4,3l6,2l16,1l18-0.5l17.5,1l0,34l-186.5,0l0-52.5l4-4.5l2.5-4.5l-0.5-6l-1.5-4.5z"/>
<path fill="#0058ff" d="M220,678.5l318.5,0l-1,2l-3.5,5.5l-2,2l-7.5,5.5l-8.5,4.5l-34,6l-36-3.5l-18,3l-16-1.5l-18,0l-16-1l-36,7l-23.5-8l-6.5-1.5l-22-3l-5,1.5l-8,3l5,4.5l6,3.5l2,0.5l16,0.5l2,1l4,3l4,1.5l4,2.5l4,2l14,1l20,3l18,1l18,0l18-5l16-1l18,0l66,2.5l22,2l29.5,1l-47.5,2l-34-0.5l-36,4l-18-0.5l-16,0.5l-12,1.5l-12,2.5l-6,2.5l-6,4l-20-6.5l-14-2.5l-18,4l-4.5,3l-6,7.5l2.5,3.5l4,3l4,1.5l18-1l18-6l10-1l6-1l5.5,6.5l4.5,3.5l25,8.5l17,3.5l12,11l6,3.5l36,2l24-2l20-3l8-1.5l6,1.5l8,1.5l20,2l8,3.5l10,2l42,5l10,0.5l18,0l22-1.5l12-2l8,3l14,7l4,1.5l10,2l16,1.5l34,0l14,1l20,0l14-0.5l12-2l6-1.5l4.5-1.5l33.5-6l36-3.5l3.5,2l2.5,3.5l2.5,3l5.5,2.5l4,2l16,0l6,4l8,2l1.5,2l3,7.5l2,3.5l0.5,1l-1.5,4.5l-0.5,5l10,9l0,1l0,51.5l-759,0zM898,716l2,1l2.5,3.5l-2.5,4l-2,1.5l-9.5-1.5l-8.5-2l-21-2l23-1.5zM617.5,722.5l20.5-0.5l41,1.5l-41,3l-34-2l-25-1zM1102,741l6-0.5l4.5,2.5l4.5,4.5l-2,3l-2,1l-15,4.5l-8,2l-34,1.5l-12-1l-4-1.5l0-5.5l1.5-1l32.5-4.5l8-2l8-2.5zM951,749.5l1-1l12,1.5l32,2l4,1.5l1.5,3.5l-1,1l-14.5,3.5l-34-1.5l-2-1l-4-3zM1048.5,814l7.5-1l5.5,2l2.5,2l6,3.5l15,5.5l5,4.5l4-0.5l5.5-2l8.5-5.5l2,6.5l2.5,3l-1,3.5l-0.5,6.5l1.5,7.5l3.5,5l6,3l14,2l6,2l18,0l17.5,1l0,31l-184.5,0l0-52.5l3.5-4.5l2.5-4.5l0.5-10.5l2.5-6.5l2,0l2,2l2,0.5l12,2z"/>
<path fill="#0068ff" d="M220,678.5l314.5,0l-0.5,2l-2,2l-6,4l-7,6l-3,2l-34,6l-36-2.5l-18,3.5l-16-1.5l-34,0l-36,6.5l-20-6.5l-10-2.5l-22-3l-7.5,2.5l-7,3l5.5,5.5l7,3.5l2,1l10,1l6,1.5l8,2.5l10,5l10,1l14,3l12,0.5l16,0.5l18-0.5l18-5l16-1l18,0l68,2.5l20,2.5l8,0l-26,2l-34-1l-36,4.5l-18-1l-18,0l-10,1.5l-12,2l-6,2l-6,3.5l-18-6l-16-1.5l-18,4l-6,4l-2.5,3.5l-4.5,4l3,5.5l4,2.5l6,2l8-0.5l10-1l18-5.5l14,1l2,0.5l4.5,4.5l5,2l8.5,2l22,8l12,2l4,3l6,6.5l4,3l4,1.5l8,1l12,1.5l16,1l32-2l20-3.5l14,1.5l20,1l6.5,2.5l9.5,2l46,5l26,1.5l20-1.5l14-1l10,4.5l13.5,5.5l28.5,5l70-1l18-1l10-1l15-4l11-2l9-2.5l41-4l2.5,1l2.5,4l3,3.5l6,3l4,3l14,2l6,2.5l4.5,3.5l4,5l3.5,3.5l1,1l0,9.5l9.5,9l0.5,1l0,51.5l-757,0zM896,718.5l2-0.5l2,1l1,1.5l-3,3l-6-1.5l-5-1.5zM623,723.5l15-0.5l7,0.5l-7,1zM1086,746l4-0.5l2,0l14,2l2,0.5l1.5,2.5l-2.5,1l-17,4.5l-34,2l-5-1l0-5.5l1.5-1l21.5-2.5zM950.5,755l1.5-1l34,0l4,1l4,2l-0.5,1l-7.5,2l-2,0l-32-3l-2.5-1zM1054,814l2,0l3,1l9,5.5l14,5.5l8,7l9.5-1l6.5-2l2,0l1.5,3.5l1,11.5l1,5.5l3,4.5l5.5,3l12,2.5l10,3.5l18,0l17.5,1.5l0,28l-182,0l0-52.5l4.5-7.5l1.5-6.5l2.5-4.5l16,1l7-4l20-4.5z"/>
<path fill="#0078ff" d="M220,678.5l307,0l0,1l-6.5,4.5l-4.5,4l-8,2.5l-4.5,2l-21.5,4l-36-1l-18,4l-16-1.5l-34,0l-6.5,2l-9.5,2l-20,3l-23.5-7l-28.5-4l-10,3l-6.5,3l2.5,3l4,3.5l8,4l11.5,2.5l8.5,1l4,1.5l12,5.5l12,2l6,2.5l34,0.5l18-1l18-5l34-1.5l68,3.5l16,1.5l-14,1.5l-34-1l-36,4.5l-18-1l-18,0l-22,3l-6,1.5l-6,2l-16-5l-18-1l-18,4.5l-6,4l-5,5.5l-4.5,3l1.5,5.5l2,3.5l4,1.5l6,1l20,0l5-2.5l13-4.5l10,2l12,6l13,2.5l17,8l16,1.5l2,1.5l2,3l3.5,4.5l2.5,2l4,2.5l0.5,1l0,109.5l-222.5,0zM896.5,720.5l1.5-0.5l0.5,0.5l-0.5,0.5zM1086,749.5l4-0.5l7.5,1.5l0,1l-1,1l-6.5,2l-12-1l-8.5-1l1.5-1l1,0zM982,757l4-0.5l0.5,0.5l0,1l-3.5,0zM528,785l6-1l34,0l8,2.5l16,2.5l28,2.5l27,2l9,1.5l34-1l8,4l12,4l32,6l34-1l18,0l18-0.5l26-2l18-3.5l23.5-6.5l24.5-2l12-1.5l1.5,1.5l1.5,3l2.5,3.5l5,3l5.5,5l2,1l10,2.5l6,2.5l3,2l3.5,3l5,3.5l2,3l1.5,7.5l9.5,9l0.5,2l0,50.5l-481,0l0-101l0.5-1l6.5-2.5l15-1.5zM1052,815l5,0l9,5.5l12.5,5.5l11.5,10l16-0.5l2,1l2,12l1,3l3,4.5l3.5,2l16.5,5l8,4l18,0l17.5,2l0,24.5l-180,0l0-52.5l2.5-4l4-8.5l16-0.5l7-5.5l6.5-3z"/>
<path fill="#0087ff" d="M220,678.5l262,0l0,1l-2,13l-34,0.5l-10,2.5l-8,1.5l-16-1.5l-34,0l-2,0.5l-10,4l-24,3.5l-22-6.5l-30-3.5l-10,2.5l-8.5,4l5.5,6.5l3,2l6,3l6,1.5l16,2l16,7l10,2l6.5,3l-16.5,4.5l-7.5,5l-6.5,6.5l-2,1l-3.5,1l-1,4.5l0,144l-83.5,0zM436,719.5l10-0.5l20,1l50,2.5l8.5,1l-8.5,1l-34-0.5l-36,4l-18-1l-18,0l-20,1.5l-14,3l-8-2.5l0-1l30-2.5l2-0.5l1.5-1.5l10.5-2.5zM359.5,751.5l8.5,2.5l5,3l5,2l16,3.5l18,9l16,1l8.5,10.5l0,110.5l-108.5,0l0-130l2-2l2-0.5l11-2l5-2l4.5-3zM557,786l11-0.5l18,4l53,4l17,3l32,1.5l18,6l16,3l22,3.5l0,83l-56,0l0-77.5l-32,0l-2-1l0-3l-16,0l-2-1.5l0-2l-32,0l-2-1l0-4.5l-32,0l-2-1l0-2l-34,0l-2-1l0-6.5l1.5-4.5l8.5-1zM915,792.5l1-0.5l2,5l2,2.5l7.5,7l4.5,3l12,4.5l14.5,8.5l3,4.5l1.5,5l9.5,9l0.5,2l0,50.5l-163,0l0-83l1.5-2l34.5-3.5l8-1l14-3.5l14-5l6-1l22-1zM1052.5,816l3.5-0.5l8,5.5l11.5,5l14.5,13l16,1.5l2,2l1.5,7l1.5,4l2.5,3.5l2.5,1.5l18,7l8,4l18,0.5l17.5,2l0,21.5l-178,0l0-52.5l4.5-8l16-0.5l7.5-6.5l6.5-4.5l5.5-2z"/>
<path fill="#0097ff" d="M220,678.5l239.5,0l0,1l-5.5,3l-8,2.5l-8.5,7.5l-7.5,2l-20-1l-32,0l-2,0.5l-15,6l-19,2l-18-5.5l-34-4l-10,2.5l-11.5,5l7.5,8l8,4.5l6,1.5l18,2l16,7l8,2l5,2l-13,3.5l-9,6l-7,6.5l-10.5,2l-5,4.5l0,144l-72.5,0zM425,720.5l23-1l71,4l-37,0l-36,4l-40-2l-2-1l-0.5-1l4.5-1l4-1zM391,727l6.5,0zM376,729l1,0zM357.5,754l3.5,0l7,5l8,3.5l18,3.5l16,8.5l18,3.5l2,1.5l0.5,4.5l0,109.5l-91.5,0l0-130l11-3.5l4.5-3zM555,788l13-1l4.5,1l1.5,2l4,0.5l24,0.5l28.5,2.5l25.5,5l16,1l10,1l20,6l6,0.5l18,4l4,3l1,1l0.5,1l0,77.5l-36,0l0-77.5l-1.5-4l-2-2l-2-1l-34-0.5l-32-3l-12-2.5l-28-2.5l-9.5-2.5l-3.5-2.5l-1.5-2l-1.5-1l-8-2zM891,795.5l9-1l10,1l6,1.5l1.5,3l4,4.5l7,6l3.5,2.5l20,8l4,2.5l3,3.5l2.5,5l9,9l0.5,2l0,50.5l-148.5,0l0.5-78.5l5-4l5.5-2.5l18.5-2l14-2.5l10-2.5zM1050,818l4-0.5l2,0l6.5,4l10,4.5l10.5,9.5l7,8l16,2.5l2,2l1.5,5.5l1.5,3.5l3,2l5.5,3.5l10.5,3l4.5,2l2.5,2.5l4,1l19,1l17.5,2.5l0,19l-175.5,0l0-53l2-2.5l16-2l13.5-11.5l8.5-4z"/>
<path fill="#00a7ff" d="M220,678.5l221,0l0,1l-6.5,5.5l-4.5,5l-2,1.5l-6-2.5l-10-2l-18,0l-6,3l-12,1.5l-16,7l-18,2l-18-5l-34-3.5l-12,2.5l-12.5,5.5l4,5.5l7,5.5l4,2l9.5,2.5l18,1.5l16,7l9.5,3l-9.5,2.5l-9,6l-7,6l-2,1l-8,0.5l-5.5,1l-2.5,1.5l-4.5,4l0,144l-65.5,0zM433,720.5l15-0.5l46,2.5l-14,0.5l-34,4.5l-34-2l-4-1l-2-0.5l6-2zM360,760l4,2.5l6,2.5l24,5l6,3l3.5,3.5l0,117l-54,0l0-127l3-3l5.5-3zM587.5,792.5l14.5-0.5l20,1.5l8,1l24,5l13.5,1.5l4.5,1l-4,2.5l-6,0.5l-8,0.5l-18-0.5l-16-2.5l-26-2.5l-10-2l-6-2l-1-1.5l3-1zM898,799l2,0l16,3l7.5,8.5l4.5,3.5l24,9.5l4,3.5l3.5,5l9,9l0.5,2l0,50.5l-135.5,0l0-77.5l0.5-1l6-3l6-1.5l28-5l16-3.5zM706,810.5l2,0l6,1.5l6,3l0.5,1l0,77.5l-19.5,0l0-77.5l0-1l1.5-2zM1052,819.5l4-0.5l6,3.5l7.5,3.5l10,9.5l5.5,8.5l3,3l2,1.5l10,2l6,1.5l2,2.5l2,4.5l2.5,2l3.5,2.5l12,3l2.5,1l1.5,2.5l4,1.5l24,2.5l17.5,3.5l0,16l-170,0l0-49.5l2.5-2l2-1l8-1.5l2-1l11.5-10.5l4.5-3.5l6-2.5z"/>
<path fill="#00b7ff" d="M220,678.5l157,0l-0.5,10.5l-12.5,6l-9,3l-13,1.5l-18-4.5l-34-4l-12,2.5l-12,4.5l-3.5,2l1.5,3l2.5,3.5l8.5,6.5l3,1.5l6,1.5l6,1l18,0.5l16,7.5l6,2l-6,1.5l-10.5,7l-5.5,5l-2,0.5l-17,0l-7,5l-1.5,3.5l0,144l-60.5,0zM256,728.5l-2,0.5l-0.5,1l0.5,1l2,1l2.5-2zM440.5,720.5l13.5,0l29.5,2l-37.5,4.5l-34-2.5l-4-1l5-1zM589.5,793.5l12.5-1l20,2l8,2l8,1l8,1.5l10,3l-18,1l-39-4l-9-1.5l-6-2l-0.5-1zM889,807.5l11-0.5l16,0.5l4,5.5l4.5,3l27.5,9.5l3.5,3.5l2,3l9,9l0.5,2l0,50.5l-122.5,0l0-77.5l0.5-1l19-3.5l16-3.5zM707,815l1-0.5l1,0.5l0.5,1l0,77.5l-3,0l0-77.5zM1050.5,821.5l3.5-1l2,0l10,5.5l10.5,9.5l3.5,9.5l2,3.5l6,4l6,2.5l1,2l3,2l10,3l2,3l2,1.5l14,1l0,2.5l1,2l3,1l15.5,1l4.5,1.5l10,0.5l2,0.5l2,2l2,0.5l11.5,1l0,13.5l-159,0l0-49.5l3.5-1.5l2.5-1.5l4.5-5.5l11.5-9.5z"/>
<path fill="#00c7ff" d="M220,678.5l153.5,0l-1,10.5l-12.5,6l-8,2l-10,1.5l-18-4.5l-34-3.5l-10,1.5l-14,4l-4,2l-2,2l1,5.5l2,3l5,4l6,3l5.5,1.5l6.5,1l20,0l2,0.5l18,8.5l-2,0.5l-12,8l-4,3.5l-2,1l-16-1l-4,0.5l-4,1.5l-6.5,5l-0.5,3.5l0,144l-55,0zM254,725.5l-2.5,4.5l2.5,4l2,1l4-2l3-3l-5-4l-2-1zM431.5,721.5l14.5-1l31,2l-31,4l-35.5-3zM600,793.5l4,0l10,1l4.5,1l-1.5,1.5l-3,0.5l-12,0.5l-11.5-2.5l0-1zM625.5,800l10.5-1l7,1l-5,1.5zM880,814l2-0.5l16,1l18,1.5l2.5,2l3.5,1.5l12,2.5l16,5l2,1l12.5,13l1,2l0,50.5l-101.5,0l0-74l1-1.5l5-2zM1052.5,822.5l3.5-0.5l7,4l10.5,9.5l0.5,4.5l-0.5,7.5l2.5,3l5.5,4.5l0,38.5l-52,0l0-45l-2-4.5l3-3l2.5-5.5l6.5-5.5l5-4z"/>
<path fill="#00d7ff" d="M220,678.5l150.5,0l-2,10.5l-10.5,5l-11.5,3l-4.5,0.5l-18-4.5l-34-3l-8,1l-10,2.5l-8.5,1l-3.5,1.5l-2.5,3l-0.5,1l0,6.5l1,4.5l2,3.5l3.5,2.5l6.5,1.5l8,1l12,0.5l16-1l4,1.5l13.5,6.5l-15.5,11l-2,0.5l-16-1l-8,1l-6,2l-4,3l-5.5,2.5l0,147.5l-46.5,0zM254,722l-2.5,1.5l-1.5,6.5l4,7.5l2,1l4-1l3.5-2l2-2l2-3.5l-3-4l-4.5-3.5l-4-1zM436.5,721.5l9.5-0.5l25.5,1.5l-3.5,1l-22,3l-31.5-3zM597.5,794.5l6.5-0.5l4.5,0.5l2,1l-8.5,1l-5-1zM925.5,824.5l8.5,0l16,4.5l2,1l11,12l0.5,1l0,50.5l-46.5,0l0-61.5l1-3l1-2l3-1.5zM1051.5,824.5l4.5-1l4,2.5l10,9.5l-0.5,5.5l-3,6.5l0,1l4,6.5l0,38.5l-30.5,0l0-45l-4.5-4.5l1.5-8.5l12-9.5z"/>
<path fill="#00e7ff" d="M220,678.5l147.5,0l-0.5,4.5l-2.5,6l-10.5,4.5l-12,3l-18-4l-32-3.5l-2-0.5l-18,3.5l-12,0.5l-4,1l-1.5,5.5l-1,16l-1,4.5l-0.5,1l-6,3l1.5,2.5l1,4l3.5,5.5l1,4.5l3,3l0,150.5l-36,0zM299,720.5l7-0.5l2,0.5l13.5,6.5l-2,2l-11.5,7.5l-2,1l-18-2l-12,0.5l-4,1.5l-0.5-1l0.5-6.5l-0.5-6.5l6.5-1.5zM442,721.5l6,0l18.5,1l-1,1l-19.5,2.5l-26.5-2.5zM1053.5,826l2.5-0.5l1,0.5l10,9.5l-1,3l-1.5,3.5l-6,6.5l1.5,6.5l0,38.5l-9,0l0-45l-1-1l-6-3.5l-1.5-3l-1.5-5.5zM929.5,828l4.5-1l16,4l2,1.5l9,9.5l0.5,1l0,50.5l-39,0l0-61.5l3.5-2.5z"/>
<path fill="#00f7ff" d="M220,678.5l145,0l-1,4.5l-3.5,6l-6.5,3.5l-12,3l-18-4l-21-2.5l-13-3.5l-4,1.5l-5,2l-9,2l-16-1l-2,0.5l-2,2l0.5,10.5l-2,13l-2.5,4.5l-7,3l3.5,2.5l2,4l4,5.5l0.5,4.5l1.5,3l0,150.5l-32.5,0zM299,721.5l7-0.5l2,0.5l11.5,5.5l-1.5,2l-10,6.5l-2,0.5l-21.5-2.5l-4.5-1.5l-3-2l2.5-4l2.5-2.5zM434.5,722.5l11.5-1l15,1l1.5,1l-16.5,2l-21-2zM1053.5,829l2.5-1l7.5,7.5l-2.5,5.5l-5,4l-3.5-1l-3-2l-3-3.5l-1.5-3zM932.5,830l1.5-0.5l16,4l2,1l6,6.5l1.5,2l0,50.5l-31.5,0l0-61.5z"/>
<path fill="#08fff7" d="M220,678.5l142,0l-0.5,2l-4,8.5l-5.5,3l-10,2l-18-3l-12.5-2l-5.5-2l-16-4.5l-8,2.5l-7.5,4l-2.5,0.5l-4.5-0.5l-11.5-2.5l-2,0.5l-3.5,2l-2.5,3.5l2.5,10.5l-2,12l-3.5,4.5l-8,4l5.5,3.5l6.5,8.5l0,5.5l0.5,2l0,150.5l-29.5,0zM299,722.5l7-0.5l2,0l10,5l-1.5,2l-8.5,5.5l-2,0.5l-12.5-1.5l-11-3.5l3.5-3l6-3.5zM439,722.5l9-0.5l8,0.5l3.5,1l-13.5,2l-16-2zM1055.5,831l5,4.5l-4.5,5.5l-2-0.5l-1-0.5l-4-4.5l5-4zM934,836.5l0-1l16,0l2,1l4,4.5l1.5,2l0,50.5l-24,0z"/>
<path fill="#18ffe7" d="M220,678.5l70,0l0,1l-10,2.5l-8,3l-16-2l-3.5,1l-3.5,2l-3,3l-1.5,3.5l2.5,5.5l1.5,5l-2.5,12l-3,3.5l-5,2.5l-3,2.5l6,4.5l6.5,7.5l-1.5,5.5l1,2l0,150.5l-27,0zM290,678.5l69,0l0,1l-2,7.5l-1.5,2l-5.5,2.5l-8,1.5l-28-4.5l-6-3.5l-18-5.5zM443,722.5l7.5,0l6.5,1l-11,1.5l-12.5-1.5zM299,723.5l7-0.5l2,0l8,4l0,1l-0.5,1l-5.5,3.5l-2,1l-2,0.5l-11.5-2l-6.5-2l5-4zM1055,834.5l1-0.5l1.5,1.5l-1.5,1.5l-2-0.5l-1-1zM946,838.5l4-0.5l2,1l3.5,4l0,50.5l-16.5,0l0-50.5l2-2z"/>
<path fill="#28ffd7" d="M220,678.5l32.5,0l0,1l-4.5,1.5l-3.5,2l-2.5,3l-1.5,6.5l4,5.5l2.5,5l-3.5,12l-10.5,8.5l7,5.5l6,6.5l-2.5,5.5l0.5,2l0,150.5l-24,0zM301,678.5l54.5,0l0,7.5l0,1l-1,1l-2.5,1.5l-8,2.5l-4,0l-22-4l-5-4l-3-1.5l-9-3zM436.5,723.5l9.5-1l8,1l-8,1zM300,724.5l6-1l2,0.5l6,3l0.5,1l-0.5,1l-6,4l-2,0.5l-6-1.5l-7.5-2l0-1l1.5-1.5zM948,841l2-1l2,1l1.5,2l0,50.5l-9,0l0-50.5l1-1z"/>
<path fill="#38ffc7" d="M220,678.5l14.5,0l2.5,14l5,5l3,5.5l-4,12l-9.5,8.5l8.5,7l4.5,5l-1.5,3l-2,2.5l0.5,152.5l-21.5,0zM315,678.5l37,0l1.5,5.5l0,3l-3.5,2.5l-8,2l-19-3.5l-1-1l-2-4l-2-2l-3-1.5zM440,723.5l6-0.5l5.5,0.5l-5.5,0.5zM305.5,724.5l2.5,0.5l4,2l1,1l-0.5,1l-4.5,3l-2,0.5l-6-1.5l-4-1l-1-1l1-1l2-1zM950,843l0,50.5z"/>
<path fill="#48ffb7" d="M220,678.5l7.5,0l4.5,14l7,4.5l4.5,6l-5,12l-9,8.5l9.5,7.5l4,4.5l-2,3l-2.5,2.5l0,152.5l-18.5,0zM328,678.5l20,0l0,1l3,4.5l1,3l-3.5,2l-6.5,2l-15-3l-1.5-1l0.5-1zM443.5,723.5l5,0zM305,726l3,0l3.5,2l0,1l-3.5,2l-2,0.5l-2-0.5l-4-1l-2-1l0.5-1z"/>
<path fill="#58ffa7" d="M220,678.5l1,0l0,1l4,6.5l2.5,6.5l10.5,6l3.5,4.5l-5,12l-4.5,5.5l-4,3l10,8l3.5,4l-2.5,3l-3,2.5l0,152.5l-16,0zM336,678.5l8.5,0l0,1l4.5,4.5l1,3l-4,2l-4,1.5l-11.5-2.5l-2-1l0.5-2l1.5-2l5.5-3.5zM304.5,727l3.5-0.5l2,1.5l0,1l-2,1.5l-2,0l-4-1l-1-0.5l0.5-1z"/>
<path fill="#68ff97" d="M340,680.5l2-0.5l2.5,1.5l3,3.5l1,2l-6.5,2.5l-8-1.5l-3-1l0.5-1l2.5-2.5zM220,687l3,5.5l1.5,1l11.5,6l2,1.5l2,2l-5.5,12l-4,5.5l-4.5,3l14.5,12l-2.5,2.5l-4.5,3l0,152.5l-13.5,0zM304.5,728l1.5-0.5l2,0l0.5,1.5l-2.5,1l-2.5-1z"/>
<path fill="#78ff87" d="M339,683l3-1l4,3l1,2l-5,2l-8-2l0-1l1.5-1zM220,694.5l0-1l18,9.5l-2,3.5l-3,8.5l-4.5,5.5l-4.5,3l15,12l-8,5.5l0,152.5l-11,0z"/>
<path fill="#87ff78" d="M341,684l1-0.5l0.5,0.5l2.5,2l0,1l-3,1.5l-5.5-1.5l0.5-1zM220,697l8.5,4l5.5,2l-0.5,6.5l-2.5,5.5l-4,5.5l-4.5,3l14.5,12l-6.5,3l-2,2.5l0,152.5l-8.5,0z"/>
<path fill="#97ff68" d="M340,686l2-1l1.5,2l-1.5,0.5l-2.5-0.5zM220,700l9,3l1.5,2.5l1,4l-2.5,5.5l-3.5,5.5l-5,3l10.5,8.5l3,3.5l-7,3l-1.5,2.5l0,152.5l-5.5,0z"/>
<path fill="#a7ff58" d="M220,702l6,2.5l2,2l1.5,3l-2,5.5l-3.5,5.5l-4,2.5zM220,726l0-1l9,7l1,3.5l-6,3l-1,2.5l0,152.5l-3,0z"/>
<path fill="#b7ff48" d="M220,704.5l0-1l4,2l2,1.5l2,2.5l-5,10l-0.5,1l-2.5,1.5zM220,727l7,5l-0.5,3.5l-6,3l0,2.5l0,152.5l-0.5,0z"/>
<path fill="#c7ff38" d="M220,705.5l2.5,1l3.5,3l-4.5,10l-1.5,1.5zM220,729l0-1l5,4l-2,3.5l-3,1.5z"/>
<path fill="#d7ff28" d="M220,707.5l0-1l4,3l-4,10zM220,730l3,2l-3,3z"/>
<path fill="#e7ff18" d="M220,708.5l0-0.5l2,1.5l-2,6zM220,732l0-0.5l1,0.5l-1,1z"/>
<path fill="#f7ff08" d="M220,709.5l0.5,0l-0.5,2z"/><path d="M585.5,678.5l-0.5,4.5l-2,4l0,1l9,3l12,4.5l32,0l2,0l6-1.5l12-1l14,1l8,1.5l6,1.5l6,3l12,1.5l6,1.5l24,1l6,0.5l4,1l24,0l10,1l3-2l2.5-1.5l12.5-1l12,0.5l6,2l22,0.5l12,1l14-1l22-0.5l10-1l12,0l8,0.5l4,1.5l4,3l2.5,2.5l1.5,2l1,7.5l-1,7.5l-4,3l-4,2.5l-1.5,2l-2.5,2l-4,1.5l-9,2l-3,3l-3,2l-7,3l-6,1.5l-18,1.5l-16,0.5l-10-2l-13.5-3l-10.5-4.5l-24-3.5l-6-1.5l-4-2.5l-2,0l-12,2.5l-22,2l-34,0.5l-18-1l-10,5l-9.5,4l-14,4l-2.5,0.5l-8-2.5l-8-3l-20-3l-14.5-3.5l-35.5-1.5l-12-1.5l-11-1.5l-11-2.5l-14-1.5l-4-1.5l-22,0l-12-1l-2,0l-6,2.5l-8,1.5l-20,1.5l-18-1l-6,1l-10,1l-3,2l1,2l2,1.5l16,4.5l4,2l8,7.5l6,9l2,0.5l22,1.5l12,1.5l34-1l6-2l10-2l20,1.5l24,4l10,2.5l9.5,3.5l7,5.5l25.5,2.5l4,1l6,2l4-2l5.5-1l-1-8l7-5l2.5-1l34,1.5l3.5-3l4.5-1.5l14-2l12-1l18-0.5l14-2l38-2.5l6,1l6,2l8,4.5l3,2l1.5,2.5l-2.5,2l-4,2.5l-8,1.5l-22,1l-40,0.5l-3.5,4l-1.5,3.5l5,8.5l24,0.5l12,1.5l22,0.5l12,0.5l4-2.5l6-2.5l10-1.5l14-1l5-2l7-1.5l23-1.5l11-2l24-1l8,1.5l4.5,1.5l3,2l2.5,3.5l18,0l18,2.5l9.5,2.5l6.5,4.5l12,0.5l14,1.5l4.5,1l1.5,1l2,2.5l2,0.5l6.5-1.5l13.5-1l14-0.5l14,1.5l8,2l5,2l4,3.5l3,4l3.5-3l4.5-1.5l10-1.5l8,1.5l4,1.5l2,1.5l4,7.5l6,1.5l4.5,2.5l2,2l2,4l-1,6.5l-1.5,2l-4,1l-8,0.5l-1.5,3l0,1l1.5,2.5l4-1.5l4-1l12-1.5l22-0.5l6,0.5l3.5,1M394,711.5l-5.5,1.5l6,1l4.5-1zM794,711.5l-2,5.5l2,5l2.5-5l-0.5-2zM1177.5,764l-13.5-1l-4-1l-10-0.5l-6-1l-2,0.5l-2,3.5l-2,2l-2,1l-14,3l-22,2l-44.5,1.5l-7.5,4.5l-6,2l-8,2l-12,2l-2,0l-8-3.5l-4-2.5l-4-4.5l-2-1l-8,1l-26,0.5l-16,0.5l-6-0.5l-8-1l-12-3.5l-3-2.5l-1.5-3l1.5-8.5l-0.5-6.5l1.5-3.5l3-2l7-2l3-3.5l3-2l4-1.5l6-2l2-0.5l18,1l16,2l8-1.5l10-1l18,3.5l32.5-1l1.5-0.5l8-4l6-2l20-4l8.5-4.5l15.5-5.5l10-2l8-2.5l10-2l10,2.5l8,4l17.5,0M341,684l1-0.5l0.5,0.5l2.5,2l0,1l-3,1.5l-5.5-1.5l0.5-1zM220,696.5l8,4.5l6,2l-0.5,6.5l-2.5,5.5l-4,5.5l-4.5,3l11.5,10l3,2l-6.5,3l-2,2.5l0,152.5" fill="none" stroke="#000" stroke-width="0.8" stroke-linejoin="round"/></g>
<path d="M184.5,744.6L221.7,747.1L223.0,743.8L235.0,745.0L239.4,751.1L240.7,748.1L266.6,749.9L284.4,751.9L303.3,757.6L304.6,756.5L324.9,762.4L348.9,769.6L365.4,771.3L366.6,768.8L389.4,775.5L391.3,773.2L397.3,776.9L420.5,781.6L433.2,789.6L434.9,784.7L439.1,782.6L443.7,786.8L460.6,784.7L465.2,792.5L480.0,791.5L484.2,790.1L507.0,797.8L508.5,801.3L518.4,795.3L532.7,803.0L534.4,797.8L553.8,807.7L555.5,804.1L569.7,802.2L570.7,799.9L584.0,807.9L585.5,803.9L607.6,802.6L626.6,812.5L629.8,812.5L630.4,808.9L643.5,806.6L655.1,813.6L663.5,812.7L674.1,815.1L691.0,817.2L708.9,817.8L719.5,815.3L720.5,813.6L760.6,811.5L788.5,807.6L802.2,811.8L803.9,809.9L824.3,812.4L838.5,809.9L843.3,821.8L845.4,817.3L871.8,817.3L873.9,818.5L910.8,821.4L948.4,846.0L977.1,840.2L997.5,845.7L999.0,842.5L1005.6,840.2L1034.0,847.5L1077.1,852.8L1137.2,874.5L1177.3,881.2L1188.9,883.2L1193.1,880.6L1194.5,880.1L1194.5,893.5L184.5,893.5Z" fill="#999" stroke="#000" stroke-width="0.9" stroke-linejoin="round"/>
<rect x="184.5" y="892.6" width="1010.0" height="2.1" fill="#4a4a4a"/>
<path class="ax" d="M184.5,893.5V678.5H1194.5V893.5M184.5,893.5v11.3M184.5,678.5v-11.3M359.5,893.5v11.3M359.5,678.5v-11.3M533.5,893.5v11.3M533.5,678.5v-11.3M707.5,893.5v11.3M707.5,678.5v-11.3M881.5,893.5v11.3M881.5,678.5v-11.3M1055.5,893.5v11.3M1055.5,678.5v-11.3M184.5,678.5h-10.5M1194.5,678.5h11M184.5,786.5h-10.5M1194.5,786.5h11M184.5,893.5h-10.5M1194.5,893.5h11"/>
<rect x="1211.5" y="678.4" width="33" height="214.5" fill="url(#jet)" stroke="#000" stroke-width="1"/>
<path class="ax" d="M1244.8,785.6h-3"/>
</g>
<g filter="url(#nf)"><text x="689.8" y="63.6" text-anchor="middle" style="font-size:29.1px">SBU02_09_Summer</text>
<text class="t" x="184.8" y="40.3" text-anchor="middle">40.770</text>
<text class="t" x="184.8" y="61.1" text-anchor="middle">-72.482</text>
<text class="t" x="1194.7" y="40.3" text-anchor="middle">39.890</text>
<text class="t" x="1194.7" y="61.1" text-anchor="middle">-71.760</text>
<text class="t" x="184.7" y="330.2" text-anchor="middle">0</text>
<text class="t" x="359.7" y="330.2" text-anchor="middle">20</text>
<text class="t" x="533.7" y="330.2" text-anchor="middle">40</text>
<text class="t" x="707.7" y="330.2" text-anchor="middle">60</text>
<text class="t" x="881.7" y="330.2" text-anchor="middle">80</text>
<text class="t" x="1055.7" y="330.2" text-anchor="middle">100</text>
<text class="t" x="166.6" y="83.0" text-anchor="end">0</text>
<text class="t" x="166.6" y="191.0" text-anchor="end">50</text>
<text class="t" x="166.6" y="299.0" text-anchor="end">100</text>
<text class="l" transform="translate(110,183.8) rotate(-90)" text-anchor="middle">Depth, m</text>
<text class="c" x="1253.2" y="297.8">0</text>
<text class="c" x="1253.2" y="244.1">1</text>
<text class="c" x="1253.2" y="190.3">2</text>
<text class="c" x="1253.2" y="136.6">3</text>
<text class="c" x="1253.2" y="82.9">4</text>
<text class="cl" transform="translate(1291.2,184.9) rotate(-90)" text-anchor="middle">Chlorophyll, ug/l</text>
<text class="t" x="184.7" y="631.2" text-anchor="middle">0</text>
<text class="t" x="359.7" y="631.2" text-anchor="middle">20</text>
<text class="t" x="533.7" y="631.2" text-anchor="middle">40</text>
<text class="t" x="707.7" y="631.2" text-anchor="middle">60</text>
<text class="t" x="881.7" y="631.2" text-anchor="middle">80</text>
<text class="t" x="1055.7" y="631.2" text-anchor="middle">100</text>
<text class="t" x="166.6" y="385.0" text-anchor="end">0</text>
<text class="t" x="166.6" y="493.0" text-anchor="end">50</text>
<text class="t" x="166.6" y="600.0" text-anchor="end">100</text>
<text class="l" transform="translate(110,485.3) rotate(-90)" text-anchor="middle">Depth, m</text>
<text class="c" x="1253.2" y="599.0">0.5</text>
<text class="c" x="1253.2" y="491.7">1</text>
<text class="c" x="1253.2" y="384.5">1.5</text>
<text class="cl" transform="translate(1311.8,485.2) rotate(-90)" text-anchor="middle">Cdom, ppb</text>
<text class="t" x="184.7" y="932.2" text-anchor="middle">0</text>
<text class="t" x="359.7" y="932.2" text-anchor="middle">20</text>
<text class="t" x="533.7" y="932.2" text-anchor="middle">40</text>
<text class="t" x="707.7" y="932.2" text-anchor="middle">60</text>
<text class="t" x="881.7" y="932.2" text-anchor="middle">80</text>
<text class="t" x="1055.7" y="932.2" text-anchor="middle">100</text>
<text class="t" x="166.6" y="686.0" text-anchor="end">0</text>
<text class="t" x="166.6" y="794.0" text-anchor="end">50</text>
<text class="t" x="166.6" y="901.0" text-anchor="end">100</text>
<text class="l" transform="translate(110,786.3) rotate(-90)" text-anchor="middle">Depth, m</text>
<text class="c" x="1253.2" y="899.6">-3.5</text>
<text class="c" x="1253.2" y="792.4">-3</text>
<text class="c" x="1253.2" y="685.1">-2.5</text>
<text class="cl" transform="translate(1319.3,785.2) rotate(-90)" text-anchor="middle">log<tspan dy="5.5" style="font-size:14.5px">10</tspan><tspan dy="-5.5">(Backscatter)</tspan></text>
<text class="k" transform="translate(255.7,97.7) rotate(-49)" text-anchor="middle" dy="7.3">2</text>
<text class="k" transform="translate(285.0,118.7) rotate(31)" text-anchor="middle" dy="7.3">1.5</text>
<text class="k" transform="translate(260.5,127.6) rotate(-10)" text-anchor="middle" dy="7.3">1</text>
<text class="k" transform="translate(271.7,138.1) rotate(-13)" text-anchor="middle" dy="7.3">0.5</text>
<text class="k" transform="translate(433.9,98.6) rotate(3)" text-anchor="middle" dy="7.3">1.5</text>
<text class="k" transform="translate(461.8,109.3) rotate(2)" text-anchor="middle" dy="7.3">1</text>
<text class="k" transform="translate(518.6,114.3) rotate(-41)" text-anchor="middle" dy="7.3">1</text>
<text class="k" transform="translate(552.9,136.8) rotate(15)" text-anchor="middle" dy="7.3">0.5</text>
<text class="k" transform="translate(611.9,94.9) rotate(-2)" text-anchor="middle" dy="7.3">1</text>
<text class="k" transform="translate(600.9,113.1) rotate(4)" text-anchor="middle" dy="7.3">2</text>
<text class="k" transform="translate(632.9,121.2) rotate(5)" text-anchor="middle" dy="7.3">1.5</text>
<text class="k" transform="translate(653.3,132.4) rotate(-7)" text-anchor="middle" dy="7.3">1</text>
<text class="k" transform="translate(711.5,109.2) rotate(8)" text-anchor="middle" dy="7.3">2</text>
<text class="k" transform="translate(739.7,107.6) rotate(3)" text-anchor="middle" dy="7.3">1.5</text>
<text class="k" transform="translate(781.6,131.3) rotate(18)" text-anchor="middle" dy="7.3">1</text>
<text class="k" transform="translate(828.6,112) rotate(-85)" text-anchor="middle" dy="7.3">1.5</text>
<text class="k" transform="translate(845.5,145.5) rotate(8)" text-anchor="middle" dy="7.3">0.5</text>
<text class="k" transform="translate(889,100.4) rotate(-3)" text-anchor="middle" dy="7.3">1</text>
<text class="k" transform="translate(889.5,120.8) rotate(3)" text-anchor="middle" dy="7.3">2</text>
<text class="k" transform="translate(934.5,158.5) rotate(25)" text-anchor="middle" dy="7.3">2</text>
<text class="k" transform="translate(938.3,161.6) rotate(25)" text-anchor="middle" dy="7.3">1.5</text>
<text class="k" transform="translate(1011.7,143.5) rotate(-5)" text-anchor="middle" dy="7.3">2</text>
<text class="k" transform="translate(1052.6,145.1) rotate(-8)" text-anchor="middle" dy="7.3">1.5</text>
<text class="k" transform="translate(1056.4,172.2) rotate(-13)" text-anchor="middle" dy="7.3">1</text>
<text class="k" transform="translate(1107.8,173.3) rotate(3)" text-anchor="middle" dy="7.3">0.5</text>
<text class="k" transform="translate(1098.4,108.1) rotate(-9)" text-anchor="middle" dy="7.3">0.5</text>
<text class="k" transform="translate(1127.1,113.6) rotate(-22)" text-anchor="middle" dy="7.3">1</text>
<text class="l" x="689.9" y="962.7" text-anchor="middle">Kilometers</text></g>
</svg></body></html>
